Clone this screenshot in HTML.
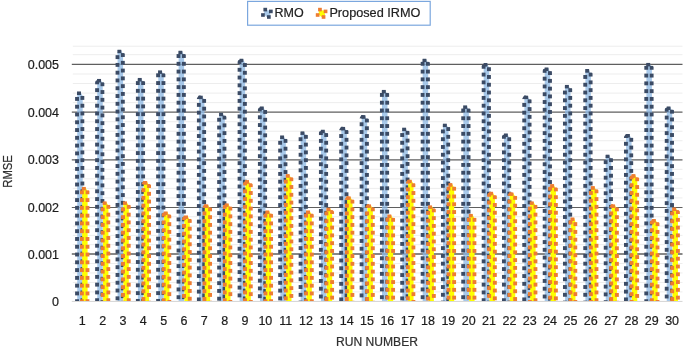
<!DOCTYPE html>
<html><head><meta charset="utf-8"><title>RMSE chart</title>
<style>html,body{margin:0;padding:0;background:#fff}body{width:685px;height:348px;overflow:hidden}</style>
</head><body>
<svg width="685" height="348" viewBox="0 0 685 348" style="display:block">
<rect width="685" height="348" fill="#fff"/>
<defs><clipPath id="c1"><polygon points="74.80,301.10 74.80,94.70 77.00,91.30 81.00,91.30 84.70,95.70 84.70,301.10"/></clipPath><clipPath id="c2"><polygon points="79.60,301.10 79.60,190.10 81.80,186.70 85.80,186.70 89.80,191.10 89.80,301.10"/></clipPath><clipPath id="c3"><polygon points="94.84,301.10 94.84,82.20 97.04,78.80 101.04,78.80 104.74,83.20 104.74,301.10"/></clipPath><clipPath id="c4"><polygon points="100.44,301.10 100.44,204.60 102.64,201.20 106.64,201.20 110.64,205.60 110.64,301.10"/></clipPath><clipPath id="c5"><polygon points="115.18,301.10 115.18,52.90 117.38,49.50 121.38,49.50 125.08,53.90 125.08,301.10"/></clipPath><clipPath id="c6"><polygon points="120.78,301.10 120.78,204.60 122.98,201.20 126.98,201.20 130.98,205.60 130.98,301.10"/></clipPath><clipPath id="c7"><polygon points="135.52,301.10 135.52,81.20 137.72,77.80 141.72,77.80 145.42,82.20 145.42,301.10"/></clipPath><clipPath id="c8"><polygon points="141.12,301.10 141.12,184.40 143.32,181.00 147.32,181.00 151.32,185.40 151.32,301.10"/></clipPath><clipPath id="c9"><polygon points="155.86,301.10 155.86,73.60 158.06,70.20 162.06,70.20 165.76,74.60 165.76,301.10"/></clipPath><clipPath id="c10"><polygon points="161.46,301.10 161.46,214.70 163.66,211.30 167.66,211.30 171.66,215.70 171.66,301.10"/></clipPath><clipPath id="c11"><polygon points="176.20,301.10 176.20,53.90 178.40,50.50 182.40,50.50 186.10,54.90 186.10,301.10"/></clipPath><clipPath id="c12"><polygon points="181.80,301.10 181.80,218.70 184.00,215.30 188.00,215.30 192.00,219.70 192.00,301.10"/></clipPath><clipPath id="c13"><polygon points="196.54,301.10 196.54,98.80 198.74,95.40 202.74,95.40 206.44,99.80 206.44,301.10"/></clipPath><clipPath id="c14"><polygon points="202.14,301.10 202.14,207.60 204.34,204.20 208.34,204.20 212.34,208.60 212.34,301.10"/></clipPath><clipPath id="c15"><polygon points="216.88,301.10 216.88,115.90 219.08,112.50 223.08,112.50 226.78,116.90 226.78,301.10"/></clipPath><clipPath id="c16"><polygon points="222.48,301.10 222.48,206.60 224.68,203.20 228.68,203.20 232.68,207.60 232.68,301.10"/></clipPath><clipPath id="c17"><polygon points="237.22,301.10 237.22,61.90 239.42,58.50 243.42,58.50 247.12,62.90 247.12,301.10"/></clipPath><clipPath id="c18"><polygon points="242.82,301.10 242.82,183.50 245.02,180.10 249.02,180.10 253.02,184.50 253.02,301.10"/></clipPath><clipPath id="c19"><polygon points="257.56,301.10 257.56,109.70 259.76,106.30 263.76,106.30 267.46,110.70 267.46,301.10"/></clipPath><clipPath id="c20"><polygon points="263.16,301.10 263.16,213.70 265.36,210.30 269.36,210.30 273.36,214.70 273.36,301.10"/></clipPath><clipPath id="c21"><polygon points="277.90,301.10 277.90,138.70 280.10,135.30 284.10,135.30 287.80,139.70 287.80,301.10"/></clipPath><clipPath id="c22"><polygon points="283.50,301.10 283.50,177.50 285.70,174.10 289.70,174.10 293.70,178.50 293.70,301.10"/></clipPath><clipPath id="c23"><polygon points="298.24,301.10 298.24,134.60 300.44,131.20 304.44,131.20 308.14,135.60 308.14,301.10"/></clipPath><clipPath id="c24"><polygon points="303.84,301.10 303.84,213.70 306.04,210.30 310.04,210.30 314.04,214.70 314.04,301.10"/></clipPath><clipPath id="c25"><polygon points="318.58,301.10 318.58,132.90 320.78,129.50 324.78,129.50 328.48,133.90 328.48,301.10"/></clipPath><clipPath id="c26"><polygon points="324.18,301.10 324.18,211.00 326.38,207.60 330.38,207.60 334.38,212.00 334.38,301.10"/></clipPath><clipPath id="c27"><polygon points="338.92,301.10 338.92,130.10 341.12,126.70 345.12,126.70 348.82,131.10 348.82,301.10"/></clipPath><clipPath id="c28"><polygon points="344.52,301.10 344.52,199.60 346.72,196.20 350.72,196.20 354.72,200.60 354.72,301.10"/></clipPath><clipPath id="c29"><polygon points="359.26,301.10 359.26,118.50 361.46,115.10 365.46,115.10 369.16,119.50 369.16,301.10"/></clipPath><clipPath id="c30"><polygon points="364.86,301.10 364.86,207.60 367.06,204.20 371.06,204.20 375.06,208.60 375.06,301.10"/></clipPath><clipPath id="c31"><polygon points="379.60,301.10 379.60,93.10 381.80,89.70 385.80,89.70 389.50,94.10 389.50,301.10"/></clipPath><clipPath id="c32"><polygon points="385.20,301.10 385.20,217.70 387.40,214.30 391.40,214.30 395.40,218.70 395.40,301.10"/></clipPath><clipPath id="c33"><polygon points="399.94,301.10 399.94,130.80 402.14,127.40 406.14,127.40 409.84,131.80 409.84,301.10"/></clipPath><clipPath id="c34"><polygon points="405.54,301.10 405.54,182.90 407.74,179.50 411.74,179.50 415.74,183.90 415.74,301.10"/></clipPath><clipPath id="c35"><polygon points="420.28,301.10 420.28,61.90 422.48,58.50 426.48,58.50 430.18,62.90 430.18,301.10"/></clipPath><clipPath id="c36"><polygon points="425.88,301.10 425.88,208.60 428.08,205.20 432.08,205.20 436.08,209.60 436.08,301.10"/></clipPath><clipPath id="c37"><polygon points="440.62,301.10 440.62,126.80 442.82,123.40 446.82,123.40 450.52,127.80 450.52,301.10"/></clipPath><clipPath id="c38"><polygon points="446.22,301.10 446.22,186.50 448.42,183.10 452.42,183.10 456.42,187.50 456.42,301.10"/></clipPath><clipPath id="c39"><polygon points="460.96,301.10 460.96,108.60 463.16,105.20 467.16,105.20 470.86,109.60 470.86,301.10"/></clipPath><clipPath id="c40"><polygon points="466.56,301.10 466.56,217.10 468.76,213.70 472.76,213.70 476.76,218.10 476.76,301.10"/></clipPath><clipPath id="c41"><polygon points="481.30,301.10 481.30,66.30 483.50,62.90 487.50,62.90 491.20,67.30 491.20,301.10"/></clipPath><clipPath id="c42"><polygon points="486.90,301.10 486.90,195.00 489.10,191.60 493.10,191.60 497.10,196.00 497.10,301.10"/></clipPath><clipPath id="c43"><polygon points="501.64,301.10 501.64,136.70 503.84,133.30 507.84,133.30 511.54,137.70 511.54,301.10"/></clipPath><clipPath id="c44"><polygon points="507.24,301.10 507.24,195.60 509.44,192.20 513.44,192.20 517.44,196.60 517.44,301.10"/></clipPath><clipPath id="c45"><polygon points="521.98,301.10 521.98,98.80 524.18,95.40 528.18,95.40 531.88,99.80 531.88,301.10"/></clipPath><clipPath id="c46"><polygon points="527.58,301.10 527.58,204.60 529.78,201.20 533.78,201.20 537.78,205.60 537.78,301.10"/></clipPath><clipPath id="c47"><polygon points="542.32,301.10 542.32,70.70 544.52,67.30 548.52,67.30 552.22,71.70 552.22,301.10"/></clipPath><clipPath id="c48"><polygon points="547.92,301.10 547.92,187.50 550.12,184.10 554.12,184.10 558.12,188.50 558.12,301.10"/></clipPath><clipPath id="c49"><polygon points="562.66,301.10 562.66,88.10 564.86,84.70 568.86,84.70 572.56,89.10 572.56,301.10"/></clipPath><clipPath id="c50"><polygon points="568.26,301.10 568.26,220.70 570.46,217.30 574.46,217.30 577.66,221.70 577.66,301.10"/></clipPath><clipPath id="c51"><polygon points="583.00,301.10 583.00,72.40 585.20,69.00 589.20,69.00 592.90,73.40 592.90,301.10"/></clipPath><clipPath id="c52"><polygon points="588.60,301.10 588.60,189.50 590.80,186.10 594.80,186.10 598.80,190.50 598.80,301.10"/></clipPath><clipPath id="c53"><polygon points="603.34,301.10 603.34,157.80 605.54,154.40 609.54,154.40 613.24,158.80 613.24,301.10"/></clipPath><clipPath id="c54"><polygon points="608.94,301.10 608.94,207.60 611.14,204.20 615.14,204.20 619.14,208.60 619.14,301.10"/></clipPath><clipPath id="c55"><polygon points="623.68,301.10 623.68,137.30 625.88,133.90 629.88,133.90 633.58,138.30 633.58,301.10"/></clipPath><clipPath id="c56"><polygon points="629.28,301.10 629.28,177.50 631.48,174.10 635.48,174.10 639.48,178.50 639.48,301.10"/></clipPath><clipPath id="c57"><polygon points="644.02,301.10 644.02,66.10 646.22,62.70 650.22,62.70 653.92,67.10 653.92,301.10"/></clipPath><clipPath id="c58"><polygon points="649.62,301.10 649.62,222.30 651.82,218.90 655.82,218.90 659.82,223.30 659.82,301.10"/></clipPath><clipPath id="c59"><polygon points="664.36,301.10 664.36,109.70 666.56,106.30 670.56,106.30 674.26,110.70 674.26,301.10"/></clipPath><clipPath id="c60"><polygon points="669.96,301.10 669.96,210.70 672.16,207.30 676.16,207.30 680.16,211.70 680.16,301.10"/></clipPath></defs>
<g stroke="#ededed" stroke-width="1">
<line x1="72.8" x2="682.5" y1="291.92" y2="291.92"/>
<line x1="72.8" x2="682.5" y1="282.44" y2="282.44"/>
<line x1="72.8" x2="682.5" y1="272.96" y2="272.96"/>
<line x1="72.8" x2="682.5" y1="263.48" y2="263.48"/>
<line x1="72.8" x2="682.5" y1="244.69" y2="244.69"/>
<line x1="72.8" x2="682.5" y1="235.38" y2="235.38"/>
<line x1="72.8" x2="682.5" y1="226.07" y2="226.07"/>
<line x1="72.8" x2="682.5" y1="216.76" y2="216.76"/>
<line x1="72.8" x2="682.5" y1="197.92" y2="197.92"/>
<line x1="72.8" x2="682.5" y1="188.39" y2="188.39"/>
<line x1="72.8" x2="682.5" y1="178.86" y2="178.86"/>
<line x1="72.8" x2="682.5" y1="169.33" y2="169.33"/>
<line x1="72.8" x2="682.5" y1="150.28" y2="150.28"/>
<line x1="72.8" x2="682.5" y1="140.76" y2="140.76"/>
<line x1="72.8" x2="682.5" y1="131.24" y2="131.24"/>
<line x1="72.8" x2="682.5" y1="121.72" y2="121.72"/>
<line x1="72.8" x2="682.5" y1="102.65" y2="102.65"/>
<line x1="72.8" x2="682.5" y1="93.10" y2="93.10"/>
<line x1="72.8" x2="682.5" y1="83.55" y2="83.55"/>
<line x1="72.8" x2="682.5" y1="74.00" y2="74.00"/>
<line x1="72.8" x2="682.5" y1="54.70" y2="54.70"/>
<line x1="72.8" x2="682.5" y1="46.20" y2="46.20"/>
</g>
<g stroke="#5f5f5f">
<line x1="71.8" x2="682.5" y1="254.00" y2="254.00" stroke-width="1.3"/>
<line x1="71.8" x2="682.5" y1="207.45" y2="207.45" stroke-width="1.1"/>
<line x1="71.8" x2="682.5" y1="159.80" y2="159.80" stroke-width="1.3"/>
<line x1="71.8" x2="682.5" y1="112.20" y2="112.20" stroke-width="1.3"/>
<line x1="71.8" x2="682.5" y1="64.45" y2="64.45" stroke-width="1.15"/>
</g>
<line x1="71.8" x2="682.5" y1="301.4" y2="301.4" stroke="#d4d4d4" stroke-width="1"/>
<filter id="sb" x="-2%" y="-2%" width="104%" height="104%"><feGaussianBlur stdDeviation="0.35"/></filter>
<g id="bars" filter="url(#sb)">
<g>
<polygon fill="#8bb7e3" fill-opacity="0.75" points="77.20,301.10 77.20,94.30 78.70,92.10 80.40,92.10 82.70,95.90 82.70,301.10"/>
<g fill="#3b4b65" clip-path="url(#c1)">
<rect x="77.00" y="91.30" width="4.0" height="3.6999999999999997"/>
<rect x="75.10" y="96.97" width="3.9" height="3.9"/>
<rect x="75.10" y="104.75" width="3.9" height="3.9"/>
<rect x="75.10" y="112.53" width="3.9" height="3.9"/>
<rect x="75.10" y="120.31" width="3.9" height="3.9"/>
<rect x="75.10" y="128.09" width="3.9" height="3.9"/>
<rect x="75.10" y="135.87" width="3.9" height="3.9"/>
<rect x="75.10" y="143.65" width="3.9" height="3.9"/>
<rect x="75.10" y="151.43" width="3.9" height="3.9"/>
<rect x="75.10" y="159.21" width="3.9" height="3.9"/>
<rect x="75.10" y="166.99" width="3.9" height="3.9"/>
<rect x="75.10" y="174.77" width="3.9" height="3.9"/>
<rect x="75.10" y="182.55" width="3.9" height="3.9"/>
<rect x="75.10" y="190.33" width="3.9" height="3.9"/>
<rect x="75.10" y="198.11" width="3.9" height="3.9"/>
<rect x="75.10" y="205.89" width="3.9" height="3.9"/>
<rect x="75.10" y="213.67" width="3.9" height="3.9"/>
<rect x="75.10" y="221.45" width="3.9" height="3.9"/>
<rect x="75.10" y="229.23" width="3.9" height="3.9"/>
<rect x="75.10" y="237.01" width="3.9" height="3.9"/>
<rect x="75.10" y="244.79" width="3.9" height="3.9"/>
<rect x="75.10" y="252.57" width="3.9" height="3.9"/>
<rect x="75.10" y="260.35" width="3.9" height="3.9"/>
<rect x="75.10" y="268.13" width="3.9" height="3.9"/>
<rect x="75.10" y="275.91" width="3.9" height="3.9"/>
<rect x="75.10" y="283.69" width="3.9" height="3.9"/>
<rect x="75.10" y="291.47" width="3.9" height="3.9"/>
<rect x="75.10" y="299.25" width="3.9" height="3.9"/>
<rect x="80.50" y="95.97" width="3.9" height="3.9"/>
<rect x="80.50" y="103.75" width="3.9" height="3.9"/>
<rect x="80.50" y="111.53" width="3.9" height="3.9"/>
<rect x="80.50" y="119.31" width="3.9" height="3.9"/>
<rect x="80.50" y="127.09" width="3.9" height="3.9"/>
<rect x="80.50" y="134.87" width="3.9" height="3.9"/>
<rect x="80.50" y="142.65" width="3.9" height="3.9"/>
<rect x="80.50" y="150.43" width="3.9" height="3.9"/>
<rect x="80.50" y="158.21" width="3.9" height="3.9"/>
<rect x="80.50" y="165.99" width="3.9" height="3.9"/>
<rect x="80.50" y="173.77" width="3.9" height="3.9"/>
<rect x="80.50" y="181.55" width="3.9" height="3.9"/>
<rect x="80.50" y="189.33" width="3.9" height="3.9"/>
<rect x="80.50" y="197.11" width="3.9" height="3.9"/>
<rect x="80.50" y="204.89" width="3.9" height="3.9"/>
<rect x="80.50" y="212.67" width="3.9" height="3.9"/>
<rect x="80.50" y="220.45" width="3.9" height="3.9"/>
<rect x="80.50" y="228.23" width="3.9" height="3.9"/>
<rect x="80.50" y="236.01" width="3.9" height="3.9"/>
<rect x="80.50" y="243.79" width="3.9" height="3.9"/>
<rect x="80.50" y="251.57" width="3.9" height="3.9"/>
<rect x="80.50" y="259.35" width="3.9" height="3.9"/>
<rect x="80.50" y="267.13" width="3.9" height="3.9"/>
<rect x="80.50" y="274.91" width="3.9" height="3.9"/>
<rect x="80.50" y="282.69" width="3.9" height="3.9"/>
<rect x="80.50" y="290.47" width="3.9" height="3.9"/>
<rect x="80.50" y="298.25" width="3.9" height="3.9"/>
</g>
<polygon fill="#ffff00" fill-opacity="1" points="82.20,301.10 82.20,189.70 83.70,187.50 85.40,187.50 87.60,191.30 87.60,301.10"/>
<g fill="#ed7d31" clip-path="url(#c2)">
<rect x="81.80" y="186.70" width="4.0" height="3.6999999999999997"/>
<rect x="79.90" y="190.35" width="3.9" height="3.9"/>
<rect x="79.90" y="198.13" width="3.9" height="3.9"/>
<rect x="79.90" y="205.91" width="3.9" height="3.9"/>
<rect x="79.90" y="213.69" width="3.9" height="3.9"/>
<rect x="79.90" y="221.47" width="3.9" height="3.9"/>
<rect x="79.90" y="229.25" width="3.9" height="3.9"/>
<rect x="79.90" y="237.03" width="3.9" height="3.9"/>
<rect x="79.90" y="244.81" width="3.9" height="3.9"/>
<rect x="79.90" y="252.59" width="3.9" height="3.9"/>
<rect x="79.90" y="260.37" width="3.9" height="3.9"/>
<rect x="79.90" y="268.15" width="3.9" height="3.9"/>
<rect x="79.90" y="275.93" width="3.9" height="3.9"/>
<rect x="79.90" y="283.71" width="3.9" height="3.9"/>
<rect x="79.90" y="291.49" width="3.9" height="3.9"/>
<rect x="79.90" y="299.27" width="3.9" height="3.9"/>
<rect x="85.60" y="190.35" width="3.9" height="3.9"/>
<rect x="85.60" y="198.13" width="3.9" height="3.9"/>
<rect x="85.60" y="205.91" width="3.9" height="3.9"/>
<rect x="85.60" y="213.69" width="3.9" height="3.9"/>
<rect x="85.60" y="221.47" width="3.9" height="3.9"/>
<rect x="85.60" y="229.25" width="3.9" height="3.9"/>
<rect x="85.60" y="237.03" width="3.9" height="3.9"/>
<rect x="85.60" y="244.81" width="3.9" height="3.9"/>
<rect x="85.60" y="252.59" width="3.9" height="3.9"/>
<rect x="85.60" y="260.37" width="3.9" height="3.9"/>
<rect x="85.60" y="268.15" width="3.9" height="3.9"/>
<rect x="85.60" y="275.93" width="3.9" height="3.9"/>
<rect x="85.60" y="283.71" width="3.9" height="3.9"/>
<rect x="85.60" y="291.49" width="3.9" height="3.9"/>
<rect x="85.60" y="299.27" width="3.9" height="3.9"/>
</g>
</g>
<g>
<polygon fill="#8bb7e3" fill-opacity="0.75" points="97.24,301.10 97.24,81.80 98.74,79.60 100.44,79.60 102.74,83.40 102.74,301.10"/>
<g fill="#3b4b65" clip-path="url(#c3)">
<rect x="97.04" y="78.80" width="4.0" height="3.6999999999999997"/>
<rect x="95.14" y="80.41" width="3.9" height="3.9"/>
<rect x="95.14" y="88.19" width="3.9" height="3.9"/>
<rect x="95.14" y="95.97" width="3.9" height="3.9"/>
<rect x="95.14" y="103.75" width="3.9" height="3.9"/>
<rect x="95.14" y="111.53" width="3.9" height="3.9"/>
<rect x="95.14" y="119.31" width="3.9" height="3.9"/>
<rect x="95.14" y="127.09" width="3.9" height="3.9"/>
<rect x="95.14" y="134.87" width="3.9" height="3.9"/>
<rect x="95.14" y="142.65" width="3.9" height="3.9"/>
<rect x="95.14" y="150.43" width="3.9" height="3.9"/>
<rect x="95.14" y="158.21" width="3.9" height="3.9"/>
<rect x="95.14" y="165.99" width="3.9" height="3.9"/>
<rect x="95.14" y="173.77" width="3.9" height="3.9"/>
<rect x="95.14" y="181.55" width="3.9" height="3.9"/>
<rect x="95.14" y="189.33" width="3.9" height="3.9"/>
<rect x="95.14" y="197.11" width="3.9" height="3.9"/>
<rect x="95.14" y="204.89" width="3.9" height="3.9"/>
<rect x="95.14" y="212.67" width="3.9" height="3.9"/>
<rect x="95.14" y="220.45" width="3.9" height="3.9"/>
<rect x="95.14" y="228.23" width="3.9" height="3.9"/>
<rect x="95.14" y="236.01" width="3.9" height="3.9"/>
<rect x="95.14" y="243.79" width="3.9" height="3.9"/>
<rect x="95.14" y="251.57" width="3.9" height="3.9"/>
<rect x="95.14" y="259.35" width="3.9" height="3.9"/>
<rect x="95.14" y="267.13" width="3.9" height="3.9"/>
<rect x="95.14" y="274.91" width="3.9" height="3.9"/>
<rect x="95.14" y="282.69" width="3.9" height="3.9"/>
<rect x="95.14" y="290.47" width="3.9" height="3.9"/>
<rect x="95.14" y="298.25" width="3.9" height="3.9"/>
<rect x="100.54" y="82.31" width="3.9" height="3.9"/>
<rect x="100.54" y="90.09" width="3.9" height="3.9"/>
<rect x="100.54" y="97.87" width="3.9" height="3.9"/>
<rect x="100.54" y="105.65" width="3.9" height="3.9"/>
<rect x="100.54" y="113.43" width="3.9" height="3.9"/>
<rect x="100.54" y="121.21" width="3.9" height="3.9"/>
<rect x="100.54" y="128.99" width="3.9" height="3.9"/>
<rect x="100.54" y="136.77" width="3.9" height="3.9"/>
<rect x="100.54" y="144.55" width="3.9" height="3.9"/>
<rect x="100.54" y="152.33" width="3.9" height="3.9"/>
<rect x="100.54" y="160.11" width="3.9" height="3.9"/>
<rect x="100.54" y="167.89" width="3.9" height="3.9"/>
<rect x="100.54" y="175.67" width="3.9" height="3.9"/>
<rect x="100.54" y="183.45" width="3.9" height="3.9"/>
<rect x="100.54" y="191.23" width="3.9" height="3.9"/>
<rect x="100.54" y="199.01" width="3.9" height="3.9"/>
<rect x="100.54" y="206.79" width="3.9" height="3.9"/>
<rect x="100.54" y="214.57" width="3.9" height="3.9"/>
<rect x="100.54" y="222.35" width="3.9" height="3.9"/>
<rect x="100.54" y="230.13" width="3.9" height="3.9"/>
<rect x="100.54" y="237.91" width="3.9" height="3.9"/>
<rect x="100.54" y="245.69" width="3.9" height="3.9"/>
<rect x="100.54" y="253.47" width="3.9" height="3.9"/>
<rect x="100.54" y="261.25" width="3.9" height="3.9"/>
<rect x="100.54" y="269.03" width="3.9" height="3.9"/>
<rect x="100.54" y="276.81" width="3.9" height="3.9"/>
<rect x="100.54" y="284.59" width="3.9" height="3.9"/>
<rect x="100.54" y="292.37" width="3.9" height="3.9"/>
<rect x="100.54" y="300.15" width="3.9" height="3.9"/>
</g>
<polygon fill="#ffff00" fill-opacity="1" points="103.04,301.10 103.04,204.20 104.54,202.00 106.24,202.00 108.44,205.80 108.44,301.10"/>
<g fill="#ed7d31" clip-path="url(#c4)">
<rect x="102.64" y="201.20" width="4.0" height="3.6999999999999997"/>
<rect x="100.74" y="207.41" width="3.9" height="3.9"/>
<rect x="100.74" y="215.19" width="3.9" height="3.9"/>
<rect x="100.74" y="222.97" width="3.9" height="3.9"/>
<rect x="100.74" y="230.75" width="3.9" height="3.9"/>
<rect x="100.74" y="238.53" width="3.9" height="3.9"/>
<rect x="100.74" y="246.31" width="3.9" height="3.9"/>
<rect x="100.74" y="254.09" width="3.9" height="3.9"/>
<rect x="100.74" y="261.87" width="3.9" height="3.9"/>
<rect x="100.74" y="269.65" width="3.9" height="3.9"/>
<rect x="100.74" y="277.43" width="3.9" height="3.9"/>
<rect x="100.74" y="285.21" width="3.9" height="3.9"/>
<rect x="100.74" y="292.99" width="3.9" height="3.9"/>
<rect x="100.74" y="300.77" width="3.9" height="3.9"/>
<rect x="106.44" y="204.91" width="3.9" height="3.9"/>
<rect x="106.44" y="212.69" width="3.9" height="3.9"/>
<rect x="106.44" y="220.47" width="3.9" height="3.9"/>
<rect x="106.44" y="228.25" width="3.9" height="3.9"/>
<rect x="106.44" y="236.03" width="3.9" height="3.9"/>
<rect x="106.44" y="243.81" width="3.9" height="3.9"/>
<rect x="106.44" y="251.59" width="3.9" height="3.9"/>
<rect x="106.44" y="259.37" width="3.9" height="3.9"/>
<rect x="106.44" y="267.15" width="3.9" height="3.9"/>
<rect x="106.44" y="274.93" width="3.9" height="3.9"/>
<rect x="106.44" y="282.71" width="3.9" height="3.9"/>
<rect x="106.44" y="290.49" width="3.9" height="3.9"/>
<rect x="106.44" y="298.27" width="3.9" height="3.9"/>
</g>
</g>
<g>
<polygon fill="#8bb7e3" fill-opacity="0.75" points="117.58,301.10 117.58,52.50 119.08,50.30 120.78,50.30 123.08,54.10 123.08,301.10"/>
<g fill="#3b4b65" clip-path="url(#c5)">
<rect x="117.38" y="49.50" width="4.0" height="3.6999999999999997"/>
<rect x="115.48" y="55.17" width="3.9" height="3.9"/>
<rect x="115.48" y="62.95" width="3.9" height="3.9"/>
<rect x="115.48" y="70.73" width="3.9" height="3.9"/>
<rect x="115.48" y="78.51" width="3.9" height="3.9"/>
<rect x="115.48" y="86.29" width="3.9" height="3.9"/>
<rect x="115.48" y="94.07" width="3.9" height="3.9"/>
<rect x="115.48" y="101.85" width="3.9" height="3.9"/>
<rect x="115.48" y="109.63" width="3.9" height="3.9"/>
<rect x="115.48" y="117.41" width="3.9" height="3.9"/>
<rect x="115.48" y="125.19" width="3.9" height="3.9"/>
<rect x="115.48" y="132.97" width="3.9" height="3.9"/>
<rect x="115.48" y="140.75" width="3.9" height="3.9"/>
<rect x="115.48" y="148.53" width="3.9" height="3.9"/>
<rect x="115.48" y="156.31" width="3.9" height="3.9"/>
<rect x="115.48" y="164.09" width="3.9" height="3.9"/>
<rect x="115.48" y="171.87" width="3.9" height="3.9"/>
<rect x="115.48" y="179.65" width="3.9" height="3.9"/>
<rect x="115.48" y="187.43" width="3.9" height="3.9"/>
<rect x="115.48" y="195.21" width="3.9" height="3.9"/>
<rect x="115.48" y="202.99" width="3.9" height="3.9"/>
<rect x="115.48" y="210.77" width="3.9" height="3.9"/>
<rect x="115.48" y="218.55" width="3.9" height="3.9"/>
<rect x="115.48" y="226.33" width="3.9" height="3.9"/>
<rect x="115.48" y="234.11" width="3.9" height="3.9"/>
<rect x="115.48" y="241.89" width="3.9" height="3.9"/>
<rect x="115.48" y="249.67" width="3.9" height="3.9"/>
<rect x="115.48" y="257.45" width="3.9" height="3.9"/>
<rect x="115.48" y="265.23" width="3.9" height="3.9"/>
<rect x="115.48" y="273.01" width="3.9" height="3.9"/>
<rect x="115.48" y="280.79" width="3.9" height="3.9"/>
<rect x="115.48" y="288.57" width="3.9" height="3.9"/>
<rect x="115.48" y="296.35" width="3.9" height="3.9"/>
<rect x="120.88" y="53.07" width="3.9" height="3.9"/>
<rect x="120.88" y="60.85" width="3.9" height="3.9"/>
<rect x="120.88" y="68.63" width="3.9" height="3.9"/>
<rect x="120.88" y="76.41" width="3.9" height="3.9"/>
<rect x="120.88" y="84.19" width="3.9" height="3.9"/>
<rect x="120.88" y="91.97" width="3.9" height="3.9"/>
<rect x="120.88" y="99.75" width="3.9" height="3.9"/>
<rect x="120.88" y="107.53" width="3.9" height="3.9"/>
<rect x="120.88" y="115.31" width="3.9" height="3.9"/>
<rect x="120.88" y="123.09" width="3.9" height="3.9"/>
<rect x="120.88" y="130.87" width="3.9" height="3.9"/>
<rect x="120.88" y="138.65" width="3.9" height="3.9"/>
<rect x="120.88" y="146.43" width="3.9" height="3.9"/>
<rect x="120.88" y="154.21" width="3.9" height="3.9"/>
<rect x="120.88" y="161.99" width="3.9" height="3.9"/>
<rect x="120.88" y="169.77" width="3.9" height="3.9"/>
<rect x="120.88" y="177.55" width="3.9" height="3.9"/>
<rect x="120.88" y="185.33" width="3.9" height="3.9"/>
<rect x="120.88" y="193.11" width="3.9" height="3.9"/>
<rect x="120.88" y="200.89" width="3.9" height="3.9"/>
<rect x="120.88" y="208.67" width="3.9" height="3.9"/>
<rect x="120.88" y="216.45" width="3.9" height="3.9"/>
<rect x="120.88" y="224.23" width="3.9" height="3.9"/>
<rect x="120.88" y="232.01" width="3.9" height="3.9"/>
<rect x="120.88" y="239.79" width="3.9" height="3.9"/>
<rect x="120.88" y="247.57" width="3.9" height="3.9"/>
<rect x="120.88" y="255.35" width="3.9" height="3.9"/>
<rect x="120.88" y="263.13" width="3.9" height="3.9"/>
<rect x="120.88" y="270.91" width="3.9" height="3.9"/>
<rect x="120.88" y="278.69" width="3.9" height="3.9"/>
<rect x="120.88" y="286.47" width="3.9" height="3.9"/>
<rect x="120.88" y="294.25" width="3.9" height="3.9"/>
</g>
<polygon fill="#ffff00" fill-opacity="1" points="123.38,301.10 123.38,204.20 124.88,202.00 126.58,202.00 128.78,205.80 128.78,301.10"/>
<g fill="#ed7d31" clip-path="url(#c6)">
<rect x="122.98" y="201.20" width="4.0" height="3.6999999999999997"/>
<rect x="121.08" y="207.41" width="3.9" height="3.9"/>
<rect x="121.08" y="215.19" width="3.9" height="3.9"/>
<rect x="121.08" y="222.97" width="3.9" height="3.9"/>
<rect x="121.08" y="230.75" width="3.9" height="3.9"/>
<rect x="121.08" y="238.53" width="3.9" height="3.9"/>
<rect x="121.08" y="246.31" width="3.9" height="3.9"/>
<rect x="121.08" y="254.09" width="3.9" height="3.9"/>
<rect x="121.08" y="261.87" width="3.9" height="3.9"/>
<rect x="121.08" y="269.65" width="3.9" height="3.9"/>
<rect x="121.08" y="277.43" width="3.9" height="3.9"/>
<rect x="121.08" y="285.21" width="3.9" height="3.9"/>
<rect x="121.08" y="292.99" width="3.9" height="3.9"/>
<rect x="121.08" y="300.77" width="3.9" height="3.9"/>
<rect x="126.78" y="204.91" width="3.9" height="3.9"/>
<rect x="126.78" y="212.69" width="3.9" height="3.9"/>
<rect x="126.78" y="220.47" width="3.9" height="3.9"/>
<rect x="126.78" y="228.25" width="3.9" height="3.9"/>
<rect x="126.78" y="236.03" width="3.9" height="3.9"/>
<rect x="126.78" y="243.81" width="3.9" height="3.9"/>
<rect x="126.78" y="251.59" width="3.9" height="3.9"/>
<rect x="126.78" y="259.37" width="3.9" height="3.9"/>
<rect x="126.78" y="267.15" width="3.9" height="3.9"/>
<rect x="126.78" y="274.93" width="3.9" height="3.9"/>
<rect x="126.78" y="282.71" width="3.9" height="3.9"/>
<rect x="126.78" y="290.49" width="3.9" height="3.9"/>
<rect x="126.78" y="298.27" width="3.9" height="3.9"/>
</g>
</g>
<g>
<polygon fill="#8bb7e3" fill-opacity="0.75" points="137.92,301.10 137.92,80.80 139.42,78.60 141.12,78.60 143.42,82.40 143.42,301.10"/>
<g fill="#3b4b65" clip-path="url(#c7)">
<rect x="137.72" y="77.80" width="4.0" height="3.6999999999999997"/>
<rect x="135.82" y="81.11" width="3.9" height="3.9"/>
<rect x="135.82" y="88.89" width="3.9" height="3.9"/>
<rect x="135.82" y="96.67" width="3.9" height="3.9"/>
<rect x="135.82" y="104.45" width="3.9" height="3.9"/>
<rect x="135.82" y="112.23" width="3.9" height="3.9"/>
<rect x="135.82" y="120.01" width="3.9" height="3.9"/>
<rect x="135.82" y="127.79" width="3.9" height="3.9"/>
<rect x="135.82" y="135.57" width="3.9" height="3.9"/>
<rect x="135.82" y="143.35" width="3.9" height="3.9"/>
<rect x="135.82" y="151.13" width="3.9" height="3.9"/>
<rect x="135.82" y="158.91" width="3.9" height="3.9"/>
<rect x="135.82" y="166.69" width="3.9" height="3.9"/>
<rect x="135.82" y="174.47" width="3.9" height="3.9"/>
<rect x="135.82" y="182.25" width="3.9" height="3.9"/>
<rect x="135.82" y="190.03" width="3.9" height="3.9"/>
<rect x="135.82" y="197.81" width="3.9" height="3.9"/>
<rect x="135.82" y="205.59" width="3.9" height="3.9"/>
<rect x="135.82" y="213.37" width="3.9" height="3.9"/>
<rect x="135.82" y="221.15" width="3.9" height="3.9"/>
<rect x="135.82" y="228.93" width="3.9" height="3.9"/>
<rect x="135.82" y="236.71" width="3.9" height="3.9"/>
<rect x="135.82" y="244.49" width="3.9" height="3.9"/>
<rect x="135.82" y="252.27" width="3.9" height="3.9"/>
<rect x="135.82" y="260.05" width="3.9" height="3.9"/>
<rect x="135.82" y="267.83" width="3.9" height="3.9"/>
<rect x="135.82" y="275.61" width="3.9" height="3.9"/>
<rect x="135.82" y="283.39" width="3.9" height="3.9"/>
<rect x="135.82" y="291.17" width="3.9" height="3.9"/>
<rect x="135.82" y="298.95" width="3.9" height="3.9"/>
<rect x="141.22" y="81.11" width="3.9" height="3.9"/>
<rect x="141.22" y="88.89" width="3.9" height="3.9"/>
<rect x="141.22" y="96.67" width="3.9" height="3.9"/>
<rect x="141.22" y="104.45" width="3.9" height="3.9"/>
<rect x="141.22" y="112.23" width="3.9" height="3.9"/>
<rect x="141.22" y="120.01" width="3.9" height="3.9"/>
<rect x="141.22" y="127.79" width="3.9" height="3.9"/>
<rect x="141.22" y="135.57" width="3.9" height="3.9"/>
<rect x="141.22" y="143.35" width="3.9" height="3.9"/>
<rect x="141.22" y="151.13" width="3.9" height="3.9"/>
<rect x="141.22" y="158.91" width="3.9" height="3.9"/>
<rect x="141.22" y="166.69" width="3.9" height="3.9"/>
<rect x="141.22" y="174.47" width="3.9" height="3.9"/>
<rect x="141.22" y="182.25" width="3.9" height="3.9"/>
<rect x="141.22" y="190.03" width="3.9" height="3.9"/>
<rect x="141.22" y="197.81" width="3.9" height="3.9"/>
<rect x="141.22" y="205.59" width="3.9" height="3.9"/>
<rect x="141.22" y="213.37" width="3.9" height="3.9"/>
<rect x="141.22" y="221.15" width="3.9" height="3.9"/>
<rect x="141.22" y="228.93" width="3.9" height="3.9"/>
<rect x="141.22" y="236.71" width="3.9" height="3.9"/>
<rect x="141.22" y="244.49" width="3.9" height="3.9"/>
<rect x="141.22" y="252.27" width="3.9" height="3.9"/>
<rect x="141.22" y="260.05" width="3.9" height="3.9"/>
<rect x="141.22" y="267.83" width="3.9" height="3.9"/>
<rect x="141.22" y="275.61" width="3.9" height="3.9"/>
<rect x="141.22" y="283.39" width="3.9" height="3.9"/>
<rect x="141.22" y="291.17" width="3.9" height="3.9"/>
<rect x="141.22" y="298.95" width="3.9" height="3.9"/>
</g>
<polygon fill="#ffff00" fill-opacity="1" points="143.72,301.10 143.72,184.00 145.22,181.80 146.92,181.80 149.12,185.60 149.12,301.10"/>
<g fill="#ed7d31" clip-path="url(#c8)">
<rect x="143.32" y="181.00" width="4.0" height="3.6999999999999997"/>
<rect x="141.42" y="180.37" width="3.9" height="3.9"/>
<rect x="141.42" y="188.15" width="3.9" height="3.9"/>
<rect x="141.42" y="195.93" width="3.9" height="3.9"/>
<rect x="141.42" y="203.71" width="3.9" height="3.9"/>
<rect x="141.42" y="211.49" width="3.9" height="3.9"/>
<rect x="141.42" y="219.27" width="3.9" height="3.9"/>
<rect x="141.42" y="227.05" width="3.9" height="3.9"/>
<rect x="141.42" y="234.83" width="3.9" height="3.9"/>
<rect x="141.42" y="242.61" width="3.9" height="3.9"/>
<rect x="141.42" y="250.39" width="3.9" height="3.9"/>
<rect x="141.42" y="258.17" width="3.9" height="3.9"/>
<rect x="141.42" y="265.95" width="3.9" height="3.9"/>
<rect x="141.42" y="273.73" width="3.9" height="3.9"/>
<rect x="141.42" y="281.51" width="3.9" height="3.9"/>
<rect x="141.42" y="289.29" width="3.9" height="3.9"/>
<rect x="141.42" y="297.07" width="3.9" height="3.9"/>
<rect x="147.12" y="184.07" width="3.9" height="3.9"/>
<rect x="147.12" y="191.85" width="3.9" height="3.9"/>
<rect x="147.12" y="199.63" width="3.9" height="3.9"/>
<rect x="147.12" y="207.41" width="3.9" height="3.9"/>
<rect x="147.12" y="215.19" width="3.9" height="3.9"/>
<rect x="147.12" y="222.97" width="3.9" height="3.9"/>
<rect x="147.12" y="230.75" width="3.9" height="3.9"/>
<rect x="147.12" y="238.53" width="3.9" height="3.9"/>
<rect x="147.12" y="246.31" width="3.9" height="3.9"/>
<rect x="147.12" y="254.09" width="3.9" height="3.9"/>
<rect x="147.12" y="261.87" width="3.9" height="3.9"/>
<rect x="147.12" y="269.65" width="3.9" height="3.9"/>
<rect x="147.12" y="277.43" width="3.9" height="3.9"/>
<rect x="147.12" y="285.21" width="3.9" height="3.9"/>
<rect x="147.12" y="292.99" width="3.9" height="3.9"/>
<rect x="147.12" y="300.77" width="3.9" height="3.9"/>
</g>
</g>
<g>
<polygon fill="#8bb7e3" fill-opacity="0.75" points="158.26,301.10 158.26,73.20 159.76,71.00 161.46,71.00 163.76,74.80 163.76,301.10"/>
<g fill="#3b4b65" clip-path="url(#c9)">
<rect x="158.06" y="70.20" width="4.0" height="3.6999999999999997"/>
<rect x="156.16" y="73.33" width="3.9" height="3.9"/>
<rect x="156.16" y="81.11" width="3.9" height="3.9"/>
<rect x="156.16" y="88.89" width="3.9" height="3.9"/>
<rect x="156.16" y="96.67" width="3.9" height="3.9"/>
<rect x="156.16" y="104.45" width="3.9" height="3.9"/>
<rect x="156.16" y="112.23" width="3.9" height="3.9"/>
<rect x="156.16" y="120.01" width="3.9" height="3.9"/>
<rect x="156.16" y="127.79" width="3.9" height="3.9"/>
<rect x="156.16" y="135.57" width="3.9" height="3.9"/>
<rect x="156.16" y="143.35" width="3.9" height="3.9"/>
<rect x="156.16" y="151.13" width="3.9" height="3.9"/>
<rect x="156.16" y="158.91" width="3.9" height="3.9"/>
<rect x="156.16" y="166.69" width="3.9" height="3.9"/>
<rect x="156.16" y="174.47" width="3.9" height="3.9"/>
<rect x="156.16" y="182.25" width="3.9" height="3.9"/>
<rect x="156.16" y="190.03" width="3.9" height="3.9"/>
<rect x="156.16" y="197.81" width="3.9" height="3.9"/>
<rect x="156.16" y="205.59" width="3.9" height="3.9"/>
<rect x="156.16" y="213.37" width="3.9" height="3.9"/>
<rect x="156.16" y="221.15" width="3.9" height="3.9"/>
<rect x="156.16" y="228.93" width="3.9" height="3.9"/>
<rect x="156.16" y="236.71" width="3.9" height="3.9"/>
<rect x="156.16" y="244.49" width="3.9" height="3.9"/>
<rect x="156.16" y="252.27" width="3.9" height="3.9"/>
<rect x="156.16" y="260.05" width="3.9" height="3.9"/>
<rect x="156.16" y="267.83" width="3.9" height="3.9"/>
<rect x="156.16" y="275.61" width="3.9" height="3.9"/>
<rect x="156.16" y="283.39" width="3.9" height="3.9"/>
<rect x="156.16" y="291.17" width="3.9" height="3.9"/>
<rect x="156.16" y="298.95" width="3.9" height="3.9"/>
<rect x="161.56" y="73.33" width="3.9" height="3.9"/>
<rect x="161.56" y="81.11" width="3.9" height="3.9"/>
<rect x="161.56" y="88.89" width="3.9" height="3.9"/>
<rect x="161.56" y="96.67" width="3.9" height="3.9"/>
<rect x="161.56" y="104.45" width="3.9" height="3.9"/>
<rect x="161.56" y="112.23" width="3.9" height="3.9"/>
<rect x="161.56" y="120.01" width="3.9" height="3.9"/>
<rect x="161.56" y="127.79" width="3.9" height="3.9"/>
<rect x="161.56" y="135.57" width="3.9" height="3.9"/>
<rect x="161.56" y="143.35" width="3.9" height="3.9"/>
<rect x="161.56" y="151.13" width="3.9" height="3.9"/>
<rect x="161.56" y="158.91" width="3.9" height="3.9"/>
<rect x="161.56" y="166.69" width="3.9" height="3.9"/>
<rect x="161.56" y="174.47" width="3.9" height="3.9"/>
<rect x="161.56" y="182.25" width="3.9" height="3.9"/>
<rect x="161.56" y="190.03" width="3.9" height="3.9"/>
<rect x="161.56" y="197.81" width="3.9" height="3.9"/>
<rect x="161.56" y="205.59" width="3.9" height="3.9"/>
<rect x="161.56" y="213.37" width="3.9" height="3.9"/>
<rect x="161.56" y="221.15" width="3.9" height="3.9"/>
<rect x="161.56" y="228.93" width="3.9" height="3.9"/>
<rect x="161.56" y="236.71" width="3.9" height="3.9"/>
<rect x="161.56" y="244.49" width="3.9" height="3.9"/>
<rect x="161.56" y="252.27" width="3.9" height="3.9"/>
<rect x="161.56" y="260.05" width="3.9" height="3.9"/>
<rect x="161.56" y="267.83" width="3.9" height="3.9"/>
<rect x="161.56" y="275.61" width="3.9" height="3.9"/>
<rect x="161.56" y="283.39" width="3.9" height="3.9"/>
<rect x="161.56" y="291.17" width="3.9" height="3.9"/>
<rect x="161.56" y="298.95" width="3.9" height="3.9"/>
</g>
<polygon fill="#ffff00" fill-opacity="1" points="164.06,301.10 164.06,214.30 165.56,212.10 167.26,212.10 169.46,215.90 169.46,301.10"/>
<g fill="#ed7d31" clip-path="url(#c10)">
<rect x="163.66" y="211.30" width="4.0" height="3.6999999999999997"/>
<rect x="161.76" y="212.69" width="3.9" height="3.9"/>
<rect x="161.76" y="220.47" width="3.9" height="3.9"/>
<rect x="161.76" y="228.25" width="3.9" height="3.9"/>
<rect x="161.76" y="236.03" width="3.9" height="3.9"/>
<rect x="161.76" y="243.81" width="3.9" height="3.9"/>
<rect x="161.76" y="251.59" width="3.9" height="3.9"/>
<rect x="161.76" y="259.37" width="3.9" height="3.9"/>
<rect x="161.76" y="267.15" width="3.9" height="3.9"/>
<rect x="161.76" y="274.93" width="3.9" height="3.9"/>
<rect x="161.76" y="282.71" width="3.9" height="3.9"/>
<rect x="161.76" y="290.49" width="3.9" height="3.9"/>
<rect x="161.76" y="298.27" width="3.9" height="3.9"/>
<rect x="167.46" y="214.39" width="3.9" height="3.9"/>
<rect x="167.46" y="222.17" width="3.9" height="3.9"/>
<rect x="167.46" y="229.95" width="3.9" height="3.9"/>
<rect x="167.46" y="237.73" width="3.9" height="3.9"/>
<rect x="167.46" y="245.51" width="3.9" height="3.9"/>
<rect x="167.46" y="253.29" width="3.9" height="3.9"/>
<rect x="167.46" y="261.07" width="3.9" height="3.9"/>
<rect x="167.46" y="268.85" width="3.9" height="3.9"/>
<rect x="167.46" y="276.63" width="3.9" height="3.9"/>
<rect x="167.46" y="284.41" width="3.9" height="3.9"/>
<rect x="167.46" y="292.19" width="3.9" height="3.9"/>
<rect x="167.46" y="299.97" width="3.9" height="3.9"/>
</g>
</g>
<g>
<polygon fill="#8bb7e3" fill-opacity="0.75" points="178.60,301.10 178.60,53.50 180.10,51.30 181.80,51.30 184.10,55.10 184.10,301.10"/>
<g fill="#3b4b65" clip-path="url(#c11)">
<rect x="178.40" y="50.50" width="4.0" height="3.6999999999999997"/>
<rect x="176.50" y="54.07" width="3.9" height="3.9"/>
<rect x="176.50" y="61.85" width="3.9" height="3.9"/>
<rect x="176.50" y="69.63" width="3.9" height="3.9"/>
<rect x="176.50" y="77.41" width="3.9" height="3.9"/>
<rect x="176.50" y="85.19" width="3.9" height="3.9"/>
<rect x="176.50" y="92.97" width="3.9" height="3.9"/>
<rect x="176.50" y="100.75" width="3.9" height="3.9"/>
<rect x="176.50" y="108.53" width="3.9" height="3.9"/>
<rect x="176.50" y="116.31" width="3.9" height="3.9"/>
<rect x="176.50" y="124.09" width="3.9" height="3.9"/>
<rect x="176.50" y="131.87" width="3.9" height="3.9"/>
<rect x="176.50" y="139.65" width="3.9" height="3.9"/>
<rect x="176.50" y="147.43" width="3.9" height="3.9"/>
<rect x="176.50" y="155.21" width="3.9" height="3.9"/>
<rect x="176.50" y="162.99" width="3.9" height="3.9"/>
<rect x="176.50" y="170.77" width="3.9" height="3.9"/>
<rect x="176.50" y="178.55" width="3.9" height="3.9"/>
<rect x="176.50" y="186.33" width="3.9" height="3.9"/>
<rect x="176.50" y="194.11" width="3.9" height="3.9"/>
<rect x="176.50" y="201.89" width="3.9" height="3.9"/>
<rect x="176.50" y="209.67" width="3.9" height="3.9"/>
<rect x="176.50" y="217.45" width="3.9" height="3.9"/>
<rect x="176.50" y="225.23" width="3.9" height="3.9"/>
<rect x="176.50" y="233.01" width="3.9" height="3.9"/>
<rect x="176.50" y="240.79" width="3.9" height="3.9"/>
<rect x="176.50" y="248.57" width="3.9" height="3.9"/>
<rect x="176.50" y="256.35" width="3.9" height="3.9"/>
<rect x="176.50" y="264.13" width="3.9" height="3.9"/>
<rect x="176.50" y="271.91" width="3.9" height="3.9"/>
<rect x="176.50" y="279.69" width="3.9" height="3.9"/>
<rect x="176.50" y="287.47" width="3.9" height="3.9"/>
<rect x="176.50" y="295.25" width="3.9" height="3.9"/>
<rect x="181.90" y="54.07" width="3.9" height="3.9"/>
<rect x="181.90" y="61.85" width="3.9" height="3.9"/>
<rect x="181.90" y="69.63" width="3.9" height="3.9"/>
<rect x="181.90" y="77.41" width="3.9" height="3.9"/>
<rect x="181.90" y="85.19" width="3.9" height="3.9"/>
<rect x="181.90" y="92.97" width="3.9" height="3.9"/>
<rect x="181.90" y="100.75" width="3.9" height="3.9"/>
<rect x="181.90" y="108.53" width="3.9" height="3.9"/>
<rect x="181.90" y="116.31" width="3.9" height="3.9"/>
<rect x="181.90" y="124.09" width="3.9" height="3.9"/>
<rect x="181.90" y="131.87" width="3.9" height="3.9"/>
<rect x="181.90" y="139.65" width="3.9" height="3.9"/>
<rect x="181.90" y="147.43" width="3.9" height="3.9"/>
<rect x="181.90" y="155.21" width="3.9" height="3.9"/>
<rect x="181.90" y="162.99" width="3.9" height="3.9"/>
<rect x="181.90" y="170.77" width="3.9" height="3.9"/>
<rect x="181.90" y="178.55" width="3.9" height="3.9"/>
<rect x="181.90" y="186.33" width="3.9" height="3.9"/>
<rect x="181.90" y="194.11" width="3.9" height="3.9"/>
<rect x="181.90" y="201.89" width="3.9" height="3.9"/>
<rect x="181.90" y="209.67" width="3.9" height="3.9"/>
<rect x="181.90" y="217.45" width="3.9" height="3.9"/>
<rect x="181.90" y="225.23" width="3.9" height="3.9"/>
<rect x="181.90" y="233.01" width="3.9" height="3.9"/>
<rect x="181.90" y="240.79" width="3.9" height="3.9"/>
<rect x="181.90" y="248.57" width="3.9" height="3.9"/>
<rect x="181.90" y="256.35" width="3.9" height="3.9"/>
<rect x="181.90" y="264.13" width="3.9" height="3.9"/>
<rect x="181.90" y="271.91" width="3.9" height="3.9"/>
<rect x="181.90" y="279.69" width="3.9" height="3.9"/>
<rect x="181.90" y="287.47" width="3.9" height="3.9"/>
<rect x="181.90" y="295.25" width="3.9" height="3.9"/>
</g>
<polygon fill="#ffff00" fill-opacity="1" points="184.40,301.10 184.40,218.30 185.90,216.10 187.60,216.10 189.80,219.90 189.80,301.10"/>
<g fill="#ed7d31" clip-path="url(#c12)">
<rect x="184.00" y="215.30" width="4.0" height="3.6999999999999997"/>
<rect x="182.10" y="216.19" width="3.9" height="3.9"/>
<rect x="182.10" y="223.97" width="3.9" height="3.9"/>
<rect x="182.10" y="231.75" width="3.9" height="3.9"/>
<rect x="182.10" y="239.53" width="3.9" height="3.9"/>
<rect x="182.10" y="247.31" width="3.9" height="3.9"/>
<rect x="182.10" y="255.09" width="3.9" height="3.9"/>
<rect x="182.10" y="262.87" width="3.9" height="3.9"/>
<rect x="182.10" y="270.65" width="3.9" height="3.9"/>
<rect x="182.10" y="278.43" width="3.9" height="3.9"/>
<rect x="182.10" y="286.21" width="3.9" height="3.9"/>
<rect x="182.10" y="293.99" width="3.9" height="3.9"/>
<rect x="187.80" y="218.97" width="3.9" height="3.9"/>
<rect x="187.80" y="226.75" width="3.9" height="3.9"/>
<rect x="187.80" y="234.53" width="3.9" height="3.9"/>
<rect x="187.80" y="242.31" width="3.9" height="3.9"/>
<rect x="187.80" y="250.09" width="3.9" height="3.9"/>
<rect x="187.80" y="257.87" width="3.9" height="3.9"/>
<rect x="187.80" y="265.65" width="3.9" height="3.9"/>
<rect x="187.80" y="273.43" width="3.9" height="3.9"/>
<rect x="187.80" y="281.21" width="3.9" height="3.9"/>
<rect x="187.80" y="288.99" width="3.9" height="3.9"/>
<rect x="187.80" y="296.77" width="3.9" height="3.9"/>
</g>
</g>
<g>
<polygon fill="#8bb7e3" fill-opacity="0.75" points="198.94,301.10 198.94,98.40 200.44,96.20 202.14,96.20 204.44,100.00 204.44,301.10"/>
<g fill="#3b4b65" clip-path="url(#c13)">
<rect x="198.74" y="95.40" width="4.0" height="3.6999999999999997"/>
<rect x="196.84" y="95.17" width="3.9" height="3.9"/>
<rect x="196.84" y="102.95" width="3.9" height="3.9"/>
<rect x="196.84" y="110.73" width="3.9" height="3.9"/>
<rect x="196.84" y="118.51" width="3.9" height="3.9"/>
<rect x="196.84" y="126.29" width="3.9" height="3.9"/>
<rect x="196.84" y="134.07" width="3.9" height="3.9"/>
<rect x="196.84" y="141.85" width="3.9" height="3.9"/>
<rect x="196.84" y="149.63" width="3.9" height="3.9"/>
<rect x="196.84" y="157.41" width="3.9" height="3.9"/>
<rect x="196.84" y="165.19" width="3.9" height="3.9"/>
<rect x="196.84" y="172.97" width="3.9" height="3.9"/>
<rect x="196.84" y="180.75" width="3.9" height="3.9"/>
<rect x="196.84" y="188.53" width="3.9" height="3.9"/>
<rect x="196.84" y="196.31" width="3.9" height="3.9"/>
<rect x="196.84" y="204.09" width="3.9" height="3.9"/>
<rect x="196.84" y="211.87" width="3.9" height="3.9"/>
<rect x="196.84" y="219.65" width="3.9" height="3.9"/>
<rect x="196.84" y="227.43" width="3.9" height="3.9"/>
<rect x="196.84" y="235.21" width="3.9" height="3.9"/>
<rect x="196.84" y="242.99" width="3.9" height="3.9"/>
<rect x="196.84" y="250.77" width="3.9" height="3.9"/>
<rect x="196.84" y="258.55" width="3.9" height="3.9"/>
<rect x="196.84" y="266.33" width="3.9" height="3.9"/>
<rect x="196.84" y="274.11" width="3.9" height="3.9"/>
<rect x="196.84" y="281.89" width="3.9" height="3.9"/>
<rect x="196.84" y="289.67" width="3.9" height="3.9"/>
<rect x="196.84" y="297.45" width="3.9" height="3.9"/>
<rect x="202.24" y="98.95" width="3.9" height="3.9"/>
<rect x="202.24" y="106.73" width="3.9" height="3.9"/>
<rect x="202.24" y="114.51" width="3.9" height="3.9"/>
<rect x="202.24" y="122.29" width="3.9" height="3.9"/>
<rect x="202.24" y="130.07" width="3.9" height="3.9"/>
<rect x="202.24" y="137.85" width="3.9" height="3.9"/>
<rect x="202.24" y="145.63" width="3.9" height="3.9"/>
<rect x="202.24" y="153.41" width="3.9" height="3.9"/>
<rect x="202.24" y="161.19" width="3.9" height="3.9"/>
<rect x="202.24" y="168.97" width="3.9" height="3.9"/>
<rect x="202.24" y="176.75" width="3.9" height="3.9"/>
<rect x="202.24" y="184.53" width="3.9" height="3.9"/>
<rect x="202.24" y="192.31" width="3.9" height="3.9"/>
<rect x="202.24" y="200.09" width="3.9" height="3.9"/>
<rect x="202.24" y="207.87" width="3.9" height="3.9"/>
<rect x="202.24" y="215.65" width="3.9" height="3.9"/>
<rect x="202.24" y="223.43" width="3.9" height="3.9"/>
<rect x="202.24" y="231.21" width="3.9" height="3.9"/>
<rect x="202.24" y="238.99" width="3.9" height="3.9"/>
<rect x="202.24" y="246.77" width="3.9" height="3.9"/>
<rect x="202.24" y="254.55" width="3.9" height="3.9"/>
<rect x="202.24" y="262.33" width="3.9" height="3.9"/>
<rect x="202.24" y="270.11" width="3.9" height="3.9"/>
<rect x="202.24" y="277.89" width="3.9" height="3.9"/>
<rect x="202.24" y="285.67" width="3.9" height="3.9"/>
<rect x="202.24" y="293.45" width="3.9" height="3.9"/>
</g>
<polygon fill="#ffff00" fill-opacity="1" points="204.74,301.10 204.74,207.20 206.24,205.00 207.94,205.00 210.14,208.80 210.14,301.10"/>
<g fill="#ed7d31" clip-path="url(#c14)">
<rect x="204.34" y="204.20" width="4.0" height="3.6999999999999997"/>
<rect x="202.44" y="203.71" width="3.9" height="3.9"/>
<rect x="202.44" y="211.49" width="3.9" height="3.9"/>
<rect x="202.44" y="219.27" width="3.9" height="3.9"/>
<rect x="202.44" y="227.05" width="3.9" height="3.9"/>
<rect x="202.44" y="234.83" width="3.9" height="3.9"/>
<rect x="202.44" y="242.61" width="3.9" height="3.9"/>
<rect x="202.44" y="250.39" width="3.9" height="3.9"/>
<rect x="202.44" y="258.17" width="3.9" height="3.9"/>
<rect x="202.44" y="265.95" width="3.9" height="3.9"/>
<rect x="202.44" y="273.73" width="3.9" height="3.9"/>
<rect x="202.44" y="281.51" width="3.9" height="3.9"/>
<rect x="202.44" y="289.29" width="3.9" height="3.9"/>
<rect x="202.44" y="297.07" width="3.9" height="3.9"/>
<rect x="208.14" y="207.41" width="3.9" height="3.9"/>
<rect x="208.14" y="215.19" width="3.9" height="3.9"/>
<rect x="208.14" y="222.97" width="3.9" height="3.9"/>
<rect x="208.14" y="230.75" width="3.9" height="3.9"/>
<rect x="208.14" y="238.53" width="3.9" height="3.9"/>
<rect x="208.14" y="246.31" width="3.9" height="3.9"/>
<rect x="208.14" y="254.09" width="3.9" height="3.9"/>
<rect x="208.14" y="261.87" width="3.9" height="3.9"/>
<rect x="208.14" y="269.65" width="3.9" height="3.9"/>
<rect x="208.14" y="277.43" width="3.9" height="3.9"/>
<rect x="208.14" y="285.21" width="3.9" height="3.9"/>
<rect x="208.14" y="292.99" width="3.9" height="3.9"/>
<rect x="208.14" y="300.77" width="3.9" height="3.9"/>
</g>
</g>
<g>
<polygon fill="#8bb7e3" fill-opacity="0.75" points="219.28,301.10 219.28,115.50 220.78,113.30 222.48,113.30 224.78,117.10 224.78,301.10"/>
<g fill="#3b4b65" clip-path="url(#c15)">
<rect x="219.08" y="112.50" width="4.0" height="3.6999999999999997"/>
<rect x="217.18" y="117.81" width="3.9" height="3.9"/>
<rect x="217.18" y="125.59" width="3.9" height="3.9"/>
<rect x="217.18" y="133.37" width="3.9" height="3.9"/>
<rect x="217.18" y="141.15" width="3.9" height="3.9"/>
<rect x="217.18" y="148.93" width="3.9" height="3.9"/>
<rect x="217.18" y="156.71" width="3.9" height="3.9"/>
<rect x="217.18" y="164.49" width="3.9" height="3.9"/>
<rect x="217.18" y="172.27" width="3.9" height="3.9"/>
<rect x="217.18" y="180.05" width="3.9" height="3.9"/>
<rect x="217.18" y="187.83" width="3.9" height="3.9"/>
<rect x="217.18" y="195.61" width="3.9" height="3.9"/>
<rect x="217.18" y="203.39" width="3.9" height="3.9"/>
<rect x="217.18" y="211.17" width="3.9" height="3.9"/>
<rect x="217.18" y="218.95" width="3.9" height="3.9"/>
<rect x="217.18" y="226.73" width="3.9" height="3.9"/>
<rect x="217.18" y="234.51" width="3.9" height="3.9"/>
<rect x="217.18" y="242.29" width="3.9" height="3.9"/>
<rect x="217.18" y="250.07" width="3.9" height="3.9"/>
<rect x="217.18" y="257.85" width="3.9" height="3.9"/>
<rect x="217.18" y="265.63" width="3.9" height="3.9"/>
<rect x="217.18" y="273.41" width="3.9" height="3.9"/>
<rect x="217.18" y="281.19" width="3.9" height="3.9"/>
<rect x="217.18" y="288.97" width="3.9" height="3.9"/>
<rect x="217.18" y="296.75" width="3.9" height="3.9"/>
<rect x="222.58" y="115.61" width="3.9" height="3.9"/>
<rect x="222.58" y="123.39" width="3.9" height="3.9"/>
<rect x="222.58" y="131.17" width="3.9" height="3.9"/>
<rect x="222.58" y="138.95" width="3.9" height="3.9"/>
<rect x="222.58" y="146.73" width="3.9" height="3.9"/>
<rect x="222.58" y="154.51" width="3.9" height="3.9"/>
<rect x="222.58" y="162.29" width="3.9" height="3.9"/>
<rect x="222.58" y="170.07" width="3.9" height="3.9"/>
<rect x="222.58" y="177.85" width="3.9" height="3.9"/>
<rect x="222.58" y="185.63" width="3.9" height="3.9"/>
<rect x="222.58" y="193.41" width="3.9" height="3.9"/>
<rect x="222.58" y="201.19" width="3.9" height="3.9"/>
<rect x="222.58" y="208.97" width="3.9" height="3.9"/>
<rect x="222.58" y="216.75" width="3.9" height="3.9"/>
<rect x="222.58" y="224.53" width="3.9" height="3.9"/>
<rect x="222.58" y="232.31" width="3.9" height="3.9"/>
<rect x="222.58" y="240.09" width="3.9" height="3.9"/>
<rect x="222.58" y="247.87" width="3.9" height="3.9"/>
<rect x="222.58" y="255.65" width="3.9" height="3.9"/>
<rect x="222.58" y="263.43" width="3.9" height="3.9"/>
<rect x="222.58" y="271.21" width="3.9" height="3.9"/>
<rect x="222.58" y="278.99" width="3.9" height="3.9"/>
<rect x="222.58" y="286.77" width="3.9" height="3.9"/>
<rect x="222.58" y="294.55" width="3.9" height="3.9"/>
</g>
<polygon fill="#ffff00" fill-opacity="1" points="225.08,301.10 225.08,206.20 226.58,204.00 228.28,204.00 230.48,207.80 230.48,301.10"/>
<g fill="#ed7d31" clip-path="url(#c16)">
<rect x="224.68" y="203.20" width="4.0" height="3.6999999999999997"/>
<rect x="222.78" y="204.91" width="3.9" height="3.9"/>
<rect x="222.78" y="212.69" width="3.9" height="3.9"/>
<rect x="222.78" y="220.47" width="3.9" height="3.9"/>
<rect x="222.78" y="228.25" width="3.9" height="3.9"/>
<rect x="222.78" y="236.03" width="3.9" height="3.9"/>
<rect x="222.78" y="243.81" width="3.9" height="3.9"/>
<rect x="222.78" y="251.59" width="3.9" height="3.9"/>
<rect x="222.78" y="259.37" width="3.9" height="3.9"/>
<rect x="222.78" y="267.15" width="3.9" height="3.9"/>
<rect x="222.78" y="274.93" width="3.9" height="3.9"/>
<rect x="222.78" y="282.71" width="3.9" height="3.9"/>
<rect x="222.78" y="290.49" width="3.9" height="3.9"/>
<rect x="222.78" y="298.27" width="3.9" height="3.9"/>
<rect x="228.48" y="206.61" width="3.9" height="3.9"/>
<rect x="228.48" y="214.39" width="3.9" height="3.9"/>
<rect x="228.48" y="222.17" width="3.9" height="3.9"/>
<rect x="228.48" y="229.95" width="3.9" height="3.9"/>
<rect x="228.48" y="237.73" width="3.9" height="3.9"/>
<rect x="228.48" y="245.51" width="3.9" height="3.9"/>
<rect x="228.48" y="253.29" width="3.9" height="3.9"/>
<rect x="228.48" y="261.07" width="3.9" height="3.9"/>
<rect x="228.48" y="268.85" width="3.9" height="3.9"/>
<rect x="228.48" y="276.63" width="3.9" height="3.9"/>
<rect x="228.48" y="284.41" width="3.9" height="3.9"/>
<rect x="228.48" y="292.19" width="3.9" height="3.9"/>
<rect x="228.48" y="299.97" width="3.9" height="3.9"/>
</g>
</g>
<g>
<polygon fill="#8bb7e3" fill-opacity="0.75" points="239.62,301.10 239.62,61.50 241.12,59.30 242.82,59.30 245.12,63.10 245.12,301.10"/>
<g fill="#3b4b65" clip-path="url(#c17)">
<rect x="239.42" y="58.50" width="4.0" height="3.6999999999999997"/>
<rect x="237.52" y="60.05" width="3.9" height="3.9"/>
<rect x="237.52" y="67.83" width="3.9" height="3.9"/>
<rect x="237.52" y="75.61" width="3.9" height="3.9"/>
<rect x="237.52" y="83.39" width="3.9" height="3.9"/>
<rect x="237.52" y="91.17" width="3.9" height="3.9"/>
<rect x="237.52" y="98.95" width="3.9" height="3.9"/>
<rect x="237.52" y="106.73" width="3.9" height="3.9"/>
<rect x="237.52" y="114.51" width="3.9" height="3.9"/>
<rect x="237.52" y="122.29" width="3.9" height="3.9"/>
<rect x="237.52" y="130.07" width="3.9" height="3.9"/>
<rect x="237.52" y="137.85" width="3.9" height="3.9"/>
<rect x="237.52" y="145.63" width="3.9" height="3.9"/>
<rect x="237.52" y="153.41" width="3.9" height="3.9"/>
<rect x="237.52" y="161.19" width="3.9" height="3.9"/>
<rect x="237.52" y="168.97" width="3.9" height="3.9"/>
<rect x="237.52" y="176.75" width="3.9" height="3.9"/>
<rect x="237.52" y="184.53" width="3.9" height="3.9"/>
<rect x="237.52" y="192.31" width="3.9" height="3.9"/>
<rect x="237.52" y="200.09" width="3.9" height="3.9"/>
<rect x="237.52" y="207.87" width="3.9" height="3.9"/>
<rect x="237.52" y="215.65" width="3.9" height="3.9"/>
<rect x="237.52" y="223.43" width="3.9" height="3.9"/>
<rect x="237.52" y="231.21" width="3.9" height="3.9"/>
<rect x="237.52" y="238.99" width="3.9" height="3.9"/>
<rect x="237.52" y="246.77" width="3.9" height="3.9"/>
<rect x="237.52" y="254.55" width="3.9" height="3.9"/>
<rect x="237.52" y="262.33" width="3.9" height="3.9"/>
<rect x="237.52" y="270.11" width="3.9" height="3.9"/>
<rect x="237.52" y="277.89" width="3.9" height="3.9"/>
<rect x="237.52" y="285.67" width="3.9" height="3.9"/>
<rect x="237.52" y="293.45" width="3.9" height="3.9"/>
<rect x="242.92" y="63.05" width="3.9" height="3.9"/>
<rect x="242.92" y="70.83" width="3.9" height="3.9"/>
<rect x="242.92" y="78.61" width="3.9" height="3.9"/>
<rect x="242.92" y="86.39" width="3.9" height="3.9"/>
<rect x="242.92" y="94.17" width="3.9" height="3.9"/>
<rect x="242.92" y="101.95" width="3.9" height="3.9"/>
<rect x="242.92" y="109.73" width="3.9" height="3.9"/>
<rect x="242.92" y="117.51" width="3.9" height="3.9"/>
<rect x="242.92" y="125.29" width="3.9" height="3.9"/>
<rect x="242.92" y="133.07" width="3.9" height="3.9"/>
<rect x="242.92" y="140.85" width="3.9" height="3.9"/>
<rect x="242.92" y="148.63" width="3.9" height="3.9"/>
<rect x="242.92" y="156.41" width="3.9" height="3.9"/>
<rect x="242.92" y="164.19" width="3.9" height="3.9"/>
<rect x="242.92" y="171.97" width="3.9" height="3.9"/>
<rect x="242.92" y="179.75" width="3.9" height="3.9"/>
<rect x="242.92" y="187.53" width="3.9" height="3.9"/>
<rect x="242.92" y="195.31" width="3.9" height="3.9"/>
<rect x="242.92" y="203.09" width="3.9" height="3.9"/>
<rect x="242.92" y="210.87" width="3.9" height="3.9"/>
<rect x="242.92" y="218.65" width="3.9" height="3.9"/>
<rect x="242.92" y="226.43" width="3.9" height="3.9"/>
<rect x="242.92" y="234.21" width="3.9" height="3.9"/>
<rect x="242.92" y="241.99" width="3.9" height="3.9"/>
<rect x="242.92" y="249.77" width="3.9" height="3.9"/>
<rect x="242.92" y="257.55" width="3.9" height="3.9"/>
<rect x="242.92" y="265.33" width="3.9" height="3.9"/>
<rect x="242.92" y="273.11" width="3.9" height="3.9"/>
<rect x="242.92" y="280.89" width="3.9" height="3.9"/>
<rect x="242.92" y="288.67" width="3.9" height="3.9"/>
<rect x="242.92" y="296.45" width="3.9" height="3.9"/>
</g>
<polygon fill="#ffff00" fill-opacity="1" points="245.42,301.10 245.42,183.10 246.92,180.90 248.62,180.90 250.82,184.70 250.82,301.10"/>
<g fill="#ed7d31" clip-path="url(#c18)">
<rect x="245.02" y="180.10" width="4.0" height="3.6999999999999997"/>
<rect x="243.12" y="181.57" width="3.9" height="3.9"/>
<rect x="243.12" y="189.35" width="3.9" height="3.9"/>
<rect x="243.12" y="197.13" width="3.9" height="3.9"/>
<rect x="243.12" y="204.91" width="3.9" height="3.9"/>
<rect x="243.12" y="212.69" width="3.9" height="3.9"/>
<rect x="243.12" y="220.47" width="3.9" height="3.9"/>
<rect x="243.12" y="228.25" width="3.9" height="3.9"/>
<rect x="243.12" y="236.03" width="3.9" height="3.9"/>
<rect x="243.12" y="243.81" width="3.9" height="3.9"/>
<rect x="243.12" y="251.59" width="3.9" height="3.9"/>
<rect x="243.12" y="259.37" width="3.9" height="3.9"/>
<rect x="243.12" y="267.15" width="3.9" height="3.9"/>
<rect x="243.12" y="274.93" width="3.9" height="3.9"/>
<rect x="243.12" y="282.71" width="3.9" height="3.9"/>
<rect x="243.12" y="290.49" width="3.9" height="3.9"/>
<rect x="243.12" y="298.27" width="3.9" height="3.9"/>
<rect x="248.82" y="183.27" width="3.9" height="3.9"/>
<rect x="248.82" y="191.05" width="3.9" height="3.9"/>
<rect x="248.82" y="198.83" width="3.9" height="3.9"/>
<rect x="248.82" y="206.61" width="3.9" height="3.9"/>
<rect x="248.82" y="214.39" width="3.9" height="3.9"/>
<rect x="248.82" y="222.17" width="3.9" height="3.9"/>
<rect x="248.82" y="229.95" width="3.9" height="3.9"/>
<rect x="248.82" y="237.73" width="3.9" height="3.9"/>
<rect x="248.82" y="245.51" width="3.9" height="3.9"/>
<rect x="248.82" y="253.29" width="3.9" height="3.9"/>
<rect x="248.82" y="261.07" width="3.9" height="3.9"/>
<rect x="248.82" y="268.85" width="3.9" height="3.9"/>
<rect x="248.82" y="276.63" width="3.9" height="3.9"/>
<rect x="248.82" y="284.41" width="3.9" height="3.9"/>
<rect x="248.82" y="292.19" width="3.9" height="3.9"/>
<rect x="248.82" y="299.97" width="3.9" height="3.9"/>
</g>
</g>
<g>
<polygon fill="#8bb7e3" fill-opacity="0.75" points="259.96,301.10 259.96,109.30 261.46,107.10 263.16,107.10 265.46,110.90 265.46,301.10"/>
<g fill="#3b4b65" clip-path="url(#c19)">
<rect x="259.76" y="106.30" width="4.0" height="3.6999999999999997"/>
<rect x="257.86" y="107.53" width="3.9" height="3.9"/>
<rect x="257.86" y="115.31" width="3.9" height="3.9"/>
<rect x="257.86" y="123.09" width="3.9" height="3.9"/>
<rect x="257.86" y="130.87" width="3.9" height="3.9"/>
<rect x="257.86" y="138.65" width="3.9" height="3.9"/>
<rect x="257.86" y="146.43" width="3.9" height="3.9"/>
<rect x="257.86" y="154.21" width="3.9" height="3.9"/>
<rect x="257.86" y="161.99" width="3.9" height="3.9"/>
<rect x="257.86" y="169.77" width="3.9" height="3.9"/>
<rect x="257.86" y="177.55" width="3.9" height="3.9"/>
<rect x="257.86" y="185.33" width="3.9" height="3.9"/>
<rect x="257.86" y="193.11" width="3.9" height="3.9"/>
<rect x="257.86" y="200.89" width="3.9" height="3.9"/>
<rect x="257.86" y="208.67" width="3.9" height="3.9"/>
<rect x="257.86" y="216.45" width="3.9" height="3.9"/>
<rect x="257.86" y="224.23" width="3.9" height="3.9"/>
<rect x="257.86" y="232.01" width="3.9" height="3.9"/>
<rect x="257.86" y="239.79" width="3.9" height="3.9"/>
<rect x="257.86" y="247.57" width="3.9" height="3.9"/>
<rect x="257.86" y="255.35" width="3.9" height="3.9"/>
<rect x="257.86" y="263.13" width="3.9" height="3.9"/>
<rect x="257.86" y="270.91" width="3.9" height="3.9"/>
<rect x="257.86" y="278.69" width="3.9" height="3.9"/>
<rect x="257.86" y="286.47" width="3.9" height="3.9"/>
<rect x="257.86" y="294.25" width="3.9" height="3.9"/>
<rect x="263.26" y="110.03" width="3.9" height="3.9"/>
<rect x="263.26" y="117.81" width="3.9" height="3.9"/>
<rect x="263.26" y="125.59" width="3.9" height="3.9"/>
<rect x="263.26" y="133.37" width="3.9" height="3.9"/>
<rect x="263.26" y="141.15" width="3.9" height="3.9"/>
<rect x="263.26" y="148.93" width="3.9" height="3.9"/>
<rect x="263.26" y="156.71" width="3.9" height="3.9"/>
<rect x="263.26" y="164.49" width="3.9" height="3.9"/>
<rect x="263.26" y="172.27" width="3.9" height="3.9"/>
<rect x="263.26" y="180.05" width="3.9" height="3.9"/>
<rect x="263.26" y="187.83" width="3.9" height="3.9"/>
<rect x="263.26" y="195.61" width="3.9" height="3.9"/>
<rect x="263.26" y="203.39" width="3.9" height="3.9"/>
<rect x="263.26" y="211.17" width="3.9" height="3.9"/>
<rect x="263.26" y="218.95" width="3.9" height="3.9"/>
<rect x="263.26" y="226.73" width="3.9" height="3.9"/>
<rect x="263.26" y="234.51" width="3.9" height="3.9"/>
<rect x="263.26" y="242.29" width="3.9" height="3.9"/>
<rect x="263.26" y="250.07" width="3.9" height="3.9"/>
<rect x="263.26" y="257.85" width="3.9" height="3.9"/>
<rect x="263.26" y="265.63" width="3.9" height="3.9"/>
<rect x="263.26" y="273.41" width="3.9" height="3.9"/>
<rect x="263.26" y="281.19" width="3.9" height="3.9"/>
<rect x="263.26" y="288.97" width="3.9" height="3.9"/>
<rect x="263.26" y="296.75" width="3.9" height="3.9"/>
</g>
<polygon fill="#ffff00" fill-opacity="1" points="265.76,301.10 265.76,213.30 267.26,211.10 268.96,211.10 271.16,214.90 271.16,301.10"/>
<g fill="#ed7d31" clip-path="url(#c20)">
<rect x="265.36" y="210.30" width="4.0" height="3.6999999999999997"/>
<rect x="263.46" y="213.69" width="3.9" height="3.9"/>
<rect x="263.46" y="221.47" width="3.9" height="3.9"/>
<rect x="263.46" y="229.25" width="3.9" height="3.9"/>
<rect x="263.46" y="237.03" width="3.9" height="3.9"/>
<rect x="263.46" y="244.81" width="3.9" height="3.9"/>
<rect x="263.46" y="252.59" width="3.9" height="3.9"/>
<rect x="263.46" y="260.37" width="3.9" height="3.9"/>
<rect x="263.46" y="268.15" width="3.9" height="3.9"/>
<rect x="263.46" y="275.93" width="3.9" height="3.9"/>
<rect x="263.46" y="283.71" width="3.9" height="3.9"/>
<rect x="263.46" y="291.49" width="3.9" height="3.9"/>
<rect x="263.46" y="299.27" width="3.9" height="3.9"/>
<rect x="269.16" y="213.69" width="3.9" height="3.9"/>
<rect x="269.16" y="221.47" width="3.9" height="3.9"/>
<rect x="269.16" y="229.25" width="3.9" height="3.9"/>
<rect x="269.16" y="237.03" width="3.9" height="3.9"/>
<rect x="269.16" y="244.81" width="3.9" height="3.9"/>
<rect x="269.16" y="252.59" width="3.9" height="3.9"/>
<rect x="269.16" y="260.37" width="3.9" height="3.9"/>
<rect x="269.16" y="268.15" width="3.9" height="3.9"/>
<rect x="269.16" y="275.93" width="3.9" height="3.9"/>
<rect x="269.16" y="283.71" width="3.9" height="3.9"/>
<rect x="269.16" y="291.49" width="3.9" height="3.9"/>
<rect x="269.16" y="299.27" width="3.9" height="3.9"/>
</g>
</g>
<g>
<polygon fill="#8bb7e3" fill-opacity="0.75" points="280.30,301.10 280.30,138.30 281.80,136.10 283.50,136.10 285.80,139.90 285.80,301.10"/>
<g fill="#3b4b65" clip-path="url(#c21)">
<rect x="280.10" y="135.30" width="4.0" height="3.6999999999999997"/>
<rect x="278.20" y="140.85" width="3.9" height="3.9"/>
<rect x="278.20" y="148.63" width="3.9" height="3.9"/>
<rect x="278.20" y="156.41" width="3.9" height="3.9"/>
<rect x="278.20" y="164.19" width="3.9" height="3.9"/>
<rect x="278.20" y="171.97" width="3.9" height="3.9"/>
<rect x="278.20" y="179.75" width="3.9" height="3.9"/>
<rect x="278.20" y="187.53" width="3.9" height="3.9"/>
<rect x="278.20" y="195.31" width="3.9" height="3.9"/>
<rect x="278.20" y="203.09" width="3.9" height="3.9"/>
<rect x="278.20" y="210.87" width="3.9" height="3.9"/>
<rect x="278.20" y="218.65" width="3.9" height="3.9"/>
<rect x="278.20" y="226.43" width="3.9" height="3.9"/>
<rect x="278.20" y="234.21" width="3.9" height="3.9"/>
<rect x="278.20" y="241.99" width="3.9" height="3.9"/>
<rect x="278.20" y="249.77" width="3.9" height="3.9"/>
<rect x="278.20" y="257.55" width="3.9" height="3.9"/>
<rect x="278.20" y="265.33" width="3.9" height="3.9"/>
<rect x="278.20" y="273.11" width="3.9" height="3.9"/>
<rect x="278.20" y="280.89" width="3.9" height="3.9"/>
<rect x="278.20" y="288.67" width="3.9" height="3.9"/>
<rect x="278.20" y="296.45" width="3.9" height="3.9"/>
<rect x="283.60" y="138.95" width="3.9" height="3.9"/>
<rect x="283.60" y="146.73" width="3.9" height="3.9"/>
<rect x="283.60" y="154.51" width="3.9" height="3.9"/>
<rect x="283.60" y="162.29" width="3.9" height="3.9"/>
<rect x="283.60" y="170.07" width="3.9" height="3.9"/>
<rect x="283.60" y="177.85" width="3.9" height="3.9"/>
<rect x="283.60" y="185.63" width="3.9" height="3.9"/>
<rect x="283.60" y="193.41" width="3.9" height="3.9"/>
<rect x="283.60" y="201.19" width="3.9" height="3.9"/>
<rect x="283.60" y="208.97" width="3.9" height="3.9"/>
<rect x="283.60" y="216.75" width="3.9" height="3.9"/>
<rect x="283.60" y="224.53" width="3.9" height="3.9"/>
<rect x="283.60" y="232.31" width="3.9" height="3.9"/>
<rect x="283.60" y="240.09" width="3.9" height="3.9"/>
<rect x="283.60" y="247.87" width="3.9" height="3.9"/>
<rect x="283.60" y="255.65" width="3.9" height="3.9"/>
<rect x="283.60" y="263.43" width="3.9" height="3.9"/>
<rect x="283.60" y="271.21" width="3.9" height="3.9"/>
<rect x="283.60" y="278.99" width="3.9" height="3.9"/>
<rect x="283.60" y="286.77" width="3.9" height="3.9"/>
<rect x="283.60" y="294.55" width="3.9" height="3.9"/>
</g>
<polygon fill="#ffff00" fill-opacity="1" points="286.10,301.10 286.10,177.10 287.60,174.90 289.30,174.90 291.50,178.70 291.50,301.10"/>
<g fill="#ed7d31" clip-path="url(#c22)">
<rect x="285.70" y="174.10" width="4.0" height="3.6999999999999997"/>
<rect x="283.80" y="179.67" width="3.9" height="3.9"/>
<rect x="283.80" y="187.45" width="3.9" height="3.9"/>
<rect x="283.80" y="195.23" width="3.9" height="3.9"/>
<rect x="283.80" y="203.01" width="3.9" height="3.9"/>
<rect x="283.80" y="210.79" width="3.9" height="3.9"/>
<rect x="283.80" y="218.57" width="3.9" height="3.9"/>
<rect x="283.80" y="226.35" width="3.9" height="3.9"/>
<rect x="283.80" y="234.13" width="3.9" height="3.9"/>
<rect x="283.80" y="241.91" width="3.9" height="3.9"/>
<rect x="283.80" y="249.69" width="3.9" height="3.9"/>
<rect x="283.80" y="257.47" width="3.9" height="3.9"/>
<rect x="283.80" y="265.25" width="3.9" height="3.9"/>
<rect x="283.80" y="273.03" width="3.9" height="3.9"/>
<rect x="283.80" y="280.81" width="3.9" height="3.9"/>
<rect x="283.80" y="288.59" width="3.9" height="3.9"/>
<rect x="283.80" y="296.37" width="3.9" height="3.9"/>
<rect x="289.50" y="177.29" width="3.9" height="3.9"/>
<rect x="289.50" y="185.07" width="3.9" height="3.9"/>
<rect x="289.50" y="192.85" width="3.9" height="3.9"/>
<rect x="289.50" y="200.63" width="3.9" height="3.9"/>
<rect x="289.50" y="208.41" width="3.9" height="3.9"/>
<rect x="289.50" y="216.19" width="3.9" height="3.9"/>
<rect x="289.50" y="223.97" width="3.9" height="3.9"/>
<rect x="289.50" y="231.75" width="3.9" height="3.9"/>
<rect x="289.50" y="239.53" width="3.9" height="3.9"/>
<rect x="289.50" y="247.31" width="3.9" height="3.9"/>
<rect x="289.50" y="255.09" width="3.9" height="3.9"/>
<rect x="289.50" y="262.87" width="3.9" height="3.9"/>
<rect x="289.50" y="270.65" width="3.9" height="3.9"/>
<rect x="289.50" y="278.43" width="3.9" height="3.9"/>
<rect x="289.50" y="286.21" width="3.9" height="3.9"/>
<rect x="289.50" y="293.99" width="3.9" height="3.9"/>
</g>
</g>
<g>
<polygon fill="#8bb7e3" fill-opacity="0.75" points="300.64,301.10 300.64,134.20 302.14,132.00 303.84,132.00 306.14,135.80 306.14,301.10"/>
<g fill="#3b4b65" clip-path="url(#c23)">
<rect x="300.44" y="131.20" width="4.0" height="3.6999999999999997"/>
<rect x="298.54" y="137.25" width="3.9" height="3.9"/>
<rect x="298.54" y="145.03" width="3.9" height="3.9"/>
<rect x="298.54" y="152.81" width="3.9" height="3.9"/>
<rect x="298.54" y="160.59" width="3.9" height="3.9"/>
<rect x="298.54" y="168.37" width="3.9" height="3.9"/>
<rect x="298.54" y="176.15" width="3.9" height="3.9"/>
<rect x="298.54" y="183.93" width="3.9" height="3.9"/>
<rect x="298.54" y="191.71" width="3.9" height="3.9"/>
<rect x="298.54" y="199.49" width="3.9" height="3.9"/>
<rect x="298.54" y="207.27" width="3.9" height="3.9"/>
<rect x="298.54" y="215.05" width="3.9" height="3.9"/>
<rect x="298.54" y="222.83" width="3.9" height="3.9"/>
<rect x="298.54" y="230.61" width="3.9" height="3.9"/>
<rect x="298.54" y="238.39" width="3.9" height="3.9"/>
<rect x="298.54" y="246.17" width="3.9" height="3.9"/>
<rect x="298.54" y="253.95" width="3.9" height="3.9"/>
<rect x="298.54" y="261.73" width="3.9" height="3.9"/>
<rect x="298.54" y="269.51" width="3.9" height="3.9"/>
<rect x="298.54" y="277.29" width="3.9" height="3.9"/>
<rect x="298.54" y="285.07" width="3.9" height="3.9"/>
<rect x="298.54" y="292.85" width="3.9" height="3.9"/>
<rect x="298.54" y="300.63" width="3.9" height="3.9"/>
<rect x="303.94" y="134.87" width="3.9" height="3.9"/>
<rect x="303.94" y="142.65" width="3.9" height="3.9"/>
<rect x="303.94" y="150.43" width="3.9" height="3.9"/>
<rect x="303.94" y="158.21" width="3.9" height="3.9"/>
<rect x="303.94" y="165.99" width="3.9" height="3.9"/>
<rect x="303.94" y="173.77" width="3.9" height="3.9"/>
<rect x="303.94" y="181.55" width="3.9" height="3.9"/>
<rect x="303.94" y="189.33" width="3.9" height="3.9"/>
<rect x="303.94" y="197.11" width="3.9" height="3.9"/>
<rect x="303.94" y="204.89" width="3.9" height="3.9"/>
<rect x="303.94" y="212.67" width="3.9" height="3.9"/>
<rect x="303.94" y="220.45" width="3.9" height="3.9"/>
<rect x="303.94" y="228.23" width="3.9" height="3.9"/>
<rect x="303.94" y="236.01" width="3.9" height="3.9"/>
<rect x="303.94" y="243.79" width="3.9" height="3.9"/>
<rect x="303.94" y="251.57" width="3.9" height="3.9"/>
<rect x="303.94" y="259.35" width="3.9" height="3.9"/>
<rect x="303.94" y="267.13" width="3.9" height="3.9"/>
<rect x="303.94" y="274.91" width="3.9" height="3.9"/>
<rect x="303.94" y="282.69" width="3.9" height="3.9"/>
<rect x="303.94" y="290.47" width="3.9" height="3.9"/>
<rect x="303.94" y="298.25" width="3.9" height="3.9"/>
</g>
<polygon fill="#ffff00" fill-opacity="1" points="306.44,301.10 306.44,213.30 307.94,211.10 309.64,211.10 311.84,214.90 311.84,301.10"/>
<g fill="#ed7d31" clip-path="url(#c24)">
<rect x="306.04" y="210.30" width="4.0" height="3.6999999999999997"/>
<rect x="304.14" y="213.69" width="3.9" height="3.9"/>
<rect x="304.14" y="221.47" width="3.9" height="3.9"/>
<rect x="304.14" y="229.25" width="3.9" height="3.9"/>
<rect x="304.14" y="237.03" width="3.9" height="3.9"/>
<rect x="304.14" y="244.81" width="3.9" height="3.9"/>
<rect x="304.14" y="252.59" width="3.9" height="3.9"/>
<rect x="304.14" y="260.37" width="3.9" height="3.9"/>
<rect x="304.14" y="268.15" width="3.9" height="3.9"/>
<rect x="304.14" y="275.93" width="3.9" height="3.9"/>
<rect x="304.14" y="283.71" width="3.9" height="3.9"/>
<rect x="304.14" y="291.49" width="3.9" height="3.9"/>
<rect x="304.14" y="299.27" width="3.9" height="3.9"/>
<rect x="309.84" y="213.69" width="3.9" height="3.9"/>
<rect x="309.84" y="221.47" width="3.9" height="3.9"/>
<rect x="309.84" y="229.25" width="3.9" height="3.9"/>
<rect x="309.84" y="237.03" width="3.9" height="3.9"/>
<rect x="309.84" y="244.81" width="3.9" height="3.9"/>
<rect x="309.84" y="252.59" width="3.9" height="3.9"/>
<rect x="309.84" y="260.37" width="3.9" height="3.9"/>
<rect x="309.84" y="268.15" width="3.9" height="3.9"/>
<rect x="309.84" y="275.93" width="3.9" height="3.9"/>
<rect x="309.84" y="283.71" width="3.9" height="3.9"/>
<rect x="309.84" y="291.49" width="3.9" height="3.9"/>
<rect x="309.84" y="299.27" width="3.9" height="3.9"/>
</g>
</g>
<g>
<polygon fill="#8bb7e3" fill-opacity="0.75" points="320.98,301.10 320.98,132.50 322.48,130.30 324.18,130.30 326.48,134.10 326.48,301.10"/>
<g fill="#3b4b65" clip-path="url(#c25)">
<rect x="320.78" y="129.50" width="4.0" height="3.6999999999999997"/>
<rect x="318.88" y="131.17" width="3.9" height="3.9"/>
<rect x="318.88" y="138.95" width="3.9" height="3.9"/>
<rect x="318.88" y="146.73" width="3.9" height="3.9"/>
<rect x="318.88" y="154.51" width="3.9" height="3.9"/>
<rect x="318.88" y="162.29" width="3.9" height="3.9"/>
<rect x="318.88" y="170.07" width="3.9" height="3.9"/>
<rect x="318.88" y="177.85" width="3.9" height="3.9"/>
<rect x="318.88" y="185.63" width="3.9" height="3.9"/>
<rect x="318.88" y="193.41" width="3.9" height="3.9"/>
<rect x="318.88" y="201.19" width="3.9" height="3.9"/>
<rect x="318.88" y="208.97" width="3.9" height="3.9"/>
<rect x="318.88" y="216.75" width="3.9" height="3.9"/>
<rect x="318.88" y="224.53" width="3.9" height="3.9"/>
<rect x="318.88" y="232.31" width="3.9" height="3.9"/>
<rect x="318.88" y="240.09" width="3.9" height="3.9"/>
<rect x="318.88" y="247.87" width="3.9" height="3.9"/>
<rect x="318.88" y="255.65" width="3.9" height="3.9"/>
<rect x="318.88" y="263.43" width="3.9" height="3.9"/>
<rect x="318.88" y="271.21" width="3.9" height="3.9"/>
<rect x="318.88" y="278.99" width="3.9" height="3.9"/>
<rect x="318.88" y="286.77" width="3.9" height="3.9"/>
<rect x="318.88" y="294.55" width="3.9" height="3.9"/>
<rect x="324.28" y="133.07" width="3.9" height="3.9"/>
<rect x="324.28" y="140.85" width="3.9" height="3.9"/>
<rect x="324.28" y="148.63" width="3.9" height="3.9"/>
<rect x="324.28" y="156.41" width="3.9" height="3.9"/>
<rect x="324.28" y="164.19" width="3.9" height="3.9"/>
<rect x="324.28" y="171.97" width="3.9" height="3.9"/>
<rect x="324.28" y="179.75" width="3.9" height="3.9"/>
<rect x="324.28" y="187.53" width="3.9" height="3.9"/>
<rect x="324.28" y="195.31" width="3.9" height="3.9"/>
<rect x="324.28" y="203.09" width="3.9" height="3.9"/>
<rect x="324.28" y="210.87" width="3.9" height="3.9"/>
<rect x="324.28" y="218.65" width="3.9" height="3.9"/>
<rect x="324.28" y="226.43" width="3.9" height="3.9"/>
<rect x="324.28" y="234.21" width="3.9" height="3.9"/>
<rect x="324.28" y="241.99" width="3.9" height="3.9"/>
<rect x="324.28" y="249.77" width="3.9" height="3.9"/>
<rect x="324.28" y="257.55" width="3.9" height="3.9"/>
<rect x="324.28" y="265.33" width="3.9" height="3.9"/>
<rect x="324.28" y="273.11" width="3.9" height="3.9"/>
<rect x="324.28" y="280.89" width="3.9" height="3.9"/>
<rect x="324.28" y="288.67" width="3.9" height="3.9"/>
<rect x="324.28" y="296.45" width="3.9" height="3.9"/>
</g>
<polygon fill="#ffff00" fill-opacity="1" points="326.78,301.10 326.78,210.60 328.28,208.40 329.98,208.40 332.18,212.20 332.18,301.10"/>
<g fill="#ed7d31" clip-path="url(#c26)">
<rect x="326.38" y="207.60" width="4.0" height="3.6999999999999997"/>
<rect x="324.48" y="211.49" width="3.9" height="3.9"/>
<rect x="324.48" y="219.27" width="3.9" height="3.9"/>
<rect x="324.48" y="227.05" width="3.9" height="3.9"/>
<rect x="324.48" y="234.83" width="3.9" height="3.9"/>
<rect x="324.48" y="242.61" width="3.9" height="3.9"/>
<rect x="324.48" y="250.39" width="3.9" height="3.9"/>
<rect x="324.48" y="258.17" width="3.9" height="3.9"/>
<rect x="324.48" y="265.95" width="3.9" height="3.9"/>
<rect x="324.48" y="273.73" width="3.9" height="3.9"/>
<rect x="324.48" y="281.51" width="3.9" height="3.9"/>
<rect x="324.48" y="289.29" width="3.9" height="3.9"/>
<rect x="324.48" y="297.07" width="3.9" height="3.9"/>
<rect x="330.18" y="210.09" width="3.9" height="3.9"/>
<rect x="330.18" y="217.87" width="3.9" height="3.9"/>
<rect x="330.18" y="225.65" width="3.9" height="3.9"/>
<rect x="330.18" y="233.43" width="3.9" height="3.9"/>
<rect x="330.18" y="241.21" width="3.9" height="3.9"/>
<rect x="330.18" y="248.99" width="3.9" height="3.9"/>
<rect x="330.18" y="256.77" width="3.9" height="3.9"/>
<rect x="330.18" y="264.55" width="3.9" height="3.9"/>
<rect x="330.18" y="272.33" width="3.9" height="3.9"/>
<rect x="330.18" y="280.11" width="3.9" height="3.9"/>
<rect x="330.18" y="287.89" width="3.9" height="3.9"/>
<rect x="330.18" y="295.67" width="3.9" height="3.9"/>
</g>
</g>
<g>
<polygon fill="#8bb7e3" fill-opacity="0.75" points="341.32,301.10 341.32,129.70 342.82,127.50 344.52,127.50 346.82,131.30 346.82,301.10"/>
<g fill="#3b4b65" clip-path="url(#c27)">
<rect x="341.12" y="126.70" width="4.0" height="3.6999999999999997"/>
<rect x="339.22" y="126.29" width="3.9" height="3.9"/>
<rect x="339.22" y="134.07" width="3.9" height="3.9"/>
<rect x="339.22" y="141.85" width="3.9" height="3.9"/>
<rect x="339.22" y="149.63" width="3.9" height="3.9"/>
<rect x="339.22" y="157.41" width="3.9" height="3.9"/>
<rect x="339.22" y="165.19" width="3.9" height="3.9"/>
<rect x="339.22" y="172.97" width="3.9" height="3.9"/>
<rect x="339.22" y="180.75" width="3.9" height="3.9"/>
<rect x="339.22" y="188.53" width="3.9" height="3.9"/>
<rect x="339.22" y="196.31" width="3.9" height="3.9"/>
<rect x="339.22" y="204.09" width="3.9" height="3.9"/>
<rect x="339.22" y="211.87" width="3.9" height="3.9"/>
<rect x="339.22" y="219.65" width="3.9" height="3.9"/>
<rect x="339.22" y="227.43" width="3.9" height="3.9"/>
<rect x="339.22" y="235.21" width="3.9" height="3.9"/>
<rect x="339.22" y="242.99" width="3.9" height="3.9"/>
<rect x="339.22" y="250.77" width="3.9" height="3.9"/>
<rect x="339.22" y="258.55" width="3.9" height="3.9"/>
<rect x="339.22" y="266.33" width="3.9" height="3.9"/>
<rect x="339.22" y="274.11" width="3.9" height="3.9"/>
<rect x="339.22" y="281.89" width="3.9" height="3.9"/>
<rect x="339.22" y="289.67" width="3.9" height="3.9"/>
<rect x="339.22" y="297.45" width="3.9" height="3.9"/>
<rect x="344.62" y="130.07" width="3.9" height="3.9"/>
<rect x="344.62" y="137.85" width="3.9" height="3.9"/>
<rect x="344.62" y="145.63" width="3.9" height="3.9"/>
<rect x="344.62" y="153.41" width="3.9" height="3.9"/>
<rect x="344.62" y="161.19" width="3.9" height="3.9"/>
<rect x="344.62" y="168.97" width="3.9" height="3.9"/>
<rect x="344.62" y="176.75" width="3.9" height="3.9"/>
<rect x="344.62" y="184.53" width="3.9" height="3.9"/>
<rect x="344.62" y="192.31" width="3.9" height="3.9"/>
<rect x="344.62" y="200.09" width="3.9" height="3.9"/>
<rect x="344.62" y="207.87" width="3.9" height="3.9"/>
<rect x="344.62" y="215.65" width="3.9" height="3.9"/>
<rect x="344.62" y="223.43" width="3.9" height="3.9"/>
<rect x="344.62" y="231.21" width="3.9" height="3.9"/>
<rect x="344.62" y="238.99" width="3.9" height="3.9"/>
<rect x="344.62" y="246.77" width="3.9" height="3.9"/>
<rect x="344.62" y="254.55" width="3.9" height="3.9"/>
<rect x="344.62" y="262.33" width="3.9" height="3.9"/>
<rect x="344.62" y="270.11" width="3.9" height="3.9"/>
<rect x="344.62" y="277.89" width="3.9" height="3.9"/>
<rect x="344.62" y="285.67" width="3.9" height="3.9"/>
<rect x="344.62" y="293.45" width="3.9" height="3.9"/>
</g>
<polygon fill="#ffff00" fill-opacity="1" points="347.12,301.10 347.12,199.20 348.62,197.00 350.32,197.00 352.52,200.80 352.52,301.10"/>
<g fill="#ed7d31" clip-path="url(#c28)">
<rect x="346.72" y="196.20" width="4.0" height="3.6999999999999997"/>
<rect x="344.82" y="195.93" width="3.9" height="3.9"/>
<rect x="344.82" y="203.71" width="3.9" height="3.9"/>
<rect x="344.82" y="211.49" width="3.9" height="3.9"/>
<rect x="344.82" y="219.27" width="3.9" height="3.9"/>
<rect x="344.82" y="227.05" width="3.9" height="3.9"/>
<rect x="344.82" y="234.83" width="3.9" height="3.9"/>
<rect x="344.82" y="242.61" width="3.9" height="3.9"/>
<rect x="344.82" y="250.39" width="3.9" height="3.9"/>
<rect x="344.82" y="258.17" width="3.9" height="3.9"/>
<rect x="344.82" y="265.95" width="3.9" height="3.9"/>
<rect x="344.82" y="273.73" width="3.9" height="3.9"/>
<rect x="344.82" y="281.51" width="3.9" height="3.9"/>
<rect x="344.82" y="289.29" width="3.9" height="3.9"/>
<rect x="344.82" y="297.07" width="3.9" height="3.9"/>
<rect x="350.52" y="199.63" width="3.9" height="3.9"/>
<rect x="350.52" y="207.41" width="3.9" height="3.9"/>
<rect x="350.52" y="215.19" width="3.9" height="3.9"/>
<rect x="350.52" y="222.97" width="3.9" height="3.9"/>
<rect x="350.52" y="230.75" width="3.9" height="3.9"/>
<rect x="350.52" y="238.53" width="3.9" height="3.9"/>
<rect x="350.52" y="246.31" width="3.9" height="3.9"/>
<rect x="350.52" y="254.09" width="3.9" height="3.9"/>
<rect x="350.52" y="261.87" width="3.9" height="3.9"/>
<rect x="350.52" y="269.65" width="3.9" height="3.9"/>
<rect x="350.52" y="277.43" width="3.9" height="3.9"/>
<rect x="350.52" y="285.21" width="3.9" height="3.9"/>
<rect x="350.52" y="292.99" width="3.9" height="3.9"/>
<rect x="350.52" y="300.77" width="3.9" height="3.9"/>
</g>
</g>
<g>
<polygon fill="#8bb7e3" fill-opacity="0.75" points="361.66,301.10 361.66,118.10 363.16,115.90 364.86,115.90 367.16,119.70 367.16,301.10"/>
<g fill="#3b4b65" clip-path="url(#c29)">
<rect x="361.46" y="115.10" width="4.0" height="3.6999999999999997"/>
<rect x="359.56" y="114.51" width="3.9" height="3.9"/>
<rect x="359.56" y="122.29" width="3.9" height="3.9"/>
<rect x="359.56" y="130.07" width="3.9" height="3.9"/>
<rect x="359.56" y="137.85" width="3.9" height="3.9"/>
<rect x="359.56" y="145.63" width="3.9" height="3.9"/>
<rect x="359.56" y="153.41" width="3.9" height="3.9"/>
<rect x="359.56" y="161.19" width="3.9" height="3.9"/>
<rect x="359.56" y="168.97" width="3.9" height="3.9"/>
<rect x="359.56" y="176.75" width="3.9" height="3.9"/>
<rect x="359.56" y="184.53" width="3.9" height="3.9"/>
<rect x="359.56" y="192.31" width="3.9" height="3.9"/>
<rect x="359.56" y="200.09" width="3.9" height="3.9"/>
<rect x="359.56" y="207.87" width="3.9" height="3.9"/>
<rect x="359.56" y="215.65" width="3.9" height="3.9"/>
<rect x="359.56" y="223.43" width="3.9" height="3.9"/>
<rect x="359.56" y="231.21" width="3.9" height="3.9"/>
<rect x="359.56" y="238.99" width="3.9" height="3.9"/>
<rect x="359.56" y="246.77" width="3.9" height="3.9"/>
<rect x="359.56" y="254.55" width="3.9" height="3.9"/>
<rect x="359.56" y="262.33" width="3.9" height="3.9"/>
<rect x="359.56" y="270.11" width="3.9" height="3.9"/>
<rect x="359.56" y="277.89" width="3.9" height="3.9"/>
<rect x="359.56" y="285.67" width="3.9" height="3.9"/>
<rect x="359.56" y="293.45" width="3.9" height="3.9"/>
<rect x="364.96" y="118.51" width="3.9" height="3.9"/>
<rect x="364.96" y="126.29" width="3.9" height="3.9"/>
<rect x="364.96" y="134.07" width="3.9" height="3.9"/>
<rect x="364.96" y="141.85" width="3.9" height="3.9"/>
<rect x="364.96" y="149.63" width="3.9" height="3.9"/>
<rect x="364.96" y="157.41" width="3.9" height="3.9"/>
<rect x="364.96" y="165.19" width="3.9" height="3.9"/>
<rect x="364.96" y="172.97" width="3.9" height="3.9"/>
<rect x="364.96" y="180.75" width="3.9" height="3.9"/>
<rect x="364.96" y="188.53" width="3.9" height="3.9"/>
<rect x="364.96" y="196.31" width="3.9" height="3.9"/>
<rect x="364.96" y="204.09" width="3.9" height="3.9"/>
<rect x="364.96" y="211.87" width="3.9" height="3.9"/>
<rect x="364.96" y="219.65" width="3.9" height="3.9"/>
<rect x="364.96" y="227.43" width="3.9" height="3.9"/>
<rect x="364.96" y="235.21" width="3.9" height="3.9"/>
<rect x="364.96" y="242.99" width="3.9" height="3.9"/>
<rect x="364.96" y="250.77" width="3.9" height="3.9"/>
<rect x="364.96" y="258.55" width="3.9" height="3.9"/>
<rect x="364.96" y="266.33" width="3.9" height="3.9"/>
<rect x="364.96" y="274.11" width="3.9" height="3.9"/>
<rect x="364.96" y="281.89" width="3.9" height="3.9"/>
<rect x="364.96" y="289.67" width="3.9" height="3.9"/>
<rect x="364.96" y="297.45" width="3.9" height="3.9"/>
</g>
<polygon fill="#ffff00" fill-opacity="1" points="367.46,301.10 367.46,207.20 368.96,205.00 370.66,205.00 372.86,208.80 372.86,301.10"/>
<g fill="#ed7d31" clip-path="url(#c30)">
<rect x="367.06" y="204.20" width="4.0" height="3.6999999999999997"/>
<rect x="365.16" y="203.71" width="3.9" height="3.9"/>
<rect x="365.16" y="211.49" width="3.9" height="3.9"/>
<rect x="365.16" y="219.27" width="3.9" height="3.9"/>
<rect x="365.16" y="227.05" width="3.9" height="3.9"/>
<rect x="365.16" y="234.83" width="3.9" height="3.9"/>
<rect x="365.16" y="242.61" width="3.9" height="3.9"/>
<rect x="365.16" y="250.39" width="3.9" height="3.9"/>
<rect x="365.16" y="258.17" width="3.9" height="3.9"/>
<rect x="365.16" y="265.95" width="3.9" height="3.9"/>
<rect x="365.16" y="273.73" width="3.9" height="3.9"/>
<rect x="365.16" y="281.51" width="3.9" height="3.9"/>
<rect x="365.16" y="289.29" width="3.9" height="3.9"/>
<rect x="365.16" y="297.07" width="3.9" height="3.9"/>
<rect x="370.86" y="207.41" width="3.9" height="3.9"/>
<rect x="370.86" y="215.19" width="3.9" height="3.9"/>
<rect x="370.86" y="222.97" width="3.9" height="3.9"/>
<rect x="370.86" y="230.75" width="3.9" height="3.9"/>
<rect x="370.86" y="238.53" width="3.9" height="3.9"/>
<rect x="370.86" y="246.31" width="3.9" height="3.9"/>
<rect x="370.86" y="254.09" width="3.9" height="3.9"/>
<rect x="370.86" y="261.87" width="3.9" height="3.9"/>
<rect x="370.86" y="269.65" width="3.9" height="3.9"/>
<rect x="370.86" y="277.43" width="3.9" height="3.9"/>
<rect x="370.86" y="285.21" width="3.9" height="3.9"/>
<rect x="370.86" y="292.99" width="3.9" height="3.9"/>
<rect x="370.86" y="300.77" width="3.9" height="3.9"/>
</g>
</g>
<g>
<polygon fill="#8bb7e3" fill-opacity="0.75" points="382.00,301.10 382.00,92.70 383.50,90.50 385.20,90.50 387.50,94.30 387.50,301.10"/>
<g fill="#3b4b65" clip-path="url(#c31)">
<rect x="381.80" y="89.70" width="4.0" height="3.6999999999999997"/>
<rect x="379.90" y="92.97" width="3.9" height="3.9"/>
<rect x="379.90" y="100.75" width="3.9" height="3.9"/>
<rect x="379.90" y="108.53" width="3.9" height="3.9"/>
<rect x="379.90" y="116.31" width="3.9" height="3.9"/>
<rect x="379.90" y="124.09" width="3.9" height="3.9"/>
<rect x="379.90" y="131.87" width="3.9" height="3.9"/>
<rect x="379.90" y="139.65" width="3.9" height="3.9"/>
<rect x="379.90" y="147.43" width="3.9" height="3.9"/>
<rect x="379.90" y="155.21" width="3.9" height="3.9"/>
<rect x="379.90" y="162.99" width="3.9" height="3.9"/>
<rect x="379.90" y="170.77" width="3.9" height="3.9"/>
<rect x="379.90" y="178.55" width="3.9" height="3.9"/>
<rect x="379.90" y="186.33" width="3.9" height="3.9"/>
<rect x="379.90" y="194.11" width="3.9" height="3.9"/>
<rect x="379.90" y="201.89" width="3.9" height="3.9"/>
<rect x="379.90" y="209.67" width="3.9" height="3.9"/>
<rect x="379.90" y="217.45" width="3.9" height="3.9"/>
<rect x="379.90" y="225.23" width="3.9" height="3.9"/>
<rect x="379.90" y="233.01" width="3.9" height="3.9"/>
<rect x="379.90" y="240.79" width="3.9" height="3.9"/>
<rect x="379.90" y="248.57" width="3.9" height="3.9"/>
<rect x="379.90" y="256.35" width="3.9" height="3.9"/>
<rect x="379.90" y="264.13" width="3.9" height="3.9"/>
<rect x="379.90" y="271.91" width="3.9" height="3.9"/>
<rect x="379.90" y="279.69" width="3.9" height="3.9"/>
<rect x="379.90" y="287.47" width="3.9" height="3.9"/>
<rect x="379.90" y="295.25" width="3.9" height="3.9"/>
<rect x="385.30" y="92.97" width="3.9" height="3.9"/>
<rect x="385.30" y="100.75" width="3.9" height="3.9"/>
<rect x="385.30" y="108.53" width="3.9" height="3.9"/>
<rect x="385.30" y="116.31" width="3.9" height="3.9"/>
<rect x="385.30" y="124.09" width="3.9" height="3.9"/>
<rect x="385.30" y="131.87" width="3.9" height="3.9"/>
<rect x="385.30" y="139.65" width="3.9" height="3.9"/>
<rect x="385.30" y="147.43" width="3.9" height="3.9"/>
<rect x="385.30" y="155.21" width="3.9" height="3.9"/>
<rect x="385.30" y="162.99" width="3.9" height="3.9"/>
<rect x="385.30" y="170.77" width="3.9" height="3.9"/>
<rect x="385.30" y="178.55" width="3.9" height="3.9"/>
<rect x="385.30" y="186.33" width="3.9" height="3.9"/>
<rect x="385.30" y="194.11" width="3.9" height="3.9"/>
<rect x="385.30" y="201.89" width="3.9" height="3.9"/>
<rect x="385.30" y="209.67" width="3.9" height="3.9"/>
<rect x="385.30" y="217.45" width="3.9" height="3.9"/>
<rect x="385.30" y="225.23" width="3.9" height="3.9"/>
<rect x="385.30" y="233.01" width="3.9" height="3.9"/>
<rect x="385.30" y="240.79" width="3.9" height="3.9"/>
<rect x="385.30" y="248.57" width="3.9" height="3.9"/>
<rect x="385.30" y="256.35" width="3.9" height="3.9"/>
<rect x="385.30" y="264.13" width="3.9" height="3.9"/>
<rect x="385.30" y="271.91" width="3.9" height="3.9"/>
<rect x="385.30" y="279.69" width="3.9" height="3.9"/>
<rect x="385.30" y="287.47" width="3.9" height="3.9"/>
<rect x="385.30" y="295.25" width="3.9" height="3.9"/>
</g>
<polygon fill="#ffff00" fill-opacity="1" points="387.80,301.10 387.80,217.30 389.30,215.10 391.00,215.10 393.20,218.90 393.20,301.10"/>
<g fill="#ed7d31" clip-path="url(#c32)">
<rect x="387.40" y="214.30" width="4.0" height="3.6999999999999997"/>
<rect x="385.50" y="217.87" width="3.9" height="3.9"/>
<rect x="385.50" y="225.65" width="3.9" height="3.9"/>
<rect x="385.50" y="233.43" width="3.9" height="3.9"/>
<rect x="385.50" y="241.21" width="3.9" height="3.9"/>
<rect x="385.50" y="248.99" width="3.9" height="3.9"/>
<rect x="385.50" y="256.77" width="3.9" height="3.9"/>
<rect x="385.50" y="264.55" width="3.9" height="3.9"/>
<rect x="385.50" y="272.33" width="3.9" height="3.9"/>
<rect x="385.50" y="280.11" width="3.9" height="3.9"/>
<rect x="385.50" y="287.89" width="3.9" height="3.9"/>
<rect x="385.50" y="295.67" width="3.9" height="3.9"/>
<rect x="391.20" y="217.87" width="3.9" height="3.9"/>
<rect x="391.20" y="225.65" width="3.9" height="3.9"/>
<rect x="391.20" y="233.43" width="3.9" height="3.9"/>
<rect x="391.20" y="241.21" width="3.9" height="3.9"/>
<rect x="391.20" y="248.99" width="3.9" height="3.9"/>
<rect x="391.20" y="256.77" width="3.9" height="3.9"/>
<rect x="391.20" y="264.55" width="3.9" height="3.9"/>
<rect x="391.20" y="272.33" width="3.9" height="3.9"/>
<rect x="391.20" y="280.11" width="3.9" height="3.9"/>
<rect x="391.20" y="287.89" width="3.9" height="3.9"/>
<rect x="391.20" y="295.67" width="3.9" height="3.9"/>
</g>
</g>
<g>
<polygon fill="#8bb7e3" fill-opacity="0.75" points="402.34,301.10 402.34,130.40 403.84,128.20 405.54,128.20 407.84,132.00 407.84,301.10"/>
<g fill="#3b4b65" clip-path="url(#c33)">
<rect x="402.14" y="127.40" width="4.0" height="3.6999999999999997"/>
<rect x="400.24" y="133.07" width="3.9" height="3.9"/>
<rect x="400.24" y="140.85" width="3.9" height="3.9"/>
<rect x="400.24" y="148.63" width="3.9" height="3.9"/>
<rect x="400.24" y="156.41" width="3.9" height="3.9"/>
<rect x="400.24" y="164.19" width="3.9" height="3.9"/>
<rect x="400.24" y="171.97" width="3.9" height="3.9"/>
<rect x="400.24" y="179.75" width="3.9" height="3.9"/>
<rect x="400.24" y="187.53" width="3.9" height="3.9"/>
<rect x="400.24" y="195.31" width="3.9" height="3.9"/>
<rect x="400.24" y="203.09" width="3.9" height="3.9"/>
<rect x="400.24" y="210.87" width="3.9" height="3.9"/>
<rect x="400.24" y="218.65" width="3.9" height="3.9"/>
<rect x="400.24" y="226.43" width="3.9" height="3.9"/>
<rect x="400.24" y="234.21" width="3.9" height="3.9"/>
<rect x="400.24" y="241.99" width="3.9" height="3.9"/>
<rect x="400.24" y="249.77" width="3.9" height="3.9"/>
<rect x="400.24" y="257.55" width="3.9" height="3.9"/>
<rect x="400.24" y="265.33" width="3.9" height="3.9"/>
<rect x="400.24" y="273.11" width="3.9" height="3.9"/>
<rect x="400.24" y="280.89" width="3.9" height="3.9"/>
<rect x="400.24" y="288.67" width="3.9" height="3.9"/>
<rect x="400.24" y="296.45" width="3.9" height="3.9"/>
<rect x="405.64" y="130.87" width="3.9" height="3.9"/>
<rect x="405.64" y="138.65" width="3.9" height="3.9"/>
<rect x="405.64" y="146.43" width="3.9" height="3.9"/>
<rect x="405.64" y="154.21" width="3.9" height="3.9"/>
<rect x="405.64" y="161.99" width="3.9" height="3.9"/>
<rect x="405.64" y="169.77" width="3.9" height="3.9"/>
<rect x="405.64" y="177.55" width="3.9" height="3.9"/>
<rect x="405.64" y="185.33" width="3.9" height="3.9"/>
<rect x="405.64" y="193.11" width="3.9" height="3.9"/>
<rect x="405.64" y="200.89" width="3.9" height="3.9"/>
<rect x="405.64" y="208.67" width="3.9" height="3.9"/>
<rect x="405.64" y="216.45" width="3.9" height="3.9"/>
<rect x="405.64" y="224.23" width="3.9" height="3.9"/>
<rect x="405.64" y="232.01" width="3.9" height="3.9"/>
<rect x="405.64" y="239.79" width="3.9" height="3.9"/>
<rect x="405.64" y="247.57" width="3.9" height="3.9"/>
<rect x="405.64" y="255.35" width="3.9" height="3.9"/>
<rect x="405.64" y="263.13" width="3.9" height="3.9"/>
<rect x="405.64" y="270.91" width="3.9" height="3.9"/>
<rect x="405.64" y="278.69" width="3.9" height="3.9"/>
<rect x="405.64" y="286.47" width="3.9" height="3.9"/>
<rect x="405.64" y="294.25" width="3.9" height="3.9"/>
</g>
<polygon fill="#ffff00" fill-opacity="1" points="408.14,301.10 408.14,182.50 409.64,180.30 411.34,180.30 413.54,184.10 413.54,301.10"/>
<g fill="#ed7d31" clip-path="url(#c34)">
<rect x="407.74" y="179.50" width="4.0" height="3.6999999999999997"/>
<rect x="405.84" y="179.67" width="3.9" height="3.9"/>
<rect x="405.84" y="187.45" width="3.9" height="3.9"/>
<rect x="405.84" y="195.23" width="3.9" height="3.9"/>
<rect x="405.84" y="203.01" width="3.9" height="3.9"/>
<rect x="405.84" y="210.79" width="3.9" height="3.9"/>
<rect x="405.84" y="218.57" width="3.9" height="3.9"/>
<rect x="405.84" y="226.35" width="3.9" height="3.9"/>
<rect x="405.84" y="234.13" width="3.9" height="3.9"/>
<rect x="405.84" y="241.91" width="3.9" height="3.9"/>
<rect x="405.84" y="249.69" width="3.9" height="3.9"/>
<rect x="405.84" y="257.47" width="3.9" height="3.9"/>
<rect x="405.84" y="265.25" width="3.9" height="3.9"/>
<rect x="405.84" y="273.03" width="3.9" height="3.9"/>
<rect x="405.84" y="280.81" width="3.9" height="3.9"/>
<rect x="405.84" y="288.59" width="3.9" height="3.9"/>
<rect x="405.84" y="296.37" width="3.9" height="3.9"/>
<rect x="411.54" y="183.27" width="3.9" height="3.9"/>
<rect x="411.54" y="191.05" width="3.9" height="3.9"/>
<rect x="411.54" y="198.83" width="3.9" height="3.9"/>
<rect x="411.54" y="206.61" width="3.9" height="3.9"/>
<rect x="411.54" y="214.39" width="3.9" height="3.9"/>
<rect x="411.54" y="222.17" width="3.9" height="3.9"/>
<rect x="411.54" y="229.95" width="3.9" height="3.9"/>
<rect x="411.54" y="237.73" width="3.9" height="3.9"/>
<rect x="411.54" y="245.51" width="3.9" height="3.9"/>
<rect x="411.54" y="253.29" width="3.9" height="3.9"/>
<rect x="411.54" y="261.07" width="3.9" height="3.9"/>
<rect x="411.54" y="268.85" width="3.9" height="3.9"/>
<rect x="411.54" y="276.63" width="3.9" height="3.9"/>
<rect x="411.54" y="284.41" width="3.9" height="3.9"/>
<rect x="411.54" y="292.19" width="3.9" height="3.9"/>
<rect x="411.54" y="299.97" width="3.9" height="3.9"/>
</g>
</g>
<g>
<polygon fill="#8bb7e3" fill-opacity="0.75" points="422.68,301.10 422.68,61.50 424.18,59.30 425.88,59.30 428.18,63.10 428.18,301.10"/>
<g fill="#3b4b65" clip-path="url(#c35)">
<rect x="422.48" y="58.50" width="4.0" height="3.6999999999999997"/>
<rect x="420.58" y="61.85" width="3.9" height="3.9"/>
<rect x="420.58" y="69.63" width="3.9" height="3.9"/>
<rect x="420.58" y="77.41" width="3.9" height="3.9"/>
<rect x="420.58" y="85.19" width="3.9" height="3.9"/>
<rect x="420.58" y="92.97" width="3.9" height="3.9"/>
<rect x="420.58" y="100.75" width="3.9" height="3.9"/>
<rect x="420.58" y="108.53" width="3.9" height="3.9"/>
<rect x="420.58" y="116.31" width="3.9" height="3.9"/>
<rect x="420.58" y="124.09" width="3.9" height="3.9"/>
<rect x="420.58" y="131.87" width="3.9" height="3.9"/>
<rect x="420.58" y="139.65" width="3.9" height="3.9"/>
<rect x="420.58" y="147.43" width="3.9" height="3.9"/>
<rect x="420.58" y="155.21" width="3.9" height="3.9"/>
<rect x="420.58" y="162.99" width="3.9" height="3.9"/>
<rect x="420.58" y="170.77" width="3.9" height="3.9"/>
<rect x="420.58" y="178.55" width="3.9" height="3.9"/>
<rect x="420.58" y="186.33" width="3.9" height="3.9"/>
<rect x="420.58" y="194.11" width="3.9" height="3.9"/>
<rect x="420.58" y="201.89" width="3.9" height="3.9"/>
<rect x="420.58" y="209.67" width="3.9" height="3.9"/>
<rect x="420.58" y="217.45" width="3.9" height="3.9"/>
<rect x="420.58" y="225.23" width="3.9" height="3.9"/>
<rect x="420.58" y="233.01" width="3.9" height="3.9"/>
<rect x="420.58" y="240.79" width="3.9" height="3.9"/>
<rect x="420.58" y="248.57" width="3.9" height="3.9"/>
<rect x="420.58" y="256.35" width="3.9" height="3.9"/>
<rect x="420.58" y="264.13" width="3.9" height="3.9"/>
<rect x="420.58" y="271.91" width="3.9" height="3.9"/>
<rect x="420.58" y="279.69" width="3.9" height="3.9"/>
<rect x="420.58" y="287.47" width="3.9" height="3.9"/>
<rect x="420.58" y="295.25" width="3.9" height="3.9"/>
<rect x="425.98" y="61.85" width="3.9" height="3.9"/>
<rect x="425.98" y="69.63" width="3.9" height="3.9"/>
<rect x="425.98" y="77.41" width="3.9" height="3.9"/>
<rect x="425.98" y="85.19" width="3.9" height="3.9"/>
<rect x="425.98" y="92.97" width="3.9" height="3.9"/>
<rect x="425.98" y="100.75" width="3.9" height="3.9"/>
<rect x="425.98" y="108.53" width="3.9" height="3.9"/>
<rect x="425.98" y="116.31" width="3.9" height="3.9"/>
<rect x="425.98" y="124.09" width="3.9" height="3.9"/>
<rect x="425.98" y="131.87" width="3.9" height="3.9"/>
<rect x="425.98" y="139.65" width="3.9" height="3.9"/>
<rect x="425.98" y="147.43" width="3.9" height="3.9"/>
<rect x="425.98" y="155.21" width="3.9" height="3.9"/>
<rect x="425.98" y="162.99" width="3.9" height="3.9"/>
<rect x="425.98" y="170.77" width="3.9" height="3.9"/>
<rect x="425.98" y="178.55" width="3.9" height="3.9"/>
<rect x="425.98" y="186.33" width="3.9" height="3.9"/>
<rect x="425.98" y="194.11" width="3.9" height="3.9"/>
<rect x="425.98" y="201.89" width="3.9" height="3.9"/>
<rect x="425.98" y="209.67" width="3.9" height="3.9"/>
<rect x="425.98" y="217.45" width="3.9" height="3.9"/>
<rect x="425.98" y="225.23" width="3.9" height="3.9"/>
<rect x="425.98" y="233.01" width="3.9" height="3.9"/>
<rect x="425.98" y="240.79" width="3.9" height="3.9"/>
<rect x="425.98" y="248.57" width="3.9" height="3.9"/>
<rect x="425.98" y="256.35" width="3.9" height="3.9"/>
<rect x="425.98" y="264.13" width="3.9" height="3.9"/>
<rect x="425.98" y="271.91" width="3.9" height="3.9"/>
<rect x="425.98" y="279.69" width="3.9" height="3.9"/>
<rect x="425.98" y="287.47" width="3.9" height="3.9"/>
<rect x="425.98" y="295.25" width="3.9" height="3.9"/>
</g>
<polygon fill="#ffff00" fill-opacity="1" points="428.48,301.10 428.48,208.20 429.98,206.00 431.68,206.00 433.88,209.80 433.88,301.10"/>
<g fill="#ed7d31" clip-path="url(#c36)">
<rect x="428.08" y="205.20" width="4.0" height="3.6999999999999997"/>
<rect x="426.18" y="210.99" width="3.9" height="3.9"/>
<rect x="426.18" y="218.77" width="3.9" height="3.9"/>
<rect x="426.18" y="226.55" width="3.9" height="3.9"/>
<rect x="426.18" y="234.33" width="3.9" height="3.9"/>
<rect x="426.18" y="242.11" width="3.9" height="3.9"/>
<rect x="426.18" y="249.89" width="3.9" height="3.9"/>
<rect x="426.18" y="257.67" width="3.9" height="3.9"/>
<rect x="426.18" y="265.45" width="3.9" height="3.9"/>
<rect x="426.18" y="273.23" width="3.9" height="3.9"/>
<rect x="426.18" y="281.01" width="3.9" height="3.9"/>
<rect x="426.18" y="288.79" width="3.9" height="3.9"/>
<rect x="426.18" y="296.57" width="3.9" height="3.9"/>
<rect x="431.88" y="208.41" width="3.9" height="3.9"/>
<rect x="431.88" y="216.19" width="3.9" height="3.9"/>
<rect x="431.88" y="223.97" width="3.9" height="3.9"/>
<rect x="431.88" y="231.75" width="3.9" height="3.9"/>
<rect x="431.88" y="239.53" width="3.9" height="3.9"/>
<rect x="431.88" y="247.31" width="3.9" height="3.9"/>
<rect x="431.88" y="255.09" width="3.9" height="3.9"/>
<rect x="431.88" y="262.87" width="3.9" height="3.9"/>
<rect x="431.88" y="270.65" width="3.9" height="3.9"/>
<rect x="431.88" y="278.43" width="3.9" height="3.9"/>
<rect x="431.88" y="286.21" width="3.9" height="3.9"/>
<rect x="431.88" y="293.99" width="3.9" height="3.9"/>
</g>
</g>
<g>
<polygon fill="#8bb7e3" fill-opacity="0.75" points="443.02,301.10 443.02,126.40 444.52,124.20 446.22,124.20 448.52,128.00 448.52,301.10"/>
<g fill="#3b4b65" clip-path="url(#c37)">
<rect x="442.82" y="123.40" width="4.0" height="3.6999999999999997"/>
<rect x="440.92" y="129.47" width="3.9" height="3.9"/>
<rect x="440.92" y="137.25" width="3.9" height="3.9"/>
<rect x="440.92" y="145.03" width="3.9" height="3.9"/>
<rect x="440.92" y="152.81" width="3.9" height="3.9"/>
<rect x="440.92" y="160.59" width="3.9" height="3.9"/>
<rect x="440.92" y="168.37" width="3.9" height="3.9"/>
<rect x="440.92" y="176.15" width="3.9" height="3.9"/>
<rect x="440.92" y="183.93" width="3.9" height="3.9"/>
<rect x="440.92" y="191.71" width="3.9" height="3.9"/>
<rect x="440.92" y="199.49" width="3.9" height="3.9"/>
<rect x="440.92" y="207.27" width="3.9" height="3.9"/>
<rect x="440.92" y="215.05" width="3.9" height="3.9"/>
<rect x="440.92" y="222.83" width="3.9" height="3.9"/>
<rect x="440.92" y="230.61" width="3.9" height="3.9"/>
<rect x="440.92" y="238.39" width="3.9" height="3.9"/>
<rect x="440.92" y="246.17" width="3.9" height="3.9"/>
<rect x="440.92" y="253.95" width="3.9" height="3.9"/>
<rect x="440.92" y="261.73" width="3.9" height="3.9"/>
<rect x="440.92" y="269.51" width="3.9" height="3.9"/>
<rect x="440.92" y="277.29" width="3.9" height="3.9"/>
<rect x="440.92" y="285.07" width="3.9" height="3.9"/>
<rect x="440.92" y="292.85" width="3.9" height="3.9"/>
<rect x="440.92" y="300.63" width="3.9" height="3.9"/>
<rect x="446.32" y="127.09" width="3.9" height="3.9"/>
<rect x="446.32" y="134.87" width="3.9" height="3.9"/>
<rect x="446.32" y="142.65" width="3.9" height="3.9"/>
<rect x="446.32" y="150.43" width="3.9" height="3.9"/>
<rect x="446.32" y="158.21" width="3.9" height="3.9"/>
<rect x="446.32" y="165.99" width="3.9" height="3.9"/>
<rect x="446.32" y="173.77" width="3.9" height="3.9"/>
<rect x="446.32" y="181.55" width="3.9" height="3.9"/>
<rect x="446.32" y="189.33" width="3.9" height="3.9"/>
<rect x="446.32" y="197.11" width="3.9" height="3.9"/>
<rect x="446.32" y="204.89" width="3.9" height="3.9"/>
<rect x="446.32" y="212.67" width="3.9" height="3.9"/>
<rect x="446.32" y="220.45" width="3.9" height="3.9"/>
<rect x="446.32" y="228.23" width="3.9" height="3.9"/>
<rect x="446.32" y="236.01" width="3.9" height="3.9"/>
<rect x="446.32" y="243.79" width="3.9" height="3.9"/>
<rect x="446.32" y="251.57" width="3.9" height="3.9"/>
<rect x="446.32" y="259.35" width="3.9" height="3.9"/>
<rect x="446.32" y="267.13" width="3.9" height="3.9"/>
<rect x="446.32" y="274.91" width="3.9" height="3.9"/>
<rect x="446.32" y="282.69" width="3.9" height="3.9"/>
<rect x="446.32" y="290.47" width="3.9" height="3.9"/>
<rect x="446.32" y="298.25" width="3.9" height="3.9"/>
</g>
<polygon fill="#ffff00" fill-opacity="1" points="448.82,301.10 448.82,186.10 450.32,183.90 452.02,183.90 454.22,187.70 454.22,301.10"/>
<g fill="#ed7d31" clip-path="url(#c38)">
<rect x="448.42" y="183.10" width="4.0" height="3.6999999999999997"/>
<rect x="446.52" y="186.75" width="3.9" height="3.9"/>
<rect x="446.52" y="194.53" width="3.9" height="3.9"/>
<rect x="446.52" y="202.31" width="3.9" height="3.9"/>
<rect x="446.52" y="210.09" width="3.9" height="3.9"/>
<rect x="446.52" y="217.87" width="3.9" height="3.9"/>
<rect x="446.52" y="225.65" width="3.9" height="3.9"/>
<rect x="446.52" y="233.43" width="3.9" height="3.9"/>
<rect x="446.52" y="241.21" width="3.9" height="3.9"/>
<rect x="446.52" y="248.99" width="3.9" height="3.9"/>
<rect x="446.52" y="256.77" width="3.9" height="3.9"/>
<rect x="446.52" y="264.55" width="3.9" height="3.9"/>
<rect x="446.52" y="272.33" width="3.9" height="3.9"/>
<rect x="446.52" y="280.11" width="3.9" height="3.9"/>
<rect x="446.52" y="287.89" width="3.9" height="3.9"/>
<rect x="446.52" y="295.67" width="3.9" height="3.9"/>
<rect x="452.22" y="186.75" width="3.9" height="3.9"/>
<rect x="452.22" y="194.53" width="3.9" height="3.9"/>
<rect x="452.22" y="202.31" width="3.9" height="3.9"/>
<rect x="452.22" y="210.09" width="3.9" height="3.9"/>
<rect x="452.22" y="217.87" width="3.9" height="3.9"/>
<rect x="452.22" y="225.65" width="3.9" height="3.9"/>
<rect x="452.22" y="233.43" width="3.9" height="3.9"/>
<rect x="452.22" y="241.21" width="3.9" height="3.9"/>
<rect x="452.22" y="248.99" width="3.9" height="3.9"/>
<rect x="452.22" y="256.77" width="3.9" height="3.9"/>
<rect x="452.22" y="264.55" width="3.9" height="3.9"/>
<rect x="452.22" y="272.33" width="3.9" height="3.9"/>
<rect x="452.22" y="280.11" width="3.9" height="3.9"/>
<rect x="452.22" y="287.89" width="3.9" height="3.9"/>
<rect x="452.22" y="295.67" width="3.9" height="3.9"/>
</g>
</g>
<g>
<polygon fill="#8bb7e3" fill-opacity="0.75" points="463.36,301.10 463.36,108.20 464.86,106.00 466.56,106.00 468.86,109.80 468.86,301.10"/>
<g fill="#3b4b65" clip-path="url(#c39)">
<rect x="463.16" y="105.20" width="4.0" height="3.6999999999999997"/>
<rect x="461.26" y="108.53" width="3.9" height="3.9"/>
<rect x="461.26" y="116.31" width="3.9" height="3.9"/>
<rect x="461.26" y="124.09" width="3.9" height="3.9"/>
<rect x="461.26" y="131.87" width="3.9" height="3.9"/>
<rect x="461.26" y="139.65" width="3.9" height="3.9"/>
<rect x="461.26" y="147.43" width="3.9" height="3.9"/>
<rect x="461.26" y="155.21" width="3.9" height="3.9"/>
<rect x="461.26" y="162.99" width="3.9" height="3.9"/>
<rect x="461.26" y="170.77" width="3.9" height="3.9"/>
<rect x="461.26" y="178.55" width="3.9" height="3.9"/>
<rect x="461.26" y="186.33" width="3.9" height="3.9"/>
<rect x="461.26" y="194.11" width="3.9" height="3.9"/>
<rect x="461.26" y="201.89" width="3.9" height="3.9"/>
<rect x="461.26" y="209.67" width="3.9" height="3.9"/>
<rect x="461.26" y="217.45" width="3.9" height="3.9"/>
<rect x="461.26" y="225.23" width="3.9" height="3.9"/>
<rect x="461.26" y="233.01" width="3.9" height="3.9"/>
<rect x="461.26" y="240.79" width="3.9" height="3.9"/>
<rect x="461.26" y="248.57" width="3.9" height="3.9"/>
<rect x="461.26" y="256.35" width="3.9" height="3.9"/>
<rect x="461.26" y="264.13" width="3.9" height="3.9"/>
<rect x="461.26" y="271.91" width="3.9" height="3.9"/>
<rect x="461.26" y="279.69" width="3.9" height="3.9"/>
<rect x="461.26" y="287.47" width="3.9" height="3.9"/>
<rect x="461.26" y="295.25" width="3.9" height="3.9"/>
<rect x="466.66" y="108.53" width="3.9" height="3.9"/>
<rect x="466.66" y="116.31" width="3.9" height="3.9"/>
<rect x="466.66" y="124.09" width="3.9" height="3.9"/>
<rect x="466.66" y="131.87" width="3.9" height="3.9"/>
<rect x="466.66" y="139.65" width="3.9" height="3.9"/>
<rect x="466.66" y="147.43" width="3.9" height="3.9"/>
<rect x="466.66" y="155.21" width="3.9" height="3.9"/>
<rect x="466.66" y="162.99" width="3.9" height="3.9"/>
<rect x="466.66" y="170.77" width="3.9" height="3.9"/>
<rect x="466.66" y="178.55" width="3.9" height="3.9"/>
<rect x="466.66" y="186.33" width="3.9" height="3.9"/>
<rect x="466.66" y="194.11" width="3.9" height="3.9"/>
<rect x="466.66" y="201.89" width="3.9" height="3.9"/>
<rect x="466.66" y="209.67" width="3.9" height="3.9"/>
<rect x="466.66" y="217.45" width="3.9" height="3.9"/>
<rect x="466.66" y="225.23" width="3.9" height="3.9"/>
<rect x="466.66" y="233.01" width="3.9" height="3.9"/>
<rect x="466.66" y="240.79" width="3.9" height="3.9"/>
<rect x="466.66" y="248.57" width="3.9" height="3.9"/>
<rect x="466.66" y="256.35" width="3.9" height="3.9"/>
<rect x="466.66" y="264.13" width="3.9" height="3.9"/>
<rect x="466.66" y="271.91" width="3.9" height="3.9"/>
<rect x="466.66" y="279.69" width="3.9" height="3.9"/>
<rect x="466.66" y="287.47" width="3.9" height="3.9"/>
<rect x="466.66" y="295.25" width="3.9" height="3.9"/>
</g>
<polygon fill="#ffff00" fill-opacity="1" points="469.16,301.10 469.16,216.70 470.66,214.50 472.36,214.50 474.56,218.30 474.56,301.10"/>
<g fill="#ed7d31" clip-path="url(#c40)">
<rect x="468.76" y="213.70" width="4.0" height="3.6999999999999997"/>
<rect x="466.86" y="217.87" width="3.9" height="3.9"/>
<rect x="466.86" y="225.65" width="3.9" height="3.9"/>
<rect x="466.86" y="233.43" width="3.9" height="3.9"/>
<rect x="466.86" y="241.21" width="3.9" height="3.9"/>
<rect x="466.86" y="248.99" width="3.9" height="3.9"/>
<rect x="466.86" y="256.77" width="3.9" height="3.9"/>
<rect x="466.86" y="264.55" width="3.9" height="3.9"/>
<rect x="466.86" y="272.33" width="3.9" height="3.9"/>
<rect x="466.86" y="280.11" width="3.9" height="3.9"/>
<rect x="466.86" y="287.89" width="3.9" height="3.9"/>
<rect x="466.86" y="295.67" width="3.9" height="3.9"/>
<rect x="472.56" y="217.87" width="3.9" height="3.9"/>
<rect x="472.56" y="225.65" width="3.9" height="3.9"/>
<rect x="472.56" y="233.43" width="3.9" height="3.9"/>
<rect x="472.56" y="241.21" width="3.9" height="3.9"/>
<rect x="472.56" y="248.99" width="3.9" height="3.9"/>
<rect x="472.56" y="256.77" width="3.9" height="3.9"/>
<rect x="472.56" y="264.55" width="3.9" height="3.9"/>
<rect x="472.56" y="272.33" width="3.9" height="3.9"/>
<rect x="472.56" y="280.11" width="3.9" height="3.9"/>
<rect x="472.56" y="287.89" width="3.9" height="3.9"/>
<rect x="472.56" y="295.67" width="3.9" height="3.9"/>
</g>
</g>
<g>
<polygon fill="#8bb7e3" fill-opacity="0.75" points="483.70,301.10 483.70,65.90 485.20,63.70 486.90,63.70 489.20,67.50 489.20,301.10"/>
<g fill="#3b4b65" clip-path="url(#c41)">
<rect x="483.50" y="62.90" width="4.0" height="3.6999999999999997"/>
<rect x="481.60" y="64.85" width="3.9" height="3.9"/>
<rect x="481.60" y="72.63" width="3.9" height="3.9"/>
<rect x="481.60" y="80.41" width="3.9" height="3.9"/>
<rect x="481.60" y="88.19" width="3.9" height="3.9"/>
<rect x="481.60" y="95.97" width="3.9" height="3.9"/>
<rect x="481.60" y="103.75" width="3.9" height="3.9"/>
<rect x="481.60" y="111.53" width="3.9" height="3.9"/>
<rect x="481.60" y="119.31" width="3.9" height="3.9"/>
<rect x="481.60" y="127.09" width="3.9" height="3.9"/>
<rect x="481.60" y="134.87" width="3.9" height="3.9"/>
<rect x="481.60" y="142.65" width="3.9" height="3.9"/>
<rect x="481.60" y="150.43" width="3.9" height="3.9"/>
<rect x="481.60" y="158.21" width="3.9" height="3.9"/>
<rect x="481.60" y="165.99" width="3.9" height="3.9"/>
<rect x="481.60" y="173.77" width="3.9" height="3.9"/>
<rect x="481.60" y="181.55" width="3.9" height="3.9"/>
<rect x="481.60" y="189.33" width="3.9" height="3.9"/>
<rect x="481.60" y="197.11" width="3.9" height="3.9"/>
<rect x="481.60" y="204.89" width="3.9" height="3.9"/>
<rect x="481.60" y="212.67" width="3.9" height="3.9"/>
<rect x="481.60" y="220.45" width="3.9" height="3.9"/>
<rect x="481.60" y="228.23" width="3.9" height="3.9"/>
<rect x="481.60" y="236.01" width="3.9" height="3.9"/>
<rect x="481.60" y="243.79" width="3.9" height="3.9"/>
<rect x="481.60" y="251.57" width="3.9" height="3.9"/>
<rect x="481.60" y="259.35" width="3.9" height="3.9"/>
<rect x="481.60" y="267.13" width="3.9" height="3.9"/>
<rect x="481.60" y="274.91" width="3.9" height="3.9"/>
<rect x="481.60" y="282.69" width="3.9" height="3.9"/>
<rect x="481.60" y="290.47" width="3.9" height="3.9"/>
<rect x="481.60" y="298.25" width="3.9" height="3.9"/>
<rect x="487.00" y="67.23" width="3.9" height="3.9"/>
<rect x="487.00" y="75.01" width="3.9" height="3.9"/>
<rect x="487.00" y="82.79" width="3.9" height="3.9"/>
<rect x="487.00" y="90.57" width="3.9" height="3.9"/>
<rect x="487.00" y="98.35" width="3.9" height="3.9"/>
<rect x="487.00" y="106.13" width="3.9" height="3.9"/>
<rect x="487.00" y="113.91" width="3.9" height="3.9"/>
<rect x="487.00" y="121.69" width="3.9" height="3.9"/>
<rect x="487.00" y="129.47" width="3.9" height="3.9"/>
<rect x="487.00" y="137.25" width="3.9" height="3.9"/>
<rect x="487.00" y="145.03" width="3.9" height="3.9"/>
<rect x="487.00" y="152.81" width="3.9" height="3.9"/>
<rect x="487.00" y="160.59" width="3.9" height="3.9"/>
<rect x="487.00" y="168.37" width="3.9" height="3.9"/>
<rect x="487.00" y="176.15" width="3.9" height="3.9"/>
<rect x="487.00" y="183.93" width="3.9" height="3.9"/>
<rect x="487.00" y="191.71" width="3.9" height="3.9"/>
<rect x="487.00" y="199.49" width="3.9" height="3.9"/>
<rect x="487.00" y="207.27" width="3.9" height="3.9"/>
<rect x="487.00" y="215.05" width="3.9" height="3.9"/>
<rect x="487.00" y="222.83" width="3.9" height="3.9"/>
<rect x="487.00" y="230.61" width="3.9" height="3.9"/>
<rect x="487.00" y="238.39" width="3.9" height="3.9"/>
<rect x="487.00" y="246.17" width="3.9" height="3.9"/>
<rect x="487.00" y="253.95" width="3.9" height="3.9"/>
<rect x="487.00" y="261.73" width="3.9" height="3.9"/>
<rect x="487.00" y="269.51" width="3.9" height="3.9"/>
<rect x="487.00" y="277.29" width="3.9" height="3.9"/>
<rect x="487.00" y="285.07" width="3.9" height="3.9"/>
<rect x="487.00" y="292.85" width="3.9" height="3.9"/>
<rect x="487.00" y="300.63" width="3.9" height="3.9"/>
</g>
<polygon fill="#ffff00" fill-opacity="1" points="489.50,301.10 489.50,194.60 491.00,192.40 492.70,192.40 494.90,196.20 494.90,301.10"/>
<g fill="#ed7d31" clip-path="url(#c42)">
<rect x="489.10" y="191.60" width="4.0" height="3.6999999999999997"/>
<rect x="487.20" y="192.85" width="3.9" height="3.9"/>
<rect x="487.20" y="200.63" width="3.9" height="3.9"/>
<rect x="487.20" y="208.41" width="3.9" height="3.9"/>
<rect x="487.20" y="216.19" width="3.9" height="3.9"/>
<rect x="487.20" y="223.97" width="3.9" height="3.9"/>
<rect x="487.20" y="231.75" width="3.9" height="3.9"/>
<rect x="487.20" y="239.53" width="3.9" height="3.9"/>
<rect x="487.20" y="247.31" width="3.9" height="3.9"/>
<rect x="487.20" y="255.09" width="3.9" height="3.9"/>
<rect x="487.20" y="262.87" width="3.9" height="3.9"/>
<rect x="487.20" y="270.65" width="3.9" height="3.9"/>
<rect x="487.20" y="278.43" width="3.9" height="3.9"/>
<rect x="487.20" y="286.21" width="3.9" height="3.9"/>
<rect x="487.20" y="293.99" width="3.9" height="3.9"/>
<rect x="492.90" y="195.23" width="3.9" height="3.9"/>
<rect x="492.90" y="203.01" width="3.9" height="3.9"/>
<rect x="492.90" y="210.79" width="3.9" height="3.9"/>
<rect x="492.90" y="218.57" width="3.9" height="3.9"/>
<rect x="492.90" y="226.35" width="3.9" height="3.9"/>
<rect x="492.90" y="234.13" width="3.9" height="3.9"/>
<rect x="492.90" y="241.91" width="3.9" height="3.9"/>
<rect x="492.90" y="249.69" width="3.9" height="3.9"/>
<rect x="492.90" y="257.47" width="3.9" height="3.9"/>
<rect x="492.90" y="265.25" width="3.9" height="3.9"/>
<rect x="492.90" y="273.03" width="3.9" height="3.9"/>
<rect x="492.90" y="280.81" width="3.9" height="3.9"/>
<rect x="492.90" y="288.59" width="3.9" height="3.9"/>
<rect x="492.90" y="296.37" width="3.9" height="3.9"/>
</g>
</g>
<g>
<polygon fill="#8bb7e3" fill-opacity="0.75" points="504.04,301.10 504.04,136.30 505.54,134.10 507.24,134.10 509.54,137.90 509.54,301.10"/>
<g fill="#3b4b65" clip-path="url(#c43)">
<rect x="503.84" y="133.30" width="4.0" height="3.6999999999999997"/>
<rect x="501.94" y="134.87" width="3.9" height="3.9"/>
<rect x="501.94" y="142.65" width="3.9" height="3.9"/>
<rect x="501.94" y="150.43" width="3.9" height="3.9"/>
<rect x="501.94" y="158.21" width="3.9" height="3.9"/>
<rect x="501.94" y="165.99" width="3.9" height="3.9"/>
<rect x="501.94" y="173.77" width="3.9" height="3.9"/>
<rect x="501.94" y="181.55" width="3.9" height="3.9"/>
<rect x="501.94" y="189.33" width="3.9" height="3.9"/>
<rect x="501.94" y="197.11" width="3.9" height="3.9"/>
<rect x="501.94" y="204.89" width="3.9" height="3.9"/>
<rect x="501.94" y="212.67" width="3.9" height="3.9"/>
<rect x="501.94" y="220.45" width="3.9" height="3.9"/>
<rect x="501.94" y="228.23" width="3.9" height="3.9"/>
<rect x="501.94" y="236.01" width="3.9" height="3.9"/>
<rect x="501.94" y="243.79" width="3.9" height="3.9"/>
<rect x="501.94" y="251.57" width="3.9" height="3.9"/>
<rect x="501.94" y="259.35" width="3.9" height="3.9"/>
<rect x="501.94" y="267.13" width="3.9" height="3.9"/>
<rect x="501.94" y="274.91" width="3.9" height="3.9"/>
<rect x="501.94" y="282.69" width="3.9" height="3.9"/>
<rect x="501.94" y="290.47" width="3.9" height="3.9"/>
<rect x="501.94" y="298.25" width="3.9" height="3.9"/>
<rect x="507.34" y="137.25" width="3.9" height="3.9"/>
<rect x="507.34" y="145.03" width="3.9" height="3.9"/>
<rect x="507.34" y="152.81" width="3.9" height="3.9"/>
<rect x="507.34" y="160.59" width="3.9" height="3.9"/>
<rect x="507.34" y="168.37" width="3.9" height="3.9"/>
<rect x="507.34" y="176.15" width="3.9" height="3.9"/>
<rect x="507.34" y="183.93" width="3.9" height="3.9"/>
<rect x="507.34" y="191.71" width="3.9" height="3.9"/>
<rect x="507.34" y="199.49" width="3.9" height="3.9"/>
<rect x="507.34" y="207.27" width="3.9" height="3.9"/>
<rect x="507.34" y="215.05" width="3.9" height="3.9"/>
<rect x="507.34" y="222.83" width="3.9" height="3.9"/>
<rect x="507.34" y="230.61" width="3.9" height="3.9"/>
<rect x="507.34" y="238.39" width="3.9" height="3.9"/>
<rect x="507.34" y="246.17" width="3.9" height="3.9"/>
<rect x="507.34" y="253.95" width="3.9" height="3.9"/>
<rect x="507.34" y="261.73" width="3.9" height="3.9"/>
<rect x="507.34" y="269.51" width="3.9" height="3.9"/>
<rect x="507.34" y="277.29" width="3.9" height="3.9"/>
<rect x="507.34" y="285.07" width="3.9" height="3.9"/>
<rect x="507.34" y="292.85" width="3.9" height="3.9"/>
<rect x="507.34" y="300.63" width="3.9" height="3.9"/>
</g>
<polygon fill="#ffff00" fill-opacity="1" points="509.84,301.10 509.84,195.20 511.34,193.00 513.04,193.00 515.24,196.80 515.24,301.10"/>
<g fill="#ed7d31" clip-path="url(#c44)">
<rect x="509.44" y="192.20" width="4.0" height="3.6999999999999997"/>
<rect x="507.54" y="191.85" width="3.9" height="3.9"/>
<rect x="507.54" y="199.63" width="3.9" height="3.9"/>
<rect x="507.54" y="207.41" width="3.9" height="3.9"/>
<rect x="507.54" y="215.19" width="3.9" height="3.9"/>
<rect x="507.54" y="222.97" width="3.9" height="3.9"/>
<rect x="507.54" y="230.75" width="3.9" height="3.9"/>
<rect x="507.54" y="238.53" width="3.9" height="3.9"/>
<rect x="507.54" y="246.31" width="3.9" height="3.9"/>
<rect x="507.54" y="254.09" width="3.9" height="3.9"/>
<rect x="507.54" y="261.87" width="3.9" height="3.9"/>
<rect x="507.54" y="269.65" width="3.9" height="3.9"/>
<rect x="507.54" y="277.43" width="3.9" height="3.9"/>
<rect x="507.54" y="285.21" width="3.9" height="3.9"/>
<rect x="507.54" y="292.99" width="3.9" height="3.9"/>
<rect x="507.54" y="300.77" width="3.9" height="3.9"/>
<rect x="513.24" y="195.93" width="3.9" height="3.9"/>
<rect x="513.24" y="203.71" width="3.9" height="3.9"/>
<rect x="513.24" y="211.49" width="3.9" height="3.9"/>
<rect x="513.24" y="219.27" width="3.9" height="3.9"/>
<rect x="513.24" y="227.05" width="3.9" height="3.9"/>
<rect x="513.24" y="234.83" width="3.9" height="3.9"/>
<rect x="513.24" y="242.61" width="3.9" height="3.9"/>
<rect x="513.24" y="250.39" width="3.9" height="3.9"/>
<rect x="513.24" y="258.17" width="3.9" height="3.9"/>
<rect x="513.24" y="265.95" width="3.9" height="3.9"/>
<rect x="513.24" y="273.73" width="3.9" height="3.9"/>
<rect x="513.24" y="281.51" width="3.9" height="3.9"/>
<rect x="513.24" y="289.29" width="3.9" height="3.9"/>
<rect x="513.24" y="297.07" width="3.9" height="3.9"/>
</g>
</g>
<g>
<polygon fill="#8bb7e3" fill-opacity="0.75" points="524.38,301.10 524.38,98.40 525.88,96.20 527.58,96.20 529.88,100.00 529.88,301.10"/>
<g fill="#3b4b65" clip-path="url(#c45)">
<rect x="524.18" y="95.40" width="4.0" height="3.6999999999999997"/>
<rect x="522.28" y="95.17" width="3.9" height="3.9"/>
<rect x="522.28" y="102.95" width="3.9" height="3.9"/>
<rect x="522.28" y="110.73" width="3.9" height="3.9"/>
<rect x="522.28" y="118.51" width="3.9" height="3.9"/>
<rect x="522.28" y="126.29" width="3.9" height="3.9"/>
<rect x="522.28" y="134.07" width="3.9" height="3.9"/>
<rect x="522.28" y="141.85" width="3.9" height="3.9"/>
<rect x="522.28" y="149.63" width="3.9" height="3.9"/>
<rect x="522.28" y="157.41" width="3.9" height="3.9"/>
<rect x="522.28" y="165.19" width="3.9" height="3.9"/>
<rect x="522.28" y="172.97" width="3.9" height="3.9"/>
<rect x="522.28" y="180.75" width="3.9" height="3.9"/>
<rect x="522.28" y="188.53" width="3.9" height="3.9"/>
<rect x="522.28" y="196.31" width="3.9" height="3.9"/>
<rect x="522.28" y="204.09" width="3.9" height="3.9"/>
<rect x="522.28" y="211.87" width="3.9" height="3.9"/>
<rect x="522.28" y="219.65" width="3.9" height="3.9"/>
<rect x="522.28" y="227.43" width="3.9" height="3.9"/>
<rect x="522.28" y="235.21" width="3.9" height="3.9"/>
<rect x="522.28" y="242.99" width="3.9" height="3.9"/>
<rect x="522.28" y="250.77" width="3.9" height="3.9"/>
<rect x="522.28" y="258.55" width="3.9" height="3.9"/>
<rect x="522.28" y="266.33" width="3.9" height="3.9"/>
<rect x="522.28" y="274.11" width="3.9" height="3.9"/>
<rect x="522.28" y="281.89" width="3.9" height="3.9"/>
<rect x="522.28" y="289.67" width="3.9" height="3.9"/>
<rect x="522.28" y="297.45" width="3.9" height="3.9"/>
<rect x="527.68" y="99.35" width="3.9" height="3.9"/>
<rect x="527.68" y="107.13" width="3.9" height="3.9"/>
<rect x="527.68" y="114.91" width="3.9" height="3.9"/>
<rect x="527.68" y="122.69" width="3.9" height="3.9"/>
<rect x="527.68" y="130.47" width="3.9" height="3.9"/>
<rect x="527.68" y="138.25" width="3.9" height="3.9"/>
<rect x="527.68" y="146.03" width="3.9" height="3.9"/>
<rect x="527.68" y="153.81" width="3.9" height="3.9"/>
<rect x="527.68" y="161.59" width="3.9" height="3.9"/>
<rect x="527.68" y="169.37" width="3.9" height="3.9"/>
<rect x="527.68" y="177.15" width="3.9" height="3.9"/>
<rect x="527.68" y="184.93" width="3.9" height="3.9"/>
<rect x="527.68" y="192.71" width="3.9" height="3.9"/>
<rect x="527.68" y="200.49" width="3.9" height="3.9"/>
<rect x="527.68" y="208.27" width="3.9" height="3.9"/>
<rect x="527.68" y="216.05" width="3.9" height="3.9"/>
<rect x="527.68" y="223.83" width="3.9" height="3.9"/>
<rect x="527.68" y="231.61" width="3.9" height="3.9"/>
<rect x="527.68" y="239.39" width="3.9" height="3.9"/>
<rect x="527.68" y="247.17" width="3.9" height="3.9"/>
<rect x="527.68" y="254.95" width="3.9" height="3.9"/>
<rect x="527.68" y="262.73" width="3.9" height="3.9"/>
<rect x="527.68" y="270.51" width="3.9" height="3.9"/>
<rect x="527.68" y="278.29" width="3.9" height="3.9"/>
<rect x="527.68" y="286.07" width="3.9" height="3.9"/>
<rect x="527.68" y="293.85" width="3.9" height="3.9"/>
</g>
<polygon fill="#ffff00" fill-opacity="1" points="530.18,301.10 530.18,204.20 531.68,202.00 533.38,202.00 535.58,205.80 535.58,301.10"/>
<g fill="#ed7d31" clip-path="url(#c46)">
<rect x="529.78" y="201.20" width="4.0" height="3.6999999999999997"/>
<rect x="527.88" y="206.61" width="3.9" height="3.9"/>
<rect x="527.88" y="214.39" width="3.9" height="3.9"/>
<rect x="527.88" y="222.17" width="3.9" height="3.9"/>
<rect x="527.88" y="229.95" width="3.9" height="3.9"/>
<rect x="527.88" y="237.73" width="3.9" height="3.9"/>
<rect x="527.88" y="245.51" width="3.9" height="3.9"/>
<rect x="527.88" y="253.29" width="3.9" height="3.9"/>
<rect x="527.88" y="261.07" width="3.9" height="3.9"/>
<rect x="527.88" y="268.85" width="3.9" height="3.9"/>
<rect x="527.88" y="276.63" width="3.9" height="3.9"/>
<rect x="527.88" y="284.41" width="3.9" height="3.9"/>
<rect x="527.88" y="292.19" width="3.9" height="3.9"/>
<rect x="527.88" y="299.97" width="3.9" height="3.9"/>
<rect x="533.58" y="204.91" width="3.9" height="3.9"/>
<rect x="533.58" y="212.69" width="3.9" height="3.9"/>
<rect x="533.58" y="220.47" width="3.9" height="3.9"/>
<rect x="533.58" y="228.25" width="3.9" height="3.9"/>
<rect x="533.58" y="236.03" width="3.9" height="3.9"/>
<rect x="533.58" y="243.81" width="3.9" height="3.9"/>
<rect x="533.58" y="251.59" width="3.9" height="3.9"/>
<rect x="533.58" y="259.37" width="3.9" height="3.9"/>
<rect x="533.58" y="267.15" width="3.9" height="3.9"/>
<rect x="533.58" y="274.93" width="3.9" height="3.9"/>
<rect x="533.58" y="282.71" width="3.9" height="3.9"/>
<rect x="533.58" y="290.49" width="3.9" height="3.9"/>
<rect x="533.58" y="298.27" width="3.9" height="3.9"/>
</g>
</g>
<g>
<polygon fill="#8bb7e3" fill-opacity="0.75" points="544.72,301.10 544.72,70.30 546.22,68.10 547.92,68.10 550.22,71.90 550.22,301.10"/>
<g fill="#3b4b65" clip-path="url(#c47)">
<rect x="544.52" y="67.30" width="4.0" height="3.6999999999999997"/>
<rect x="542.62" y="68.93" width="3.9" height="3.9"/>
<rect x="542.62" y="76.71" width="3.9" height="3.9"/>
<rect x="542.62" y="84.49" width="3.9" height="3.9"/>
<rect x="542.62" y="92.27" width="3.9" height="3.9"/>
<rect x="542.62" y="100.05" width="3.9" height="3.9"/>
<rect x="542.62" y="107.83" width="3.9" height="3.9"/>
<rect x="542.62" y="115.61" width="3.9" height="3.9"/>
<rect x="542.62" y="123.39" width="3.9" height="3.9"/>
<rect x="542.62" y="131.17" width="3.9" height="3.9"/>
<rect x="542.62" y="138.95" width="3.9" height="3.9"/>
<rect x="542.62" y="146.73" width="3.9" height="3.9"/>
<rect x="542.62" y="154.51" width="3.9" height="3.9"/>
<rect x="542.62" y="162.29" width="3.9" height="3.9"/>
<rect x="542.62" y="170.07" width="3.9" height="3.9"/>
<rect x="542.62" y="177.85" width="3.9" height="3.9"/>
<rect x="542.62" y="185.63" width="3.9" height="3.9"/>
<rect x="542.62" y="193.41" width="3.9" height="3.9"/>
<rect x="542.62" y="201.19" width="3.9" height="3.9"/>
<rect x="542.62" y="208.97" width="3.9" height="3.9"/>
<rect x="542.62" y="216.75" width="3.9" height="3.9"/>
<rect x="542.62" y="224.53" width="3.9" height="3.9"/>
<rect x="542.62" y="232.31" width="3.9" height="3.9"/>
<rect x="542.62" y="240.09" width="3.9" height="3.9"/>
<rect x="542.62" y="247.87" width="3.9" height="3.9"/>
<rect x="542.62" y="255.65" width="3.9" height="3.9"/>
<rect x="542.62" y="263.43" width="3.9" height="3.9"/>
<rect x="542.62" y="271.21" width="3.9" height="3.9"/>
<rect x="542.62" y="278.99" width="3.9" height="3.9"/>
<rect x="542.62" y="286.77" width="3.9" height="3.9"/>
<rect x="542.62" y="294.55" width="3.9" height="3.9"/>
<rect x="548.02" y="71.13" width="3.9" height="3.9"/>
<rect x="548.02" y="78.91" width="3.9" height="3.9"/>
<rect x="548.02" y="86.69" width="3.9" height="3.9"/>
<rect x="548.02" y="94.47" width="3.9" height="3.9"/>
<rect x="548.02" y="102.25" width="3.9" height="3.9"/>
<rect x="548.02" y="110.03" width="3.9" height="3.9"/>
<rect x="548.02" y="117.81" width="3.9" height="3.9"/>
<rect x="548.02" y="125.59" width="3.9" height="3.9"/>
<rect x="548.02" y="133.37" width="3.9" height="3.9"/>
<rect x="548.02" y="141.15" width="3.9" height="3.9"/>
<rect x="548.02" y="148.93" width="3.9" height="3.9"/>
<rect x="548.02" y="156.71" width="3.9" height="3.9"/>
<rect x="548.02" y="164.49" width="3.9" height="3.9"/>
<rect x="548.02" y="172.27" width="3.9" height="3.9"/>
<rect x="548.02" y="180.05" width="3.9" height="3.9"/>
<rect x="548.02" y="187.83" width="3.9" height="3.9"/>
<rect x="548.02" y="195.61" width="3.9" height="3.9"/>
<rect x="548.02" y="203.39" width="3.9" height="3.9"/>
<rect x="548.02" y="211.17" width="3.9" height="3.9"/>
<rect x="548.02" y="218.95" width="3.9" height="3.9"/>
<rect x="548.02" y="226.73" width="3.9" height="3.9"/>
<rect x="548.02" y="234.51" width="3.9" height="3.9"/>
<rect x="548.02" y="242.29" width="3.9" height="3.9"/>
<rect x="548.02" y="250.07" width="3.9" height="3.9"/>
<rect x="548.02" y="257.85" width="3.9" height="3.9"/>
<rect x="548.02" y="265.63" width="3.9" height="3.9"/>
<rect x="548.02" y="273.41" width="3.9" height="3.9"/>
<rect x="548.02" y="281.19" width="3.9" height="3.9"/>
<rect x="548.02" y="288.97" width="3.9" height="3.9"/>
<rect x="548.02" y="296.75" width="3.9" height="3.9"/>
</g>
<polygon fill="#ffff00" fill-opacity="1" points="550.52,301.10 550.52,187.10 552.02,184.90 553.72,184.90 555.92,188.70 555.92,301.10"/>
<g fill="#ed7d31" clip-path="url(#c48)">
<rect x="550.12" y="184.10" width="4.0" height="3.6999999999999997"/>
<rect x="548.22" y="186.75" width="3.9" height="3.9"/>
<rect x="548.22" y="194.53" width="3.9" height="3.9"/>
<rect x="548.22" y="202.31" width="3.9" height="3.9"/>
<rect x="548.22" y="210.09" width="3.9" height="3.9"/>
<rect x="548.22" y="217.87" width="3.9" height="3.9"/>
<rect x="548.22" y="225.65" width="3.9" height="3.9"/>
<rect x="548.22" y="233.43" width="3.9" height="3.9"/>
<rect x="548.22" y="241.21" width="3.9" height="3.9"/>
<rect x="548.22" y="248.99" width="3.9" height="3.9"/>
<rect x="548.22" y="256.77" width="3.9" height="3.9"/>
<rect x="548.22" y="264.55" width="3.9" height="3.9"/>
<rect x="548.22" y="272.33" width="3.9" height="3.9"/>
<rect x="548.22" y="280.11" width="3.9" height="3.9"/>
<rect x="548.22" y="287.89" width="3.9" height="3.9"/>
<rect x="548.22" y="295.67" width="3.9" height="3.9"/>
<rect x="553.92" y="187.45" width="3.9" height="3.9"/>
<rect x="553.92" y="195.23" width="3.9" height="3.9"/>
<rect x="553.92" y="203.01" width="3.9" height="3.9"/>
<rect x="553.92" y="210.79" width="3.9" height="3.9"/>
<rect x="553.92" y="218.57" width="3.9" height="3.9"/>
<rect x="553.92" y="226.35" width="3.9" height="3.9"/>
<rect x="553.92" y="234.13" width="3.9" height="3.9"/>
<rect x="553.92" y="241.91" width="3.9" height="3.9"/>
<rect x="553.92" y="249.69" width="3.9" height="3.9"/>
<rect x="553.92" y="257.47" width="3.9" height="3.9"/>
<rect x="553.92" y="265.25" width="3.9" height="3.9"/>
<rect x="553.92" y="273.03" width="3.9" height="3.9"/>
<rect x="553.92" y="280.81" width="3.9" height="3.9"/>
<rect x="553.92" y="288.59" width="3.9" height="3.9"/>
<rect x="553.92" y="296.37" width="3.9" height="3.9"/>
</g>
</g>
<g>
<polygon fill="#8bb7e3" fill-opacity="0.75" points="565.06,301.10 565.06,87.70 566.56,85.50 568.26,85.50 570.56,89.30 570.56,301.10"/>
<g fill="#3b4b65" clip-path="url(#c49)">
<rect x="564.86" y="84.70" width="4.0" height="3.6999999999999997"/>
<rect x="562.96" y="90.57" width="3.9" height="3.9"/>
<rect x="562.96" y="98.35" width="3.9" height="3.9"/>
<rect x="562.96" y="106.13" width="3.9" height="3.9"/>
<rect x="562.96" y="113.91" width="3.9" height="3.9"/>
<rect x="562.96" y="121.69" width="3.9" height="3.9"/>
<rect x="562.96" y="129.47" width="3.9" height="3.9"/>
<rect x="562.96" y="137.25" width="3.9" height="3.9"/>
<rect x="562.96" y="145.03" width="3.9" height="3.9"/>
<rect x="562.96" y="152.81" width="3.9" height="3.9"/>
<rect x="562.96" y="160.59" width="3.9" height="3.9"/>
<rect x="562.96" y="168.37" width="3.9" height="3.9"/>
<rect x="562.96" y="176.15" width="3.9" height="3.9"/>
<rect x="562.96" y="183.93" width="3.9" height="3.9"/>
<rect x="562.96" y="191.71" width="3.9" height="3.9"/>
<rect x="562.96" y="199.49" width="3.9" height="3.9"/>
<rect x="562.96" y="207.27" width="3.9" height="3.9"/>
<rect x="562.96" y="215.05" width="3.9" height="3.9"/>
<rect x="562.96" y="222.83" width="3.9" height="3.9"/>
<rect x="562.96" y="230.61" width="3.9" height="3.9"/>
<rect x="562.96" y="238.39" width="3.9" height="3.9"/>
<rect x="562.96" y="246.17" width="3.9" height="3.9"/>
<rect x="562.96" y="253.95" width="3.9" height="3.9"/>
<rect x="562.96" y="261.73" width="3.9" height="3.9"/>
<rect x="562.96" y="269.51" width="3.9" height="3.9"/>
<rect x="562.96" y="277.29" width="3.9" height="3.9"/>
<rect x="562.96" y="285.07" width="3.9" height="3.9"/>
<rect x="562.96" y="292.85" width="3.9" height="3.9"/>
<rect x="562.96" y="300.63" width="3.9" height="3.9"/>
<rect x="568.36" y="88.19" width="3.9" height="3.9"/>
<rect x="568.36" y="95.97" width="3.9" height="3.9"/>
<rect x="568.36" y="103.75" width="3.9" height="3.9"/>
<rect x="568.36" y="111.53" width="3.9" height="3.9"/>
<rect x="568.36" y="119.31" width="3.9" height="3.9"/>
<rect x="568.36" y="127.09" width="3.9" height="3.9"/>
<rect x="568.36" y="134.87" width="3.9" height="3.9"/>
<rect x="568.36" y="142.65" width="3.9" height="3.9"/>
<rect x="568.36" y="150.43" width="3.9" height="3.9"/>
<rect x="568.36" y="158.21" width="3.9" height="3.9"/>
<rect x="568.36" y="165.99" width="3.9" height="3.9"/>
<rect x="568.36" y="173.77" width="3.9" height="3.9"/>
<rect x="568.36" y="181.55" width="3.9" height="3.9"/>
<rect x="568.36" y="189.33" width="3.9" height="3.9"/>
<rect x="568.36" y="197.11" width="3.9" height="3.9"/>
<rect x="568.36" y="204.89" width="3.9" height="3.9"/>
<rect x="568.36" y="212.67" width="3.9" height="3.9"/>
<rect x="568.36" y="220.45" width="3.9" height="3.9"/>
<rect x="568.36" y="228.23" width="3.9" height="3.9"/>
<rect x="568.36" y="236.01" width="3.9" height="3.9"/>
<rect x="568.36" y="243.79" width="3.9" height="3.9"/>
<rect x="568.36" y="251.57" width="3.9" height="3.9"/>
<rect x="568.36" y="259.35" width="3.9" height="3.9"/>
<rect x="568.36" y="267.13" width="3.9" height="3.9"/>
<rect x="568.36" y="274.91" width="3.9" height="3.9"/>
<rect x="568.36" y="282.69" width="3.9" height="3.9"/>
<rect x="568.36" y="290.47" width="3.9" height="3.9"/>
<rect x="568.36" y="298.25" width="3.9" height="3.9"/>
</g>
<polygon fill="#ffff00" fill-opacity="1" points="570.86,301.10 570.86,220.30 572.36,218.10 574.06,218.10 575.46,221.90 575.46,301.10"/>
<g fill="#ed7d31" clip-path="url(#c50)">
<rect x="570.46" y="217.30" width="4.0" height="3.6999999999999997"/>
<rect x="568.56" y="220.47" width="3.9" height="3.9"/>
<rect x="568.56" y="228.25" width="3.9" height="3.9"/>
<rect x="568.56" y="236.03" width="3.9" height="3.9"/>
<rect x="568.56" y="243.81" width="3.9" height="3.9"/>
<rect x="568.56" y="251.59" width="3.9" height="3.9"/>
<rect x="568.56" y="259.37" width="3.9" height="3.9"/>
<rect x="568.56" y="267.15" width="3.9" height="3.9"/>
<rect x="568.56" y="274.93" width="3.9" height="3.9"/>
<rect x="568.56" y="282.71" width="3.9" height="3.9"/>
<rect x="568.56" y="290.49" width="3.9" height="3.9"/>
<rect x="568.56" y="298.27" width="3.9" height="3.9"/>
<rect x="573.46" y="222.17" width="3.9" height="3.9"/>
<rect x="573.46" y="229.95" width="3.9" height="3.9"/>
<rect x="573.46" y="237.73" width="3.9" height="3.9"/>
<rect x="573.46" y="245.51" width="3.9" height="3.9"/>
<rect x="573.46" y="253.29" width="3.9" height="3.9"/>
<rect x="573.46" y="261.07" width="3.9" height="3.9"/>
<rect x="573.46" y="268.85" width="3.9" height="3.9"/>
<rect x="573.46" y="276.63" width="3.9" height="3.9"/>
<rect x="573.46" y="284.41" width="3.9" height="3.9"/>
<rect x="573.46" y="292.19" width="3.9" height="3.9"/>
<rect x="573.46" y="299.97" width="3.9" height="3.9"/>
</g>
</g>
<g>
<polygon fill="#8bb7e3" fill-opacity="0.75" points="585.40,301.10 585.40,72.00 586.90,69.80 588.60,69.80 590.90,73.60 590.90,301.10"/>
<g fill="#3b4b65" clip-path="url(#c51)">
<rect x="585.20" y="69.00" width="4.0" height="3.6999999999999997"/>
<rect x="583.30" y="75.01" width="3.9" height="3.9"/>
<rect x="583.30" y="82.79" width="3.9" height="3.9"/>
<rect x="583.30" y="90.57" width="3.9" height="3.9"/>
<rect x="583.30" y="98.35" width="3.9" height="3.9"/>
<rect x="583.30" y="106.13" width="3.9" height="3.9"/>
<rect x="583.30" y="113.91" width="3.9" height="3.9"/>
<rect x="583.30" y="121.69" width="3.9" height="3.9"/>
<rect x="583.30" y="129.47" width="3.9" height="3.9"/>
<rect x="583.30" y="137.25" width="3.9" height="3.9"/>
<rect x="583.30" y="145.03" width="3.9" height="3.9"/>
<rect x="583.30" y="152.81" width="3.9" height="3.9"/>
<rect x="583.30" y="160.59" width="3.9" height="3.9"/>
<rect x="583.30" y="168.37" width="3.9" height="3.9"/>
<rect x="583.30" y="176.15" width="3.9" height="3.9"/>
<rect x="583.30" y="183.93" width="3.9" height="3.9"/>
<rect x="583.30" y="191.71" width="3.9" height="3.9"/>
<rect x="583.30" y="199.49" width="3.9" height="3.9"/>
<rect x="583.30" y="207.27" width="3.9" height="3.9"/>
<rect x="583.30" y="215.05" width="3.9" height="3.9"/>
<rect x="583.30" y="222.83" width="3.9" height="3.9"/>
<rect x="583.30" y="230.61" width="3.9" height="3.9"/>
<rect x="583.30" y="238.39" width="3.9" height="3.9"/>
<rect x="583.30" y="246.17" width="3.9" height="3.9"/>
<rect x="583.30" y="253.95" width="3.9" height="3.9"/>
<rect x="583.30" y="261.73" width="3.9" height="3.9"/>
<rect x="583.30" y="269.51" width="3.9" height="3.9"/>
<rect x="583.30" y="277.29" width="3.9" height="3.9"/>
<rect x="583.30" y="285.07" width="3.9" height="3.9"/>
<rect x="583.30" y="292.85" width="3.9" height="3.9"/>
<rect x="583.30" y="300.63" width="3.9" height="3.9"/>
<rect x="588.70" y="72.63" width="3.9" height="3.9"/>
<rect x="588.70" y="80.41" width="3.9" height="3.9"/>
<rect x="588.70" y="88.19" width="3.9" height="3.9"/>
<rect x="588.70" y="95.97" width="3.9" height="3.9"/>
<rect x="588.70" y="103.75" width="3.9" height="3.9"/>
<rect x="588.70" y="111.53" width="3.9" height="3.9"/>
<rect x="588.70" y="119.31" width="3.9" height="3.9"/>
<rect x="588.70" y="127.09" width="3.9" height="3.9"/>
<rect x="588.70" y="134.87" width="3.9" height="3.9"/>
<rect x="588.70" y="142.65" width="3.9" height="3.9"/>
<rect x="588.70" y="150.43" width="3.9" height="3.9"/>
<rect x="588.70" y="158.21" width="3.9" height="3.9"/>
<rect x="588.70" y="165.99" width="3.9" height="3.9"/>
<rect x="588.70" y="173.77" width="3.9" height="3.9"/>
<rect x="588.70" y="181.55" width="3.9" height="3.9"/>
<rect x="588.70" y="189.33" width="3.9" height="3.9"/>
<rect x="588.70" y="197.11" width="3.9" height="3.9"/>
<rect x="588.70" y="204.89" width="3.9" height="3.9"/>
<rect x="588.70" y="212.67" width="3.9" height="3.9"/>
<rect x="588.70" y="220.45" width="3.9" height="3.9"/>
<rect x="588.70" y="228.23" width="3.9" height="3.9"/>
<rect x="588.70" y="236.01" width="3.9" height="3.9"/>
<rect x="588.70" y="243.79" width="3.9" height="3.9"/>
<rect x="588.70" y="251.57" width="3.9" height="3.9"/>
<rect x="588.70" y="259.35" width="3.9" height="3.9"/>
<rect x="588.70" y="267.13" width="3.9" height="3.9"/>
<rect x="588.70" y="274.91" width="3.9" height="3.9"/>
<rect x="588.70" y="282.69" width="3.9" height="3.9"/>
<rect x="588.70" y="290.47" width="3.9" height="3.9"/>
<rect x="588.70" y="298.25" width="3.9" height="3.9"/>
</g>
<polygon fill="#ffff00" fill-opacity="1" points="591.20,301.10 591.20,189.10 592.70,186.90 594.40,186.90 596.60,190.70 596.60,301.10"/>
<g fill="#ed7d31" clip-path="url(#c52)">
<rect x="590.80" y="186.10" width="4.0" height="3.6999999999999997"/>
<rect x="588.90" y="191.05" width="3.9" height="3.9"/>
<rect x="588.90" y="198.83" width="3.9" height="3.9"/>
<rect x="588.90" y="206.61" width="3.9" height="3.9"/>
<rect x="588.90" y="214.39" width="3.9" height="3.9"/>
<rect x="588.90" y="222.17" width="3.9" height="3.9"/>
<rect x="588.90" y="229.95" width="3.9" height="3.9"/>
<rect x="588.90" y="237.73" width="3.9" height="3.9"/>
<rect x="588.90" y="245.51" width="3.9" height="3.9"/>
<rect x="588.90" y="253.29" width="3.9" height="3.9"/>
<rect x="588.90" y="261.07" width="3.9" height="3.9"/>
<rect x="588.90" y="268.85" width="3.9" height="3.9"/>
<rect x="588.90" y="276.63" width="3.9" height="3.9"/>
<rect x="588.90" y="284.41" width="3.9" height="3.9"/>
<rect x="588.90" y="292.19" width="3.9" height="3.9"/>
<rect x="588.90" y="299.97" width="3.9" height="3.9"/>
<rect x="594.60" y="189.35" width="3.9" height="3.9"/>
<rect x="594.60" y="197.13" width="3.9" height="3.9"/>
<rect x="594.60" y="204.91" width="3.9" height="3.9"/>
<rect x="594.60" y="212.69" width="3.9" height="3.9"/>
<rect x="594.60" y="220.47" width="3.9" height="3.9"/>
<rect x="594.60" y="228.25" width="3.9" height="3.9"/>
<rect x="594.60" y="236.03" width="3.9" height="3.9"/>
<rect x="594.60" y="243.81" width="3.9" height="3.9"/>
<rect x="594.60" y="251.59" width="3.9" height="3.9"/>
<rect x="594.60" y="259.37" width="3.9" height="3.9"/>
<rect x="594.60" y="267.15" width="3.9" height="3.9"/>
<rect x="594.60" y="274.93" width="3.9" height="3.9"/>
<rect x="594.60" y="282.71" width="3.9" height="3.9"/>
<rect x="594.60" y="290.49" width="3.9" height="3.9"/>
<rect x="594.60" y="298.27" width="3.9" height="3.9"/>
</g>
</g>
<g>
<polygon fill="#8bb7e3" fill-opacity="0.75" points="605.74,301.10 605.74,157.40 607.24,155.20 608.94,155.20 611.24,159.00 611.24,301.10"/>
<g fill="#3b4b65" clip-path="url(#c53)">
<rect x="605.54" y="154.40" width="4.0" height="3.6999999999999997"/>
<rect x="603.64" y="160.19" width="3.9" height="3.9"/>
<rect x="603.64" y="167.97" width="3.9" height="3.9"/>
<rect x="603.64" y="175.75" width="3.9" height="3.9"/>
<rect x="603.64" y="183.53" width="3.9" height="3.9"/>
<rect x="603.64" y="191.31" width="3.9" height="3.9"/>
<rect x="603.64" y="199.09" width="3.9" height="3.9"/>
<rect x="603.64" y="206.87" width="3.9" height="3.9"/>
<rect x="603.64" y="214.65" width="3.9" height="3.9"/>
<rect x="603.64" y="222.43" width="3.9" height="3.9"/>
<rect x="603.64" y="230.21" width="3.9" height="3.9"/>
<rect x="603.64" y="237.99" width="3.9" height="3.9"/>
<rect x="603.64" y="245.77" width="3.9" height="3.9"/>
<rect x="603.64" y="253.55" width="3.9" height="3.9"/>
<rect x="603.64" y="261.33" width="3.9" height="3.9"/>
<rect x="603.64" y="269.11" width="3.9" height="3.9"/>
<rect x="603.64" y="276.89" width="3.9" height="3.9"/>
<rect x="603.64" y="284.67" width="3.9" height="3.9"/>
<rect x="603.64" y="292.45" width="3.9" height="3.9"/>
<rect x="603.64" y="300.23" width="3.9" height="3.9"/>
<rect x="609.04" y="158.21" width="3.9" height="3.9"/>
<rect x="609.04" y="165.99" width="3.9" height="3.9"/>
<rect x="609.04" y="173.77" width="3.9" height="3.9"/>
<rect x="609.04" y="181.55" width="3.9" height="3.9"/>
<rect x="609.04" y="189.33" width="3.9" height="3.9"/>
<rect x="609.04" y="197.11" width="3.9" height="3.9"/>
<rect x="609.04" y="204.89" width="3.9" height="3.9"/>
<rect x="609.04" y="212.67" width="3.9" height="3.9"/>
<rect x="609.04" y="220.45" width="3.9" height="3.9"/>
<rect x="609.04" y="228.23" width="3.9" height="3.9"/>
<rect x="609.04" y="236.01" width="3.9" height="3.9"/>
<rect x="609.04" y="243.79" width="3.9" height="3.9"/>
<rect x="609.04" y="251.57" width="3.9" height="3.9"/>
<rect x="609.04" y="259.35" width="3.9" height="3.9"/>
<rect x="609.04" y="267.13" width="3.9" height="3.9"/>
<rect x="609.04" y="274.91" width="3.9" height="3.9"/>
<rect x="609.04" y="282.69" width="3.9" height="3.9"/>
<rect x="609.04" y="290.47" width="3.9" height="3.9"/>
<rect x="609.04" y="298.25" width="3.9" height="3.9"/>
</g>
<polygon fill="#ffff00" fill-opacity="1" points="611.54,301.10 611.54,207.20 613.04,205.00 614.74,205.00 616.94,208.80 616.94,301.10"/>
<g fill="#ed7d31" clip-path="url(#c54)">
<rect x="611.14" y="204.20" width="4.0" height="3.6999999999999997"/>
<rect x="609.24" y="203.71" width="3.9" height="3.9"/>
<rect x="609.24" y="211.49" width="3.9" height="3.9"/>
<rect x="609.24" y="219.27" width="3.9" height="3.9"/>
<rect x="609.24" y="227.05" width="3.9" height="3.9"/>
<rect x="609.24" y="234.83" width="3.9" height="3.9"/>
<rect x="609.24" y="242.61" width="3.9" height="3.9"/>
<rect x="609.24" y="250.39" width="3.9" height="3.9"/>
<rect x="609.24" y="258.17" width="3.9" height="3.9"/>
<rect x="609.24" y="265.95" width="3.9" height="3.9"/>
<rect x="609.24" y="273.73" width="3.9" height="3.9"/>
<rect x="609.24" y="281.51" width="3.9" height="3.9"/>
<rect x="609.24" y="289.29" width="3.9" height="3.9"/>
<rect x="609.24" y="297.07" width="3.9" height="3.9"/>
<rect x="614.94" y="207.41" width="3.9" height="3.9"/>
<rect x="614.94" y="215.19" width="3.9" height="3.9"/>
<rect x="614.94" y="222.97" width="3.9" height="3.9"/>
<rect x="614.94" y="230.75" width="3.9" height="3.9"/>
<rect x="614.94" y="238.53" width="3.9" height="3.9"/>
<rect x="614.94" y="246.31" width="3.9" height="3.9"/>
<rect x="614.94" y="254.09" width="3.9" height="3.9"/>
<rect x="614.94" y="261.87" width="3.9" height="3.9"/>
<rect x="614.94" y="269.65" width="3.9" height="3.9"/>
<rect x="614.94" y="277.43" width="3.9" height="3.9"/>
<rect x="614.94" y="285.21" width="3.9" height="3.9"/>
<rect x="614.94" y="292.99" width="3.9" height="3.9"/>
<rect x="614.94" y="300.77" width="3.9" height="3.9"/>
</g>
</g>
<g>
<polygon fill="#8bb7e3" fill-opacity="0.75" points="626.08,301.10 626.08,136.90 627.58,134.70 629.28,134.70 631.58,138.50 631.58,301.10"/>
<g fill="#3b4b65" clip-path="url(#c55)">
<rect x="625.88" y="133.90" width="4.0" height="3.6999999999999997"/>
<rect x="623.98" y="134.07" width="3.9" height="3.9"/>
<rect x="623.98" y="141.85" width="3.9" height="3.9"/>
<rect x="623.98" y="149.63" width="3.9" height="3.9"/>
<rect x="623.98" y="157.41" width="3.9" height="3.9"/>
<rect x="623.98" y="165.19" width="3.9" height="3.9"/>
<rect x="623.98" y="172.97" width="3.9" height="3.9"/>
<rect x="623.98" y="180.75" width="3.9" height="3.9"/>
<rect x="623.98" y="188.53" width="3.9" height="3.9"/>
<rect x="623.98" y="196.31" width="3.9" height="3.9"/>
<rect x="623.98" y="204.09" width="3.9" height="3.9"/>
<rect x="623.98" y="211.87" width="3.9" height="3.9"/>
<rect x="623.98" y="219.65" width="3.9" height="3.9"/>
<rect x="623.98" y="227.43" width="3.9" height="3.9"/>
<rect x="623.98" y="235.21" width="3.9" height="3.9"/>
<rect x="623.98" y="242.99" width="3.9" height="3.9"/>
<rect x="623.98" y="250.77" width="3.9" height="3.9"/>
<rect x="623.98" y="258.55" width="3.9" height="3.9"/>
<rect x="623.98" y="266.33" width="3.9" height="3.9"/>
<rect x="623.98" y="274.11" width="3.9" height="3.9"/>
<rect x="623.98" y="281.89" width="3.9" height="3.9"/>
<rect x="623.98" y="289.67" width="3.9" height="3.9"/>
<rect x="623.98" y="297.45" width="3.9" height="3.9"/>
<rect x="629.38" y="137.85" width="3.9" height="3.9"/>
<rect x="629.38" y="145.63" width="3.9" height="3.9"/>
<rect x="629.38" y="153.41" width="3.9" height="3.9"/>
<rect x="629.38" y="161.19" width="3.9" height="3.9"/>
<rect x="629.38" y="168.97" width="3.9" height="3.9"/>
<rect x="629.38" y="176.75" width="3.9" height="3.9"/>
<rect x="629.38" y="184.53" width="3.9" height="3.9"/>
<rect x="629.38" y="192.31" width="3.9" height="3.9"/>
<rect x="629.38" y="200.09" width="3.9" height="3.9"/>
<rect x="629.38" y="207.87" width="3.9" height="3.9"/>
<rect x="629.38" y="215.65" width="3.9" height="3.9"/>
<rect x="629.38" y="223.43" width="3.9" height="3.9"/>
<rect x="629.38" y="231.21" width="3.9" height="3.9"/>
<rect x="629.38" y="238.99" width="3.9" height="3.9"/>
<rect x="629.38" y="246.77" width="3.9" height="3.9"/>
<rect x="629.38" y="254.55" width="3.9" height="3.9"/>
<rect x="629.38" y="262.33" width="3.9" height="3.9"/>
<rect x="629.38" y="270.11" width="3.9" height="3.9"/>
<rect x="629.38" y="277.89" width="3.9" height="3.9"/>
<rect x="629.38" y="285.67" width="3.9" height="3.9"/>
<rect x="629.38" y="293.45" width="3.9" height="3.9"/>
</g>
<polygon fill="#ffff00" fill-opacity="1" points="631.88,301.10 631.88,177.10 633.38,174.90 635.08,174.90 637.28,178.70 637.28,301.10"/>
<g fill="#ed7d31" clip-path="url(#c56)">
<rect x="631.48" y="174.10" width="4.0" height="3.6999999999999997"/>
<rect x="629.58" y="175.49" width="3.9" height="3.9"/>
<rect x="629.58" y="183.27" width="3.9" height="3.9"/>
<rect x="629.58" y="191.05" width="3.9" height="3.9"/>
<rect x="629.58" y="198.83" width="3.9" height="3.9"/>
<rect x="629.58" y="206.61" width="3.9" height="3.9"/>
<rect x="629.58" y="214.39" width="3.9" height="3.9"/>
<rect x="629.58" y="222.17" width="3.9" height="3.9"/>
<rect x="629.58" y="229.95" width="3.9" height="3.9"/>
<rect x="629.58" y="237.73" width="3.9" height="3.9"/>
<rect x="629.58" y="245.51" width="3.9" height="3.9"/>
<rect x="629.58" y="253.29" width="3.9" height="3.9"/>
<rect x="629.58" y="261.07" width="3.9" height="3.9"/>
<rect x="629.58" y="268.85" width="3.9" height="3.9"/>
<rect x="629.58" y="276.63" width="3.9" height="3.9"/>
<rect x="629.58" y="284.41" width="3.9" height="3.9"/>
<rect x="629.58" y="292.19" width="3.9" height="3.9"/>
<rect x="629.58" y="299.97" width="3.9" height="3.9"/>
<rect x="635.28" y="177.29" width="3.9" height="3.9"/>
<rect x="635.28" y="185.07" width="3.9" height="3.9"/>
<rect x="635.28" y="192.85" width="3.9" height="3.9"/>
<rect x="635.28" y="200.63" width="3.9" height="3.9"/>
<rect x="635.28" y="208.41" width="3.9" height="3.9"/>
<rect x="635.28" y="216.19" width="3.9" height="3.9"/>
<rect x="635.28" y="223.97" width="3.9" height="3.9"/>
<rect x="635.28" y="231.75" width="3.9" height="3.9"/>
<rect x="635.28" y="239.53" width="3.9" height="3.9"/>
<rect x="635.28" y="247.31" width="3.9" height="3.9"/>
<rect x="635.28" y="255.09" width="3.9" height="3.9"/>
<rect x="635.28" y="262.87" width="3.9" height="3.9"/>
<rect x="635.28" y="270.65" width="3.9" height="3.9"/>
<rect x="635.28" y="278.43" width="3.9" height="3.9"/>
<rect x="635.28" y="286.21" width="3.9" height="3.9"/>
<rect x="635.28" y="293.99" width="3.9" height="3.9"/>
</g>
</g>
<g>
<polygon fill="#8bb7e3" fill-opacity="0.75" points="646.42,301.10 646.42,65.70 647.92,63.50 649.62,63.50 651.92,67.30 651.92,301.10"/>
<g fill="#3b4b65" clip-path="url(#c57)">
<rect x="646.22" y="62.70" width="4.0" height="3.6999999999999997"/>
<rect x="644.32" y="65.85" width="3.9" height="3.9"/>
<rect x="644.32" y="73.63" width="3.9" height="3.9"/>
<rect x="644.32" y="81.41" width="3.9" height="3.9"/>
<rect x="644.32" y="89.19" width="3.9" height="3.9"/>
<rect x="644.32" y="96.97" width="3.9" height="3.9"/>
<rect x="644.32" y="104.75" width="3.9" height="3.9"/>
<rect x="644.32" y="112.53" width="3.9" height="3.9"/>
<rect x="644.32" y="120.31" width="3.9" height="3.9"/>
<rect x="644.32" y="128.09" width="3.9" height="3.9"/>
<rect x="644.32" y="135.87" width="3.9" height="3.9"/>
<rect x="644.32" y="143.65" width="3.9" height="3.9"/>
<rect x="644.32" y="151.43" width="3.9" height="3.9"/>
<rect x="644.32" y="159.21" width="3.9" height="3.9"/>
<rect x="644.32" y="166.99" width="3.9" height="3.9"/>
<rect x="644.32" y="174.77" width="3.9" height="3.9"/>
<rect x="644.32" y="182.55" width="3.9" height="3.9"/>
<rect x="644.32" y="190.33" width="3.9" height="3.9"/>
<rect x="644.32" y="198.11" width="3.9" height="3.9"/>
<rect x="644.32" y="205.89" width="3.9" height="3.9"/>
<rect x="644.32" y="213.67" width="3.9" height="3.9"/>
<rect x="644.32" y="221.45" width="3.9" height="3.9"/>
<rect x="644.32" y="229.23" width="3.9" height="3.9"/>
<rect x="644.32" y="237.01" width="3.9" height="3.9"/>
<rect x="644.32" y="244.79" width="3.9" height="3.9"/>
<rect x="644.32" y="252.57" width="3.9" height="3.9"/>
<rect x="644.32" y="260.35" width="3.9" height="3.9"/>
<rect x="644.32" y="268.13" width="3.9" height="3.9"/>
<rect x="644.32" y="275.91" width="3.9" height="3.9"/>
<rect x="644.32" y="283.69" width="3.9" height="3.9"/>
<rect x="644.32" y="291.47" width="3.9" height="3.9"/>
<rect x="644.32" y="299.25" width="3.9" height="3.9"/>
<rect x="649.72" y="65.85" width="3.9" height="3.9"/>
<rect x="649.72" y="73.63" width="3.9" height="3.9"/>
<rect x="649.72" y="81.41" width="3.9" height="3.9"/>
<rect x="649.72" y="89.19" width="3.9" height="3.9"/>
<rect x="649.72" y="96.97" width="3.9" height="3.9"/>
<rect x="649.72" y="104.75" width="3.9" height="3.9"/>
<rect x="649.72" y="112.53" width="3.9" height="3.9"/>
<rect x="649.72" y="120.31" width="3.9" height="3.9"/>
<rect x="649.72" y="128.09" width="3.9" height="3.9"/>
<rect x="649.72" y="135.87" width="3.9" height="3.9"/>
<rect x="649.72" y="143.65" width="3.9" height="3.9"/>
<rect x="649.72" y="151.43" width="3.9" height="3.9"/>
<rect x="649.72" y="159.21" width="3.9" height="3.9"/>
<rect x="649.72" y="166.99" width="3.9" height="3.9"/>
<rect x="649.72" y="174.77" width="3.9" height="3.9"/>
<rect x="649.72" y="182.55" width="3.9" height="3.9"/>
<rect x="649.72" y="190.33" width="3.9" height="3.9"/>
<rect x="649.72" y="198.11" width="3.9" height="3.9"/>
<rect x="649.72" y="205.89" width="3.9" height="3.9"/>
<rect x="649.72" y="213.67" width="3.9" height="3.9"/>
<rect x="649.72" y="221.45" width="3.9" height="3.9"/>
<rect x="649.72" y="229.23" width="3.9" height="3.9"/>
<rect x="649.72" y="237.01" width="3.9" height="3.9"/>
<rect x="649.72" y="244.79" width="3.9" height="3.9"/>
<rect x="649.72" y="252.57" width="3.9" height="3.9"/>
<rect x="649.72" y="260.35" width="3.9" height="3.9"/>
<rect x="649.72" y="268.13" width="3.9" height="3.9"/>
<rect x="649.72" y="275.91" width="3.9" height="3.9"/>
<rect x="649.72" y="283.69" width="3.9" height="3.9"/>
<rect x="649.72" y="291.47" width="3.9" height="3.9"/>
<rect x="649.72" y="299.25" width="3.9" height="3.9"/>
</g>
<polygon fill="#ffff00" fill-opacity="1" points="652.22,301.10 652.22,221.90 653.72,219.70 655.42,219.70 657.62,223.50 657.62,301.10"/>
<g fill="#ed7d31" clip-path="url(#c58)">
<rect x="651.82" y="218.90" width="4.0" height="3.6999999999999997"/>
<rect x="649.92" y="220.47" width="3.9" height="3.9"/>
<rect x="649.92" y="228.25" width="3.9" height="3.9"/>
<rect x="649.92" y="236.03" width="3.9" height="3.9"/>
<rect x="649.92" y="243.81" width="3.9" height="3.9"/>
<rect x="649.92" y="251.59" width="3.9" height="3.9"/>
<rect x="649.92" y="259.37" width="3.9" height="3.9"/>
<rect x="649.92" y="267.15" width="3.9" height="3.9"/>
<rect x="649.92" y="274.93" width="3.9" height="3.9"/>
<rect x="649.92" y="282.71" width="3.9" height="3.9"/>
<rect x="649.92" y="290.49" width="3.9" height="3.9"/>
<rect x="649.92" y="298.27" width="3.9" height="3.9"/>
<rect x="655.62" y="222.17" width="3.9" height="3.9"/>
<rect x="655.62" y="229.95" width="3.9" height="3.9"/>
<rect x="655.62" y="237.73" width="3.9" height="3.9"/>
<rect x="655.62" y="245.51" width="3.9" height="3.9"/>
<rect x="655.62" y="253.29" width="3.9" height="3.9"/>
<rect x="655.62" y="261.07" width="3.9" height="3.9"/>
<rect x="655.62" y="268.85" width="3.9" height="3.9"/>
<rect x="655.62" y="276.63" width="3.9" height="3.9"/>
<rect x="655.62" y="284.41" width="3.9" height="3.9"/>
<rect x="655.62" y="292.19" width="3.9" height="3.9"/>
<rect x="655.62" y="299.97" width="3.9" height="3.9"/>
</g>
</g>
<g>
<polygon fill="#8bb7e3" fill-opacity="0.75" points="666.76,301.10 666.76,109.30 668.26,107.10 669.96,107.10 672.26,110.90 672.26,301.10"/>
<g fill="#3b4b65" clip-path="url(#c59)">
<rect x="666.56" y="106.30" width="4.0" height="3.6999999999999997"/>
<rect x="664.66" y="107.83" width="3.9" height="3.9"/>
<rect x="664.66" y="115.61" width="3.9" height="3.9"/>
<rect x="664.66" y="123.39" width="3.9" height="3.9"/>
<rect x="664.66" y="131.17" width="3.9" height="3.9"/>
<rect x="664.66" y="138.95" width="3.9" height="3.9"/>
<rect x="664.66" y="146.73" width="3.9" height="3.9"/>
<rect x="664.66" y="154.51" width="3.9" height="3.9"/>
<rect x="664.66" y="162.29" width="3.9" height="3.9"/>
<rect x="664.66" y="170.07" width="3.9" height="3.9"/>
<rect x="664.66" y="177.85" width="3.9" height="3.9"/>
<rect x="664.66" y="185.63" width="3.9" height="3.9"/>
<rect x="664.66" y="193.41" width="3.9" height="3.9"/>
<rect x="664.66" y="201.19" width="3.9" height="3.9"/>
<rect x="664.66" y="208.97" width="3.9" height="3.9"/>
<rect x="664.66" y="216.75" width="3.9" height="3.9"/>
<rect x="664.66" y="224.53" width="3.9" height="3.9"/>
<rect x="664.66" y="232.31" width="3.9" height="3.9"/>
<rect x="664.66" y="240.09" width="3.9" height="3.9"/>
<rect x="664.66" y="247.87" width="3.9" height="3.9"/>
<rect x="664.66" y="255.65" width="3.9" height="3.9"/>
<rect x="664.66" y="263.43" width="3.9" height="3.9"/>
<rect x="664.66" y="271.21" width="3.9" height="3.9"/>
<rect x="664.66" y="278.99" width="3.9" height="3.9"/>
<rect x="664.66" y="286.77" width="3.9" height="3.9"/>
<rect x="664.66" y="294.55" width="3.9" height="3.9"/>
<rect x="670.06" y="109.73" width="3.9" height="3.9"/>
<rect x="670.06" y="117.51" width="3.9" height="3.9"/>
<rect x="670.06" y="125.29" width="3.9" height="3.9"/>
<rect x="670.06" y="133.07" width="3.9" height="3.9"/>
<rect x="670.06" y="140.85" width="3.9" height="3.9"/>
<rect x="670.06" y="148.63" width="3.9" height="3.9"/>
<rect x="670.06" y="156.41" width="3.9" height="3.9"/>
<rect x="670.06" y="164.19" width="3.9" height="3.9"/>
<rect x="670.06" y="171.97" width="3.9" height="3.9"/>
<rect x="670.06" y="179.75" width="3.9" height="3.9"/>
<rect x="670.06" y="187.53" width="3.9" height="3.9"/>
<rect x="670.06" y="195.31" width="3.9" height="3.9"/>
<rect x="670.06" y="203.09" width="3.9" height="3.9"/>
<rect x="670.06" y="210.87" width="3.9" height="3.9"/>
<rect x="670.06" y="218.65" width="3.9" height="3.9"/>
<rect x="670.06" y="226.43" width="3.9" height="3.9"/>
<rect x="670.06" y="234.21" width="3.9" height="3.9"/>
<rect x="670.06" y="241.99" width="3.9" height="3.9"/>
<rect x="670.06" y="249.77" width="3.9" height="3.9"/>
<rect x="670.06" y="257.55" width="3.9" height="3.9"/>
<rect x="670.06" y="265.33" width="3.9" height="3.9"/>
<rect x="670.06" y="273.11" width="3.9" height="3.9"/>
<rect x="670.06" y="280.89" width="3.9" height="3.9"/>
<rect x="670.06" y="288.67" width="3.9" height="3.9"/>
<rect x="670.06" y="296.45" width="3.9" height="3.9"/>
</g>
<polygon fill="#ffff00" fill-opacity="1" points="672.56,301.10 672.56,210.30 674.06,208.10 675.76,208.10 677.96,211.90 677.96,301.10"/>
<g fill="#ed7d31" clip-path="url(#c60)">
<rect x="672.16" y="207.30" width="4.0" height="3.6999999999999997"/>
<rect x="670.26" y="211.49" width="3.9" height="3.9"/>
<rect x="670.26" y="219.27" width="3.9" height="3.9"/>
<rect x="670.26" y="227.05" width="3.9" height="3.9"/>
<rect x="670.26" y="234.83" width="3.9" height="3.9"/>
<rect x="670.26" y="242.61" width="3.9" height="3.9"/>
<rect x="670.26" y="250.39" width="3.9" height="3.9"/>
<rect x="670.26" y="258.17" width="3.9" height="3.9"/>
<rect x="670.26" y="265.95" width="3.9" height="3.9"/>
<rect x="670.26" y="273.73" width="3.9" height="3.9"/>
<rect x="670.26" y="281.51" width="3.9" height="3.9"/>
<rect x="670.26" y="289.29" width="3.9" height="3.9"/>
<rect x="670.26" y="297.07" width="3.9" height="3.9"/>
<rect x="675.96" y="210.09" width="3.9" height="3.9"/>
<rect x="675.96" y="217.87" width="3.9" height="3.9"/>
<rect x="675.96" y="225.65" width="3.9" height="3.9"/>
<rect x="675.96" y="233.43" width="3.9" height="3.9"/>
<rect x="675.96" y="241.21" width="3.9" height="3.9"/>
<rect x="675.96" y="248.99" width="3.9" height="3.9"/>
<rect x="675.96" y="256.77" width="3.9" height="3.9"/>
<rect x="675.96" y="264.55" width="3.9" height="3.9"/>
<rect x="675.96" y="272.33" width="3.9" height="3.9"/>
<rect x="675.96" y="280.11" width="3.9" height="3.9"/>
<rect x="675.96" y="287.89" width="3.9" height="3.9"/>
<rect x="675.96" y="295.67" width="3.9" height="3.9"/>
</g>
</g>
</g>
<g font-family="Liberation Sans, Arial, sans-serif" font-size="12.5" fill="#1c1c1c" stroke="#1c1c1c" stroke-width="0.2">
<text x="59" y="305.90" text-anchor="end">0</text>
<text x="59" y="258.50" text-anchor="end">0.001</text>
<text x="59" y="211.95" text-anchor="end">0.002</text>
<text x="59" y="164.30" text-anchor="end">0.003</text>
<text x="59" y="116.70" text-anchor="end">0.004</text>
<text x="59" y="68.95" text-anchor="end">0.005</text>
<text x="82.27" y="324.8" text-anchor="middle">1</text>
<text x="102.61" y="324.8" text-anchor="middle">2</text>
<text x="122.95" y="324.8" text-anchor="middle">3</text>
<text x="143.29" y="324.8" text-anchor="middle">4</text>
<text x="163.63" y="324.8" text-anchor="middle">5</text>
<text x="183.97" y="324.8" text-anchor="middle">6</text>
<text x="204.31" y="324.8" text-anchor="middle">7</text>
<text x="224.65" y="324.8" text-anchor="middle">8</text>
<text x="244.99" y="324.8" text-anchor="middle">9</text>
<text x="265.33" y="324.8" text-anchor="middle">10</text>
<text x="285.67" y="324.8" text-anchor="middle">11</text>
<text x="306.01" y="324.8" text-anchor="middle">12</text>
<text x="326.35" y="324.8" text-anchor="middle">13</text>
<text x="346.69" y="324.8" text-anchor="middle">14</text>
<text x="367.03" y="324.8" text-anchor="middle">15</text>
<text x="387.37" y="324.8" text-anchor="middle">16</text>
<text x="407.71" y="324.8" text-anchor="middle">17</text>
<text x="428.05" y="324.8" text-anchor="middle">18</text>
<text x="448.39" y="324.8" text-anchor="middle">19</text>
<text x="468.73" y="324.8" text-anchor="middle">20</text>
<text x="489.07" y="324.8" text-anchor="middle">21</text>
<text x="509.41" y="324.8" text-anchor="middle">22</text>
<text x="529.75" y="324.8" text-anchor="middle">23</text>
<text x="550.09" y="324.8" text-anchor="middle">24</text>
<text x="570.43" y="324.8" text-anchor="middle">25</text>
<text x="590.77" y="324.8" text-anchor="middle">26</text>
<text x="611.11" y="324.8" text-anchor="middle">27</text>
<text x="631.45" y="324.8" text-anchor="middle">28</text>
<text x="651.79" y="324.8" text-anchor="middle">29</text>
<text x="672.13" y="324.8" text-anchor="middle">30</text>
<text x="377" y="345.8" text-anchor="middle" fill="#333" textLength="82" lengthAdjust="spacingAndGlyphs">RUN NUMBER</text>
<text transform="translate(11.8,171.4) rotate(-90)" text-anchor="middle" fill="#333" textLength="32.6" lengthAdjust="spacingAndGlyphs">RMSE</text>
<text x="274.6" y="17.2" fill="#222">RMO</text>
<text x="329.4" y="17.2" fill="#222" textLength="91" lengthAdjust="spacingAndGlyphs">Proposed IRMO</text>
</g>
<rect x="247.6" y="1.4" width="182.6" height="23.8" fill="none" stroke="#7ba7de" stroke-width="1.2"/>
<g filter="url(#sb)">
<polygon fill="#a9c9e9" points="264.5,10 269.5,10.5 270.5,15.5 266.5,17 263.8,14"/>
<g fill="#3b4b65">
<rect x="263.40" y="7.80" width="3.7" height="3.6"/>
<rect x="269.00" y="9.60" width="3.7" height="3.6"/>
<rect x="261.10" y="13.20" width="3.7" height="3.6"/>
<rect x="267.00" y="15.20" width="3.7" height="3.6"/>
</g></g>
<g filter="url(#sb)">
<polygon fill="#ffff00" points="319.2,10 324.2,10.5 325.2,15.5 321.2,17 318.5,14"/>
<g fill="#ed7d31">
<rect x="318.10" y="7.80" width="3.7" height="3.6"/>
<rect x="323.70" y="9.60" width="3.7" height="3.6"/>
<rect x="315.80" y="13.20" width="3.7" height="3.6"/>
<rect x="321.70" y="15.20" width="3.7" height="3.6"/>
</g></g>
</svg>
</body></html>
